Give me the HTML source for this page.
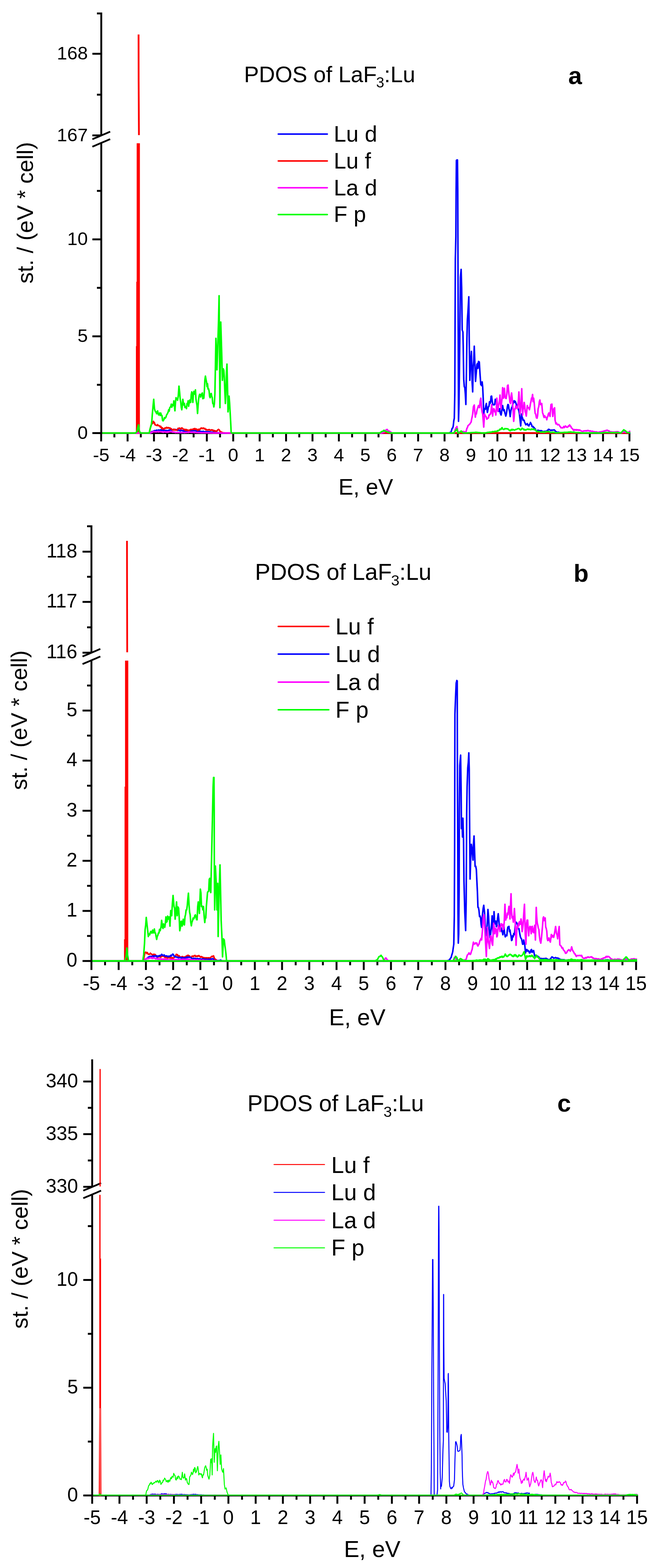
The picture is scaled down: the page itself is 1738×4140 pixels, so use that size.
<!DOCTYPE html><html><head><meta charset="utf-8"><title>PDOS of LaF3:Lu</title><style>html,body{margin:0;padding:0;background:#fff;}svg{display:block;}</style></head><body>
<svg width="1738" height="4140" viewBox="0 0 1738 4140" font-family="'Liberation Sans', Arial, Helvetica, sans-serif">
<rect width="1738" height="4140" fill="#fff"/>
<defs>
<clipPath id="paU"><rect x="270" y="33" width="1397.6" height="323.7"/></clipPath>
<clipPath id="paL"><rect x="270" y="378.3" width="1401.6" height="770.2"/></clipPath>
<clipPath id="pbU"><rect x="244" y="1387" width="1441.1" height="335.3"/></clipPath>
<clipPath id="pbL"><rect x="244" y="1744.3" width="1445.1" height="798"/></clipPath>
<clipPath id="pcU"><rect x="246" y="2797" width="1441.7" height="335.7"/></clipPath>
<clipPath id="pcL"><rect x="246" y="3154.7" width="1445.7" height="798.7"/></clipPath>
</defs>
<g id="pa">
<line x1="267.5" y1="33" x2="267.5" y2="357.7" stroke="#000" stroke-width="5" stroke-linecap="butt"/>
<line x1="267.5" y1="377.3" x2="267.5" y2="1146" stroke="#000" stroke-width="5" stroke-linecap="butt"/>
<line x1="265" y1="1143.5" x2="1665.1" y2="1143.5" stroke="#000" stroke-width="5" stroke-linecap="butt"/>
<line x1="267.2" y1="1143.5" x2="267.2" y2="1165.5" stroke="#000" stroke-width="5" stroke-linecap="butt"/>
<line x1="302.1" y1="1143.5" x2="302.1" y2="1154.8" stroke="#000" stroke-width="5" stroke-linecap="butt"/>
<line x1="337" y1="1143.5" x2="337" y2="1165.5" stroke="#000" stroke-width="5" stroke-linecap="butt"/>
<line x1="371.9" y1="1143.5" x2="371.9" y2="1154.8" stroke="#000" stroke-width="5" stroke-linecap="butt"/>
<line x1="406.7" y1="1143.5" x2="406.7" y2="1165.5" stroke="#000" stroke-width="5" stroke-linecap="butt"/>
<line x1="441.6" y1="1143.5" x2="441.6" y2="1154.8" stroke="#000" stroke-width="5" stroke-linecap="butt"/>
<line x1="476.5" y1="1143.5" x2="476.5" y2="1165.5" stroke="#000" stroke-width="5" stroke-linecap="butt"/>
<line x1="511.4" y1="1143.5" x2="511.4" y2="1154.8" stroke="#000" stroke-width="5" stroke-linecap="butt"/>
<line x1="546.3" y1="1143.5" x2="546.3" y2="1165.5" stroke="#000" stroke-width="5" stroke-linecap="butt"/>
<line x1="581.2" y1="1143.5" x2="581.2" y2="1154.8" stroke="#000" stroke-width="5" stroke-linecap="butt"/>
<line x1="616" y1="1143.5" x2="616" y2="1165.5" stroke="#000" stroke-width="5" stroke-linecap="butt"/>
<line x1="650.9" y1="1143.5" x2="650.9" y2="1154.8" stroke="#000" stroke-width="5" stroke-linecap="butt"/>
<line x1="685.8" y1="1143.5" x2="685.8" y2="1165.5" stroke="#000" stroke-width="5" stroke-linecap="butt"/>
<line x1="720.7" y1="1143.5" x2="720.7" y2="1154.8" stroke="#000" stroke-width="5" stroke-linecap="butt"/>
<line x1="755.6" y1="1143.5" x2="755.6" y2="1165.5" stroke="#000" stroke-width="5" stroke-linecap="butt"/>
<line x1="790.5" y1="1143.5" x2="790.5" y2="1154.8" stroke="#000" stroke-width="5" stroke-linecap="butt"/>
<line x1="825.4" y1="1143.5" x2="825.4" y2="1165.5" stroke="#000" stroke-width="5" stroke-linecap="butt"/>
<line x1="860.2" y1="1143.5" x2="860.2" y2="1154.8" stroke="#000" stroke-width="5" stroke-linecap="butt"/>
<line x1="895.1" y1="1143.5" x2="895.1" y2="1165.5" stroke="#000" stroke-width="5" stroke-linecap="butt"/>
<line x1="930" y1="1143.5" x2="930" y2="1154.8" stroke="#000" stroke-width="5" stroke-linecap="butt"/>
<line x1="964.9" y1="1143.5" x2="964.9" y2="1165.5" stroke="#000" stroke-width="5" stroke-linecap="butt"/>
<line x1="999.8" y1="1143.5" x2="999.8" y2="1154.8" stroke="#000" stroke-width="5" stroke-linecap="butt"/>
<line x1="1034.7" y1="1143.5" x2="1034.7" y2="1165.5" stroke="#000" stroke-width="5" stroke-linecap="butt"/>
<line x1="1069.6" y1="1143.5" x2="1069.6" y2="1154.8" stroke="#000" stroke-width="5" stroke-linecap="butt"/>
<line x1="1104.4" y1="1143.5" x2="1104.4" y2="1165.5" stroke="#000" stroke-width="5" stroke-linecap="butt"/>
<line x1="1139.3" y1="1143.5" x2="1139.3" y2="1154.8" stroke="#000" stroke-width="5" stroke-linecap="butt"/>
<line x1="1174.2" y1="1143.5" x2="1174.2" y2="1165.5" stroke="#000" stroke-width="5" stroke-linecap="butt"/>
<line x1="1209.1" y1="1143.5" x2="1209.1" y2="1154.8" stroke="#000" stroke-width="5" stroke-linecap="butt"/>
<line x1="1244" y1="1143.5" x2="1244" y2="1165.5" stroke="#000" stroke-width="5" stroke-linecap="butt"/>
<line x1="1278.9" y1="1143.5" x2="1278.9" y2="1154.8" stroke="#000" stroke-width="5" stroke-linecap="butt"/>
<line x1="1313.8" y1="1143.5" x2="1313.8" y2="1165.5" stroke="#000" stroke-width="5" stroke-linecap="butt"/>
<line x1="1348.6" y1="1143.5" x2="1348.6" y2="1154.8" stroke="#000" stroke-width="5" stroke-linecap="butt"/>
<line x1="1383.5" y1="1143.5" x2="1383.5" y2="1165.5" stroke="#000" stroke-width="5" stroke-linecap="butt"/>
<line x1="1418.4" y1="1143.5" x2="1418.4" y2="1154.8" stroke="#000" stroke-width="5" stroke-linecap="butt"/>
<line x1="1453.3" y1="1143.5" x2="1453.3" y2="1165.5" stroke="#000" stroke-width="5" stroke-linecap="butt"/>
<line x1="1488.2" y1="1143.5" x2="1488.2" y2="1154.8" stroke="#000" stroke-width="5" stroke-linecap="butt"/>
<line x1="1523.1" y1="1143.5" x2="1523.1" y2="1165.5" stroke="#000" stroke-width="5" stroke-linecap="butt"/>
<line x1="1557.9" y1="1143.5" x2="1557.9" y2="1154.8" stroke="#000" stroke-width="5" stroke-linecap="butt"/>
<line x1="1592.8" y1="1143.5" x2="1592.8" y2="1165.5" stroke="#000" stroke-width="5" stroke-linecap="butt"/>
<line x1="1627.7" y1="1143.5" x2="1627.7" y2="1154.8" stroke="#000" stroke-width="5" stroke-linecap="butt"/>
<line x1="1662.6" y1="1143.5" x2="1662.6" y2="1165.5" stroke="#000" stroke-width="5" stroke-linecap="butt"/>
<line x1="256" y1="35.5" x2="267.5" y2="35.5" stroke="#000" stroke-width="5" stroke-linecap="butt"/>
<line x1="244" y1="142" x2="267.5" y2="142" stroke="#000" stroke-width="5" stroke-linecap="butt"/>
<line x1="256" y1="250" x2="267.5" y2="250" stroke="#000" stroke-width="5" stroke-linecap="butt"/>
<line x1="244" y1="357.5" x2="267.5" y2="357.5" stroke="#000" stroke-width="5" stroke-linecap="butt"/>
<line x1="256" y1="504" x2="267.5" y2="504" stroke="#000" stroke-width="5" stroke-linecap="butt"/>
<line x1="244" y1="632" x2="267.5" y2="632" stroke="#000" stroke-width="5" stroke-linecap="butt"/>
<line x1="256" y1="760" x2="267.5" y2="760" stroke="#000" stroke-width="5" stroke-linecap="butt"/>
<line x1="244" y1="888" x2="267.5" y2="888" stroke="#000" stroke-width="5" stroke-linecap="butt"/>
<line x1="256" y1="1016" x2="267.5" y2="1016" stroke="#000" stroke-width="5" stroke-linecap="butt"/>
<line x1="244" y1="1143.5" x2="267.5" y2="1143.5" stroke="#000" stroke-width="5" stroke-linecap="butt"/>
<line x1="244" y1="367.7" x2="291" y2="347.7" stroke="#000" stroke-width="4.6" stroke-linecap="butt"/>
<line x1="244" y1="387.3" x2="291" y2="367.3" stroke="#000" stroke-width="4.6" stroke-linecap="butt"/>
<path d="M267.2 1143.4 L268.5 1143.4 L269.8 1143.4 L271.1 1143.4 L272.4 1143.4 L273.7 1143.4 L275 1143.4 L276.3 1143.4 L277.6 1143.4 L279 1143.4 L280.3 1143.4 L281.6 1143.4 L282.9 1143.4 L284.2 1143.4 L285.5 1143.4 L286.8 1143.4 L288.1 1143.4 L289.4 1143.4 L290.7 1143.4 L292 1143.4 L293.3 1143.4 L294.6 1143.4 L295.9 1143.4 L297.2 1143.4 L298.5 1143.4 L299.9 1143.4 L301.2 1143.4 L302.5 1143.4 L303.8 1143.4 L305.1 1143.4 L306.4 1143.4 L307.7 1143.4 L309 1143.4 L310.3 1143.4 L311.6 1143.4 L312.9 1143.4 L314.2 1143.4 L315.5 1143.4 L316.8 1143.4 L318.1 1143.4 L319.4 1143.4 L320.8 1143.4 L322.1 1143.4 L323.4 1143.4 L324.7 1143.4 L326 1143.4 L327.3 1143.4 L328.6 1143.4 L329.9 1143.4 L331.2 1143.4 L332.5 1143.4 L333.8 1143.4 L335.1 1143.4 L336.4 1143.4 L337.7 1143.4 L339 1143.4 L340.3 1143.4 L341.6 1143.4 L343 1143.4 L344.3 1143.4 L345.6 1143.4 L346.9 1143.4 L348.2 1143.4 L349.5 1143.4 L350.8 1143.4 L352.1 1143.4 L353.4 1143.4 L354.7 1143.4 L356 1143.4 L357.3 1143.4 L358.6 1143.4 L359.9 1143.4 L361.2 1143.4 L362.5 1143.4 L363.9 1143.4 L365.2 1143.4 L366.5 1143.4 L367.8 1143.4 L369.1 1143.4 L370.4 1143.4 L371.7 1143.4 L373 1143.4 L374.3 1143.4 L375.6 1143.4 L376.9 1143.4 L378.2 1143.4 L379.5 1143.4 L380.8 1143.4 L382.1 1143.4 L383.4 1143.4 L384.7 1143.4 L386.1 1143.4 L387.4 1143.4 L388.7 1143.4 L390 1143.4 L391.3 1143.4 L392.6 1143.4 L393.9 1143.4 L395.4 1143.4 L396.9 1143.4 L398.3 1142.1 L399.7 1140.8 L401.1 1139.4 L402.4 1140.7 L403.8 1139.8 L405.2 1138.3 L406.6 1138 L408 1136.7 L409.4 1137 L410.8 1137.7 L412.2 1136.7 L413.5 1135.6 L414.9 1137.5 L416.3 1136.6 L417.7 1135.6 L419.1 1135.5 L420.5 1135.3 L421.9 1136.4 L423.3 1136.2 L424.6 1134.6 L426 1135.7 L427.4 1136.2 L428.8 1136.1 L430.2 1135.1 L431.6 1136.9 L433 1135.6 L434.4 1137.3 L435.7 1136.8 L437.1 1137.2 L438.5 1136.2 L439.9 1137.9 L441.3 1137 L442.7 1137.1 L444.1 1137.5 L445.5 1135.8 L446.8 1136.6 L448.2 1135.2 L449.6 1134.5 L451 1135.3 L452.4 1135.6 L453.8 1135.6 L455.2 1134.7 L456.6 1135.4 L457.9 1133.8 L459.3 1133.7 L460.7 1135.3 L462.1 1134.6 L463.5 1134 L464.9 1134 L466.3 1135.1 L467.7 1135.3 L469 1136.5 L470.4 1135.6 L471.8 1135.1 L473.2 1136.4 L474.6 1136.4 L476 1137.6 L477.4 1135.8 L478.8 1136.7 L480.1 1136 L481.5 1137.2 L482.9 1137.5 L484.3 1136.6 L485.7 1138.4 L487.1 1136.7 L488.5 1138.6 L489.9 1138 L491.2 1138.8 L492.6 1137.8 L494 1138.1 L495.4 1138.3 L496.8 1137.5 L498.2 1137 L499.6 1136.8 L501 1137.2 L502.3 1137.1 L503.7 1137 L505.1 1138 L506.5 1136.4 L507.9 1136.5 L509.3 1137.5 L510.7 1136.1 L512.1 1136.7 L513.5 1137.1 L514.8 1137.3 L516.2 1136.7 L517.6 1137 L519 1138.9 L520.4 1139.1 L521.8 1137.6 L523.2 1138.9 L524.6 1139.8 L525.9 1138.6 L527.3 1138.8 L528.7 1138.3 L530.1 1139.2 L531.5 1139.3 L532.9 1139.4 L534.3 1139.4 L535.7 1139.6 L537 1138.6 L538.4 1140.4 L539.8 1139.7 L541.2 1140.7 L542.6 1140.2 L544 1139.4 L545.4 1140 L546.8 1139.8 L548.1 1140.8 L549.5 1139.6 L550.9 1139.9 L552.3 1140.1 L553.7 1140.1 L555.1 1140.6 L556.5 1140.8 L557.9 1141.6 L559.2 1141 L560.6 1142.1 L562 1141 L563.4 1140.9 L564.8 1141.9 L566.2 1142 L567.6 1142.2 L569 1142.3 L570.3 1142.3 L571.7 1142.4 L573.1 1142.5 L574.5 1142.6 L575.9 1142.6 L577.3 1142.7 L578.7 1142.8 L580.1 1142.8 L581.4 1142.9 L582.8 1143 L584.2 1143.1 L585.6 1143.2 L587 1143.2 L588.4 1143.3 L589.8 1143.4 L591.2 1143.4 L592.5 1143.4 L593.9 1143.4 L595.3 1143.4 L596.7 1143.4 L598.1 1143.4 L599.5 1143.4 L600.9 1143.4 L602.3 1143.4 L603.6 1143.4 L605 1143.4 L606.4 1143.4 L607.8 1143.4 L609.2 1143.4 L610.6 1143.4 L611.9 1143.4 L613.2 1143.4 L614.5 1143.4 L615.8 1143.4 L617.1 1143.4 L618.4 1143.4 L619.7 1143.4 L621 1143.4 L622.3 1143.4 L623.6 1143.4 L624.9 1143.4 L626.2 1143.4 L627.5 1143.4 L628.8 1143.4 L630.1 1143.4 L631.4 1143.4 L632.7 1143.4 L634 1143.4 L635.3 1143.4 L636.6 1143.4 L637.9 1143.4 L639.2 1143.4 L640.5 1143.4 L641.8 1143.4 L643.1 1143.4 L644.4 1143.4 L645.7 1143.4 L647 1143.4 L648.3 1143.4 L649.6 1143.4 L650.9 1143.4 L652.2 1143.4 L653.5 1143.4 L654.9 1143.4 L656.2 1143.4 L657.5 1143.4 L658.8 1143.4 L660.1 1143.4 L661.4 1143.4 L662.7 1143.4 L664 1143.4 L665.3 1143.4 L666.6 1143.4 L667.9 1143.4 L669.2 1143.4 L670.5 1143.4 L671.8 1143.4 L673.1 1143.4 L674.4 1143.4 L675.7 1143.4 L677 1143.4 L678.3 1143.4 L679.6 1143.4 L680.9 1143.4 L682.2 1143.4 L683.5 1143.4 L684.8 1143.4 L686.1 1143.4 L687.4 1143.4 L688.7 1143.4 L690 1143.4 L691.3 1143.4 L692.6 1143.4 L693.9 1143.4 L695.2 1143.4 L696.5 1143.4 L697.8 1143.4 L699.1 1143.4 L700.4 1143.4 L701.7 1143.4 L703 1143.4 L704.3 1143.4 L705.6 1143.4 L706.9 1143.4 L708.2 1143.4 L709.5 1143.4 L710.8 1143.4 L712.1 1143.4 L713.4 1143.4 L714.7 1143.4 L716 1143.4 L717.3 1143.4 L718.7 1143.4 L720 1143.4 L721.3 1143.4 L722.6 1143.4 L723.9 1143.4 L725.2 1143.4 L726.5 1143.4 L727.8 1143.4 L729.1 1143.4 L730.4 1143.4 L731.7 1143.4 L733 1143.4 L734.3 1143.4 L735.6 1143.4 L736.9 1143.4 L738.2 1143.4 L739.5 1143.4 L740.8 1143.4 L742.1 1143.4 L743.4 1143.4 L744.7 1143.4 L746 1143.4 L747.3 1143.4 L748.6 1143.4 L749.9 1143.4 L751.2 1143.4 L752.5 1143.4 L753.8 1143.4 L755.1 1143.4 L756.4 1143.4 L757.7 1143.4 L759 1143.4 L760.3 1143.4 L761.6 1143.4 L762.9 1143.4 L764.2 1143.4 L765.5 1143.4 L766.8 1143.4 L768.1 1143.4 L769.4 1143.4 L770.7 1143.4 L772 1143.4 L773.3 1143.4 L774.6 1143.4 L775.9 1143.4 L777.2 1143.4 L778.5 1143.4 L779.8 1143.4 L781.1 1143.4 L782.5 1143.4 L783.8 1143.4 L785.1 1143.4 L786.4 1143.4 L787.7 1143.4 L789 1143.4 L790.3 1143.4 L791.6 1143.4 L792.9 1143.4 L794.2 1143.4 L795.5 1143.4 L796.8 1143.4 L798.1 1143.4 L799.4 1143.4 L800.7 1143.4 L802 1143.4 L803.3 1143.4 L804.6 1143.4 L805.9 1143.4 L807.2 1143.4 L808.5 1143.4 L809.8 1143.4 L811.1 1143.4 L812.4 1143.4 L813.7 1143.4 L815 1143.4 L816.3 1143.4 L817.6 1143.4 L818.9 1143.4 L820.2 1143.4 L821.5 1143.4 L822.8 1143.4 L824.1 1143.4 L825.4 1143.4 L826.7 1143.4 L828 1143.4 L829.3 1143.4 L830.6 1143.4 L831.9 1143.4 L833.2 1143.4 L834.5 1143.4 L835.8 1143.4 L837.1 1143.4 L838.4 1143.4 L839.7 1143.4 L841 1143.4 L842.3 1143.4 L843.6 1143.4 L844.9 1143.4 L846.2 1143.4 L847.6 1143.4 L848.9 1143.4 L850.2 1143.4 L851.5 1143.4 L852.8 1143.4 L854.1 1143.4 L855.4 1143.4 L856.7 1143.4 L858 1143.4 L859.3 1143.4 L860.6 1143.4 L861.9 1143.4 L863.2 1143.4 L864.5 1143.4 L865.8 1143.4 L867.1 1143.4 L868.4 1143.4 L869.7 1143.4 L871 1143.4 L872.3 1143.4 L873.6 1143.4 L874.9 1143.4 L876.2 1143.4 L877.5 1143.4 L878.8 1143.4 L880.1 1143.4 L881.4 1143.4 L882.7 1143.4 L884 1143.4 L885.3 1143.4 L886.6 1143.4 L887.9 1143.4 L889.2 1143.4 L890.5 1143.4 L891.8 1143.4 L893.1 1143.4 L894.4 1143.4 L895.7 1143.4 L897 1143.4 L898.3 1143.4 L899.6 1143.4 L900.9 1143.4 L902.2 1143.4 L903.5 1143.4 L904.8 1143.4 L906.1 1143.4 L907.4 1143.4 L908.7 1143.4 L910 1143.4 L911.4 1143.4 L912.7 1143.4 L914 1143.4 L915.3 1143.4 L916.6 1143.4 L917.9 1143.4 L919.2 1143.4 L920.5 1143.4 L921.8 1143.4 L923.1 1143.4 L924.4 1143.4 L925.7 1143.4 L927 1143.4 L928.3 1143.4 L929.6 1143.4 L930.9 1143.4 L932.2 1143.4 L933.5 1143.4 L934.8 1143.4 L936.1 1143.4 L937.4 1143.4 L938.7 1143.4 L940 1143.4 L941.3 1143.4 L942.6 1143.4 L943.9 1143.4 L945.2 1143.4 L946.5 1143.4 L947.8 1143.4 L949.1 1143.4 L950.4 1143.4 L951.7 1143.4 L953 1143.4 L954.3 1143.4 L955.6 1143.4 L956.9 1143.4 L958.2 1143.4 L959.5 1143.4 L960.8 1143.4 L962.1 1143.4 L963.4 1143.4 L964.7 1143.4 L966 1143.4 L967.3 1143.4 L968.6 1143.4 L969.9 1143.4 L971.2 1143.4 L972.5 1143.4 L973.8 1143.4 L975.1 1143.4 L976.5 1143.4 L977.8 1143.4 L979.1 1143.4 L980.4 1143.4 L981.7 1143.4 L983 1143.4 L984.3 1143.4 L985.6 1143.4 L986.9 1143.4 L988.2 1143.4 L989.5 1143.4 L990.8 1143.4 L992.1 1143.4 L993.4 1143.4 L994.7 1143.4 L996 1143.4 L997.3 1143.4 L998.6 1143.4 L999.9 1143.4 L1001.2 1143.4 L1002.5 1143.4 L1003.8 1143.4 L1005.1 1143.4 L1006.4 1143.4 L1007.7 1143.4 L1009 1143.4 L1010.3 1143.4 L1011.6 1143.4 L1012.9 1143.4 L1014.2 1143.4 L1015.5 1143.4 L1016.8 1143.4 L1018.1 1143.4 L1019.4 1143.4 L1020.7 1143.4 L1022 1143.4 L1023.3 1143.4 L1024.6 1143.4 L1025.9 1143.4 L1027.2 1143.4 L1028.5 1143.4 L1029.8 1143.4 L1031.1 1143.4 L1032.4 1143.4 L1033.7 1143.4 L1035 1143.4 L1036.3 1143.4 L1037.6 1143.4 L1038.9 1143.4 L1040.3 1143.4 L1041.6 1143.4 L1042.9 1143.4 L1044.2 1143.4 L1045.5 1143.4 L1046.8 1143.4 L1048.1 1143.4 L1049.4 1143.4 L1050.7 1143.4 L1052 1143.4 L1053.3 1143.4 L1054.6 1143.4 L1055.9 1143.4 L1057.2 1143.4 L1058.5 1143.4 L1059.8 1143.4 L1061.1 1143.4 L1062.4 1143.4 L1063.7 1143.4 L1065 1143.4 L1066.3 1143.4 L1067.6 1143.4 L1068.9 1143.4 L1070.2 1143.4 L1071.5 1143.4 L1072.8 1143.4 L1074.1 1143.4 L1075.4 1143.4 L1076.7 1143.4 L1078 1143.4 L1079.3 1143.4 L1080.6 1143.4 L1081.9 1143.4 L1083.2 1143.4 L1084.5 1143.4 L1085.8 1143.4 L1087.1 1143.4 L1088.4 1143.4 L1089.7 1143.4 L1091 1143.4 L1092.3 1143.4 L1093.6 1143.4 L1094.9 1143.4 L1096.2 1143.4 L1097.5 1143.4 L1098.8 1143.4 L1100.1 1143.4 L1101.4 1143.4 L1102.7 1143.4 L1104.1 1143.4 L1105.4 1143.4 L1106.7 1143.4 L1108 1143.4 L1109.3 1143.4 L1110.6 1143.4 L1111.9 1143.4 L1113.2 1143.4 L1114.5 1143.4 L1115.8 1143.4 L1117.1 1143.4 L1118.4 1143.4 L1119.7 1143.4 L1121 1143.4 L1122.3 1143.4 L1123.6 1143.4 L1124.9 1143.4 L1126.2 1143.4 L1127.5 1143.4 L1128.8 1143.4 L1130.1 1143.4 L1131.4 1143.4 L1132.7 1143.4 L1134 1143.4 L1135.3 1143.4 L1136.6 1143.4 L1137.9 1143.4 L1139.2 1143.4 L1140.5 1143.4 L1141.8 1143.4 L1143.1 1143.4 L1144.4 1143.4 L1145.7 1143.4 L1147 1143.4 L1148.3 1143.4 L1149.6 1143.4 L1150.9 1143.4 L1152.2 1143.4 L1153.5 1143.4 L1154.8 1143.4 L1156.1 1143.4 L1157.4 1143.4 L1158.7 1143.4 L1160 1143.4 L1161.3 1143.4 L1162.6 1143.4 L1163.9 1143.4 L1165.2 1143.4 L1166.5 1143.4 L1167.8 1143.4 L1169.2 1143.4 L1170.5 1143.4 L1171.8 1143.4 L1173.1 1143.4 L1174.4 1143.4 L1175.7 1143.4 L1177 1143.4 L1178.3 1143.4 L1179.6 1143.4 L1180.9 1143.4 L1182.2 1143.4 L1183.5 1143.4 L1184.8 1143.4 L1186.1 1143.4 L1187.5 1142.5 L1188.9 1141.6 L1190.2 1141.6 L1191.6 1140 L1193 1135.3 L1194.4 1130.7 L1195.8 1130.3 L1197.2 1124.6 L1198.6 1111 L1200 1104.1 L1201.3 1037.5 L1201.9 879.3 L1202.7 683.1 L1204.1 624.8 L1204.7 509.7 L1205.5 423.6 L1206.9 422.3 L1208.3 422.3 L1209.1 500 L1209.7 695.6 L1210.5 926.5 L1211.1 1112.5 L1212.4 1065.3 L1214.4 898.8 L1216 732.2 L1218 711.4 L1219.4 760 L1220.8 871 L1222.7 876.6 L1223.5 912.6 L1224.9 1001.4 L1226.3 1020.7 L1227.7 1023.6 L1229.1 1040.7 L1230.5 1068 L1231.9 989.2 L1233.3 893.2 L1234.6 842.8 L1236 823.8 L1238.3 783.6 L1239.4 898.8 L1241 1004.2 L1243 954.3 L1245.2 927.9 L1247.1 1009.8 L1248.5 1034.7 L1249.9 968.1 L1251.3 952.6 L1252.7 914 L1254.1 954.3 L1256 1007 L1258.2 982 L1259.6 962.9 L1261 959.8 L1262.4 972.6 L1263.8 954.3 L1266 955.7 L1267.9 987.6 L1269.9 1015.3 L1272.1 1018.1 L1273.5 1008.2 L1274.9 1020.9 L1276.3 1051.4 L1277.7 1093 L1279 1082.9 L1280.4 1079.1 L1281.8 1080.7 L1283.2 1070.7 L1284.6 1065.3 L1286 1079.3 L1287.4 1088.9 L1288.8 1081.7 L1290.1 1073.6 L1291.5 1073.3 L1292.9 1060.9 L1294.3 1065.3 L1295.7 1062.5 L1297.1 1046.4 L1298.5 1045.8 L1299.9 1058.2 L1301.2 1065.3 L1302.6 1068.9 L1304 1068 L1305.4 1068.9 L1306.8 1067.6 L1308.2 1054.2 L1309.6 1054.5 L1311 1059.7 L1312.3 1062.8 L1313.7 1076.4 L1315.1 1081.7 L1316.5 1086.1 L1318.2 1086 L1319.8 1079.1 L1321.6 1091.4 L1323.5 1095.8 L1324.8 1089.6 L1326.2 1076.2 L1327.6 1070.8 L1329 1079.4 L1330.4 1084.4 L1331.8 1081.9 L1333.2 1088.9 L1334.6 1093.6 L1335.9 1098.6 L1337.3 1093.7 L1338.7 1084.9 L1340.1 1074 L1341.5 1068 L1342.9 1068.9 L1344.3 1079.1 L1345.9 1086.5 L1347.6 1100 L1349.4 1085 L1351.2 1076.4 L1352.6 1075.4 L1354 1068.5 L1355.4 1065.3 L1356.8 1060.4 L1358.1 1058.1 L1359.5 1062.5 L1360.9 1059.6 L1362.3 1063 L1363.7 1068 L1365.1 1077.4 L1366.5 1068.5 L1367.9 1079.1 L1369.2 1080.4 L1370.6 1085.6 L1372 1093 L1373.7 1109.8 L1375.3 1124.6 L1377.6 1093 L1379 1101.5 L1380.3 1103.6 L1381.7 1109.7 L1383.1 1108.9 L1384.5 1110.1 L1385.9 1115.4 L1387.3 1117.6 L1388.7 1121.5 L1390.1 1120.5 L1391.4 1120.5 L1392.8 1118.5 L1394.2 1122.5 L1395.6 1123.6 L1397 1124.6 L1398.4 1120.4 L1399.8 1120 L1401.2 1115.4 L1402.5 1118.7 L1403.9 1120.8 L1405.3 1126.1 L1406.7 1127.1 L1408.1 1126.2 L1409.5 1129 L1410.9 1129.1 L1412.3 1132.4 L1413.6 1132 L1415 1135.5 L1416.4 1138 L1417.8 1138.5 L1419.2 1138.4 L1420.6 1135.8 L1422 1136.7 L1423.4 1136.6 L1424.7 1137 L1426.1 1138.3 L1427.5 1137.2 L1428.9 1137 L1430.3 1137.3 L1431.7 1138.4 L1433.1 1138.9 L1434.5 1139.1 L1435.8 1139.2 L1437.2 1139.3 L1438.6 1139.4 L1440 1138.4 L1441.4 1139.3 L1442.8 1139 L1444.2 1138 L1445.6 1136.5 L1447.1 1137.2 L1448.5 1133.6 L1450 1133.7 L1451.4 1134.2 L1452.7 1135 L1454.1 1136.4 L1455.7 1136.6 L1457.3 1135.3 L1458.9 1135.7 L1460.4 1135.7 L1461.9 1135.4 L1463.4 1134.9 L1464.9 1135.7 L1466.7 1137.9 L1468.5 1140 L1469.9 1140.2 L1471.2 1140.6 L1472.6 1141.6 L1474 1141.7 L1475.4 1140.9 L1476.7 1141.7 L1478.1 1141.9 L1479.4 1142 L1480.8 1142.1 L1482.1 1142.2 L1483.4 1142.3 L1484.8 1142.4 L1486.1 1142.5 L1487.5 1142.7 L1488.8 1142.8 L1490.1 1142.9 L1491.5 1142.9 L1492.8 1142.9 L1494.1 1142.9 L1495.5 1142.9 L1496.8 1143 L1498.1 1143 L1499.5 1143 L1500.8 1143 L1502.2 1143 L1503.5 1143.1 L1504.8 1143.1 L1506.2 1143.1 L1507.5 1143.1 L1508.8 1143.1 L1510.2 1143.2 L1511.5 1143.2 L1512.8 1143.2 L1514.2 1143.2 L1515.5 1143.2 L1516.9 1143.3 L1518.2 1143.3 L1519.5 1143.3 L1520.9 1143.3 L1522.2 1143.3 L1523.5 1143.4 L1524.9 1143.4 L1526.2 1143.4 L1527.5 1143.4 L1528.8 1143.4 L1530.1 1143.4 L1531.4 1143.4 L1532.7 1143.4 L1534 1143.4 L1535.3 1143.4 L1536.6 1143.4 L1537.9 1143.4 L1539.2 1143.4 L1540.5 1143.4 L1541.8 1143.4 L1543.1 1143.4 L1544.4 1143.4 L1545.7 1143.4 L1547 1143.4 L1548.3 1143.4 L1549.6 1143.4 L1550.9 1143.4 L1552.2 1143.4 L1553.5 1143.4 L1554.8 1143.4 L1556.1 1143.4 L1557.4 1143.4 L1558.7 1143.4 L1560 1143.4 L1561.3 1143.4 L1562.6 1143.4 L1563.9 1143.4 L1565.2 1143.4 L1566.5 1143.4 L1567.8 1143.4 L1569.1 1143.4 L1570.4 1143.4 L1571.7 1143.4 L1573 1143.4 L1574.3 1143.4 L1575.6 1143.4 L1577 1143.4 L1578.3 1143.4 L1579.6 1143.4 L1580.9 1143.4 L1582.2 1143.4 L1583.6 1143.4 L1584.9 1143.4 L1586.2 1143.4 L1587.5 1143.4 L1588.8 1143.4 L1590.2 1143.4 L1591.5 1143.4 L1592.8 1143.4 L1594.1 1143.4 L1595.4 1143.4 L1596.8 1143.4 L1598.1 1143.4 L1599.4 1143.4 L1600.7 1143.4 L1602 1143.4 L1603.4 1143.4 L1604.7 1143.4 L1606 1143.4 L1607.3 1143.4 L1608.6 1143.4 L1610 1143.4 L1611.3 1143.4 L1612.6 1143.4 L1613.9 1143.4 L1615.2 1143.4 L1616.6 1143.4 L1617.9 1143.4 L1619.2 1143.4 L1620.5 1143.4 L1621.8 1143.4 L1623.2 1143.4 L1624.5 1143.4 L1625.8 1143.4 L1627.1 1143.4 L1628.5 1143.4 L1629.8 1143.4 L1631.1 1143.4 L1632.4 1143.4 L1633.7 1143.4 L1635.1 1143.4 L1636.4 1143.4 L1637.7 1143.4 L1639 1143.4 L1640.3 1143.4 L1641.7 1143.4 L1643.5 1142.3 L1645.3 1141.2 L1647.7 1139.5 L1650.1 1142.4 L1651.4 1142.5 L1652.7 1142.6 L1654 1142.7 L1655.4 1142.8 L1656.7 1142.9 L1658 1143 L1659.3 1143.1 L1660.7 1143.2 L1662 1143.3 L1663.3 1143.4 L1662.6 1143.4" fill="none" stroke="#0000ff" stroke-width="4.1" stroke-linejoin="round" stroke-linecap="butt" clip-path="url(#paL)"/>
<path d="M267.2 1143.4 L268.5 1143.4 L269.8 1143.4 L271.1 1143.4 L272.4 1143.4 L273.7 1143.4 L275 1143.4 L276.3 1143.4 L277.6 1143.4 L278.9 1143.4 L280.2 1143.4 L281.5 1143.4 L282.9 1143.4 L284.2 1143.4 L285.5 1143.4 L286.8 1143.4 L288.1 1143.4 L289.4 1143.4 L290.7 1143.4 L292 1143.4 L293.3 1143.4 L294.6 1143.4 L295.9 1143.4 L297.2 1143.4 L298.5 1143.4 L299.8 1143.4 L301.1 1143.4 L302.4 1143.4 L303.7 1143.4 L305 1143.4 L306.3 1143.4 L307.6 1143.4 L308.9 1143.4 L310.2 1143.4 L311.5 1143.4 L312.9 1143.4 L314.2 1143.4 L315.5 1143.4 L316.8 1143.4 L318.1 1143.4 L319.4 1143.4 L320.7 1143.4 L322 1143.4 L323.3 1143.4 L324.6 1143.4 L325.9 1143.4 L327.2 1143.4 L328.5 1143.4 L329.8 1143.4 L331.1 1143.4 L332.4 1143.4 L333.7 1143.4 L335 1143.4 L336.3 1143.4 L337.6 1143.4 L338.9 1143.4 L340.2 1143.4 L341.5 1143.4 L342.9 1143.4 L344.2 1143.4 L345.5 1143.4 L346.8 1143.4 L348.1 1143.4 L349.4 1143.4 L350.7 1143.4 L352 1143.4 L353.3 1143.4 L354.6 1143.4 L355.9 1143.4 L357.2 1143.4 L358.5 1143.4 L359.8 1143.4 L361.1 1143.4 L362.4 1143.4 L363.7 1143.4 L365 1143.4 L366.3 1143.4 L367.6 1143.4 L368.9 1143.4 L370.2 1143.4 L371.6 1143.4 L372.9 1143.4 L374.2 1143.4 L375.5 1143.4 L376.8 1143.4 L378.1 1143.4 L379.4 1143.4 L380.7 1143.4 L382 1143.4 L383.3 1143.4 L384.6 1143.4 L385.9 1143.4 L387.2 1143.4 L388.5 1143.4 L389.8 1143.4 L391.1 1143.4 L392.6 1143.4 L394.1 1143.4 L395.5 1137.8 L396.9 1130.7 L398.3 1125.3 L399.7 1121.5 L401.1 1118.5 L402.4 1118.5 L403.8 1117.6 L405.2 1112.5 L406.6 1115.4 L408 1116.1 L409.4 1121.5 L410.8 1121.9 L412.2 1122.8 L413.5 1123 L414.9 1123.6 L416.3 1121.2 L417.7 1123 L419.1 1124.2 L420.5 1124.1 L421.9 1124.6 L423.3 1127.7 L424.6 1125.6 L426 1129.1 L427.4 1131.7 L428.8 1129.4 L430.2 1132.6 L431.6 1132.2 L433 1131.8 L434.4 1132.6 L435.7 1129.9 L437.1 1130.7 L438.5 1129.6 L439.9 1128.3 L441.3 1130.6 L442.7 1129.1 L444.1 1129.8 L445.5 1129 L446.8 1130.7 L448.2 1130.1 L449.6 1130.2 L451 1132.2 L452.4 1132 L453.8 1133.9 L455.2 1134.3 L456.6 1135.3 L457.9 1135.5 L459.3 1133.2 L460.7 1135.1 L462.1 1133.7 L463.5 1135.6 L464.9 1135.2 L466.3 1135.6 L467.7 1135.3 L469 1134.8 L470.4 1130.8 L471.8 1130.7 L473.2 1131 L474.6 1130.2 L476 1132.2 L477.4 1132.8 L478.8 1131.6 L480.1 1129.6 L481.5 1130.7 L482.9 1131.5 L484.3 1133.6 L485.7 1133.7 L487.1 1134.3 L488.5 1133.4 L489.9 1136.1 L491.2 1135.3 L492.6 1134 L494 1136.2 L495.4 1135.3 L496.8 1136.6 L498.2 1136 L499.6 1136.5 L501 1135.3 L502.3 1135 L503.7 1133.7 L505.1 1134 L506.5 1133.7 L507.9 1134.1 L509.3 1133.8 L510.7 1132.2 L512.1 1132.2 L513.5 1134.1 L514.8 1131.4 L516.2 1133.3 L517.6 1133.7 L519 1132.7 L520.4 1134.1 L521.8 1136.3 L523.2 1135.3 L524.6 1133.3 L525.9 1135.2 L527.3 1134.3 L528.7 1132.2 L530.1 1132.5 L531.5 1129.8 L532.9 1131 L534.3 1130.7 L535.7 1131.8 L537 1130 L538.4 1131.1 L539.8 1132.2 L541.2 1131.2 L542.6 1134.1 L544 1134.7 L545.4 1133.7 L546.8 1135.4 L548.1 1135.2 L549.5 1135.1 L550.9 1135.3 L552.3 1134 L553.7 1135.2 L555.1 1136 L556.5 1135.3 L557.9 1136.3 L559.2 1134.7 L560.6 1135 L562 1136.7 L563.4 1136 L564.8 1138.4 L566.2 1136.8 L567.6 1138 L569 1137.8 L570.3 1138 L571.7 1138.9 L573.1 1138 L574.5 1135.7 L575.9 1134.5 L577.3 1133.7 L579.2 1135.3 L581 1138.7 L582.8 1140.8 L584.2 1140.5 L585.6 1141.1 L587 1142 L588.4 1142.4 L589.8 1142.8 L591.2 1142.8 L592.5 1142.9 L593.9 1143 L595.3 1143.1 L596.7 1143.2 L598.1 1143.2 L599.5 1143.3 L600.9 1143.4 L602.3 1143.4 L603.6 1143.4 L605 1143.4 L606.4 1143.4 L607.8 1143.4 L609.2 1143.4 L610.6 1143.4 L612.1 1143.4 L613.6 1143.4 L614.9 1143.4 L616.2 1143.4 L617.5 1143.4 L618.8 1143.4 L620.1 1143.4 L621.4 1143.4 L622.7 1143.4 L624 1143.4 L625.3 1143.4 L626.6 1143.4 L627.9 1143.4 L629.2 1143.4 L630.5 1143.4 L631.8 1143.4 L633.1 1143.4 L634.4 1143.4 L635.7 1143.4 L637 1143.4 L638.3 1143.4 L639.6 1143.4 L640.9 1143.4 L642.2 1143.4 L643.5 1143.4 L644.8 1143.4 L646.1 1143.4 L647.4 1143.4 L648.7 1143.4 L650 1143.4 L651.3 1143.4 L652.6 1143.4 L653.9 1143.4 L655.2 1143.4 L656.5 1143.4 L657.8 1143.4 L659.1 1143.4 L660.4 1143.4 L661.7 1143.4 L663 1143.4 L664.3 1143.4 L665.6 1143.4 L666.9 1143.4 L668.2 1143.4 L669.5 1143.4 L670.8 1143.4 L672.2 1143.4 L673.5 1143.4 L674.8 1143.4 L676.1 1143.4 L677.4 1143.4 L678.7 1143.4 L680 1143.4 L681.3 1143.4 L682.6 1143.4 L683.9 1143.4 L685.2 1143.4 L686.5 1143.4 L687.8 1143.4 L689.1 1143.4 L690.4 1143.4 L691.7 1143.4 L693 1143.4 L694.3 1143.4 L695.6 1143.4 L696.9 1143.4 L698.2 1143.4 L699.5 1143.4 L700.8 1143.4 L702.1 1143.4 L703.4 1143.4 L704.7 1143.4 L706 1143.4 L707.3 1143.4 L708.6 1143.4 L709.9 1143.4 L711.2 1143.4 L712.5 1143.4 L713.8 1143.4 L715.1 1143.4 L716.4 1143.4 L717.7 1143.4 L719 1143.4 L720.3 1143.4 L721.6 1143.4 L722.9 1143.4 L724.2 1143.4 L725.5 1143.4 L726.8 1143.4 L728.1 1143.4 L729.4 1143.4 L730.7 1143.4 L732 1143.4 L733.3 1143.4 L734.6 1143.4 L735.9 1143.4 L737.2 1143.4 L738.5 1143.4 L739.8 1143.4 L741.1 1143.4 L742.4 1143.4 L743.7 1143.4 L745 1143.4 L746.3 1143.4 L747.6 1143.4 L748.9 1143.4 L750.2 1143.4 L751.5 1143.4 L752.8 1143.4 L754.1 1143.4 L755.4 1143.4 L756.7 1143.4 L758.1 1143.4 L759.4 1143.4 L760.7 1143.4 L762 1143.4 L763.3 1143.4 L764.6 1143.4 L765.9 1143.4 L767.2 1143.4 L768.5 1143.4 L769.8 1143.4 L771.1 1143.4 L772.4 1143.4 L773.7 1143.4 L775 1143.4 L776.3 1143.4 L777.6 1143.4 L778.9 1143.4 L780.2 1143.4 L781.5 1143.4 L782.8 1143.4 L784.1 1143.4 L785.4 1143.4 L786.7 1143.4 L788 1143.4 L789.3 1143.4 L790.6 1143.4 L791.9 1143.4 L793.2 1143.4 L794.5 1143.4 L795.8 1143.4 L797.1 1143.4 L798.4 1143.4 L799.7 1143.4 L801 1143.4 L802.3 1143.4 L803.6 1143.4 L804.9 1143.4 L806.2 1143.4 L807.5 1143.4 L808.8 1143.4 L810.1 1143.4 L811.4 1143.4 L812.7 1143.4 L814 1143.4 L815.3 1143.4 L816.6 1143.4 L817.9 1143.4 L819.2 1143.4 L820.5 1143.4 L821.8 1143.4 L823.1 1143.4 L824.4 1143.4 L825.7 1143.4 L827 1143.4 L828.3 1143.4 L829.6 1143.4 L830.9 1143.4 L832.2 1143.4 L833.5 1143.4 L834.8 1143.4 L836.1 1143.4 L837.4 1143.4 L838.7 1143.4 L840 1143.4 L841.3 1143.4 L842.6 1143.4 L844 1143.4 L845.3 1143.4 L846.6 1143.4 L847.9 1143.4 L849.2 1143.4 L850.5 1143.4 L851.8 1143.4 L853.1 1143.4 L854.4 1143.4 L855.7 1143.4 L857 1143.4 L858.3 1143.4 L859.6 1143.4 L860.9 1143.4 L862.2 1143.4 L863.5 1143.4 L864.8 1143.4 L866.1 1143.4 L867.4 1143.4 L868.7 1143.4 L870 1143.4 L871.3 1143.4 L872.6 1143.4 L873.9 1143.4 L875.2 1143.4 L876.5 1143.4 L877.8 1143.4 L879.1 1143.4 L880.4 1143.4 L881.7 1143.4 L883 1143.4 L884.3 1143.4 L885.6 1143.4 L886.9 1143.4 L888.2 1143.4 L889.5 1143.4 L890.8 1143.4 L892.1 1143.4 L893.4 1143.4 L894.7 1143.4 L896 1143.4 L897.3 1143.4 L898.6 1143.4 L899.9 1143.4 L901.2 1143.4 L902.5 1143.4 L903.8 1143.4 L905.1 1143.4 L906.4 1143.4 L907.7 1143.4 L909 1143.4 L910.3 1143.4 L911.6 1143.4 L912.9 1143.4 L914.2 1143.4 L915.5 1143.4 L916.8 1143.4 L918.1 1143.4 L919.4 1143.4 L920.7 1143.4 L922 1143.4 L923.3 1143.4 L924.6 1143.4 L925.9 1143.4 L927.2 1143.4 L928.5 1143.4 L929.8 1143.4 L931.2 1143.4 L932.5 1143.4 L933.8 1143.4 L935.1 1143.4 L936.4 1143.4 L937.7 1143.4 L939 1143.4 L940.3 1143.4 L941.6 1143.4 L942.9 1143.4 L944.2 1143.4 L945.5 1143.4 L946.8 1143.4 L948.1 1143.4 L949.4 1143.4 L950.7 1143.4 L952 1143.4 L953.3 1143.4 L954.6 1143.4 L955.9 1143.4 L957.2 1143.4 L958.5 1143.4 L959.8 1143.4 L961.1 1143.4 L962.4 1143.4 L963.7 1143.4 L965 1143.4 L966.3 1143.4 L967.6 1143.4 L968.9 1143.4 L970.2 1143.4 L971.5 1143.4 L972.8 1143.4 L974.1 1143.4 L975.4 1143.4 L976.7 1143.4 L978 1143.4 L979.3 1143.4 L980.6 1143.4 L981.9 1143.4 L983.2 1143.4 L984.5 1143.4 L985.8 1143.4 L987.1 1143.4 L988.4 1143.4 L989.7 1143.4 L991 1143.4 L992.3 1143.4 L993.6 1143.4 L994.9 1143.4 L996.2 1143.4 L997.5 1143.4 L998.8 1143.4 L1000.1 1143.4 L1001.4 1143.4 L1002.7 1143.4 L1004 1143.4 L1005.3 1143.4 L1006.6 1143.4 L1007.9 1143.4 L1009.2 1143.4 L1010.5 1143.4 L1011.8 1143.4 L1013.1 1143.4 L1014.4 1143.4 L1015.7 1143.4 L1017.1 1143.4 L1018.4 1143.4 L1019.7 1143.4 L1021 1143.4 L1022.3 1143.4 L1023.6 1143.4 L1024.9 1143.4 L1026.2 1143.4 L1027.5 1143.4 L1028.8 1143.4 L1030.1 1143.4 L1031.4 1143.4 L1032.7 1143.4 L1034 1143.4 L1035.3 1143.4 L1036.6 1143.4 L1037.9 1143.4 L1039.2 1143.4 L1040.5 1143.4 L1041.8 1143.4 L1043.1 1143.4 L1044.4 1143.4 L1045.7 1143.4 L1047 1143.4 L1048.3 1143.4 L1049.6 1143.4 L1050.9 1143.4 L1052.2 1143.4 L1053.5 1143.4 L1054.8 1143.4 L1056.1 1143.4 L1057.4 1143.4 L1058.7 1143.4 L1060 1143.4 L1061.3 1143.4 L1062.6 1143.4 L1063.9 1143.4 L1065.2 1143.4 L1066.5 1143.4 L1067.8 1143.4 L1069.1 1143.4 L1070.4 1143.4 L1071.7 1143.4 L1073 1143.4 L1074.3 1143.4 L1075.6 1143.4 L1076.9 1143.4 L1078.2 1143.4 L1079.5 1143.4 L1080.8 1143.4 L1082.1 1143.4 L1083.4 1143.4 L1084.7 1143.4 L1086 1143.4 L1087.3 1143.4 L1088.6 1143.4 L1089.9 1143.4 L1091.2 1143.4 L1092.5 1143.4 L1093.8 1143.4 L1095.1 1143.4 L1096.4 1143.4 L1097.7 1143.4 L1099 1143.4 L1100.3 1143.4 L1101.6 1143.4 L1103 1143.4 L1104.3 1143.4 L1105.6 1143.4 L1106.9 1143.4 L1108.2 1143.4 L1109.5 1143.4 L1110.8 1143.4 L1112.1 1143.4 L1113.4 1143.4 L1114.7 1143.4 L1116 1143.4 L1117.3 1143.4 L1118.6 1143.4 L1119.9 1143.4 L1121.2 1143.4 L1122.5 1143.4 L1123.8 1143.4 L1125.1 1143.4 L1126.4 1143.4 L1127.7 1143.4 L1129 1143.4 L1130.3 1143.4 L1131.6 1143.4 L1132.9 1143.4 L1134.2 1143.4 L1135.5 1143.4 L1136.8 1143.4 L1138.1 1143.4 L1139.4 1143.4 L1140.7 1143.4 L1142 1143.4 L1143.3 1143.4 L1144.6 1143.4 L1145.9 1143.4 L1147.2 1143.4 L1148.5 1143.4 L1149.8 1143.4 L1151.1 1143.4 L1152.4 1143.4 L1153.7 1143.4 L1155 1143.4 L1156.3 1143.4 L1157.6 1143.4 L1158.9 1143.4 L1160.2 1143.4 L1161.5 1143.4 L1162.8 1143.4 L1164.1 1143.4 L1165.4 1143.4 L1166.7 1143.4 L1168 1143.4 L1169.3 1143.4 L1170.6 1143.4 L1171.9 1143.4 L1173.2 1143.4 L1174.5 1143.4 L1175.8 1143.4 L1177.1 1143.4 L1178.4 1143.4 L1179.7 1143.4 L1181 1143.4 L1182.3 1143.4 L1183.6 1143.4 L1184.9 1143.4 L1186.2 1143.4 L1187.5 1143.4 L1188.9 1143.4 L1190.2 1143.4 L1191.5 1143.4 L1192.8 1143.4 L1194.1 1143.4 L1195.4 1143.4 L1196.7 1143.4 L1198 1143.4 L1199.3 1143.4 L1200.6 1143.4 L1201.9 1143.4 L1203.2 1143.4 L1204.5 1143.4 L1205.8 1143.4 L1207.1 1143.4 L1208.4 1143.4 L1209.7 1143.4 L1211 1143.4 L1212.3 1143.4 L1213.6 1143.4 L1214.9 1143.4 L1216.2 1143.4 L1217.5 1143.4 L1218.8 1143.4 L1220.1 1143.4 L1221.4 1143.4 L1222.7 1143.4 L1224 1143.4 L1225.3 1143.4 L1226.6 1143.4 L1227.9 1143.4 L1229.2 1143.4 L1230.5 1143.4 L1231.8 1143.4 L1233.1 1143.4 L1234.4 1143.4 L1235.7 1143.4 L1237 1143.4 L1238.3 1143.4 L1239.6 1143.4 L1240.9 1143.4 L1242.2 1143.4 L1243.5 1143.4 L1244.8 1143.4 L1246.1 1143.4 L1247.4 1143.4 L1248.7 1143.4 L1250 1143.4 L1251.3 1143.4 L1252.6 1143.4 L1253.9 1143.4 L1255.2 1143.4 L1256.5 1143.4 L1257.8 1143.4 L1259.1 1143.4 L1260.4 1143.4 L1261.7 1143.4 L1263 1143.4 L1264.3 1143.4 L1265.6 1143.4 L1266.9 1143.4 L1268.2 1143.4 L1269.5 1143.4 L1270.8 1143.4 L1272.1 1143.4 L1273.4 1143.4 L1274.7 1143.4 L1276.1 1143.4 L1277.4 1143.4 L1278.7 1143.4 L1280 1143.4 L1281.3 1143.4 L1282.6 1143.4 L1283.9 1143.4 L1285.2 1143.4 L1286.5 1143.4 L1287.8 1143.4 L1289.1 1143.4 L1290.4 1143.4 L1291.7 1143.4 L1293 1143.4 L1294.3 1143.4 L1295.6 1143.4 L1296.9 1143.4 L1298.2 1143.4 L1299.5 1143.4 L1300.8 1143.4 L1302.1 1143.4 L1303.4 1143.4 L1304.7 1143.4 L1306 1143.4 L1307.3 1143.4 L1308.6 1143.4 L1309.9 1143.4 L1311.2 1143.4 L1312.5 1143.4 L1313.8 1143.4 L1315.1 1143.4 L1316.4 1143.4 L1317.7 1143.4 L1319 1143.4 L1320.3 1143.4 L1321.6 1143.4 L1322.9 1143.4 L1324.2 1143.4 L1325.5 1143.4 L1326.8 1143.4 L1328.1 1143.4 L1329.4 1143.4 L1330.7 1143.4 L1332 1143.4 L1333.3 1143.4 L1334.6 1143.4 L1335.9 1143.4 L1337.2 1143.4 L1338.5 1143.4 L1339.8 1143.4 L1341.1 1143.4 L1342.4 1143.4 L1343.7 1143.4 L1345 1143.4 L1346.3 1143.4 L1347.6 1143.4 L1348.9 1143.4 L1350.2 1143.4 L1351.5 1143.4 L1352.8 1143.4 L1354.1 1143.4 L1355.4 1143.4 L1356.7 1143.4 L1358 1143.4 L1359.3 1143.4 L1360.6 1143.4 L1362 1143.4 L1363.3 1143.4 L1364.6 1143.4 L1365.9 1143.4 L1367.2 1143.4 L1368.5 1143.4 L1369.8 1143.4 L1371.1 1143.4 L1372.4 1143.4 L1373.7 1143.4 L1375 1143.4 L1376.3 1143.4 L1377.6 1143.4 L1378.9 1143.4 L1380.2 1143.4 L1381.5 1143.4 L1382.8 1143.4 L1384.1 1143.4 L1385.4 1143.4 L1386.7 1143.4 L1388 1143.4 L1389.3 1143.4 L1390.6 1143.4 L1391.9 1143.4 L1393.2 1143.4 L1394.5 1143.4 L1395.8 1143.4 L1397.1 1143.4 L1398.4 1143.4 L1399.7 1143.4 L1401 1143.4 L1402.3 1143.4 L1403.6 1143.4 L1404.9 1143.4 L1406.2 1143.4 L1407.5 1143.4 L1408.8 1143.4 L1410.1 1143.4 L1411.4 1143.4 L1412.7 1143.4 L1414 1143.4 L1415.3 1143.4 L1416.6 1143.4 L1417.9 1143.4 L1419.2 1143.4 L1420.5 1143.4 L1421.8 1143.4 L1423.1 1143.4 L1424.4 1143.4 L1425.7 1143.4 L1427 1143.4 L1428.3 1143.4 L1429.6 1143.4 L1430.9 1143.4 L1432.2 1143.4 L1433.5 1143.4 L1434.8 1143.4 L1436.1 1143.4 L1437.4 1143.4 L1438.7 1143.4 L1440 1143.4 L1441.3 1143.4 L1442.6 1143.4 L1443.9 1143.4 L1445.2 1143.4 L1446.5 1143.4 L1447.9 1143.4 L1449.2 1143.4 L1450.5 1143.4 L1451.8 1143.4 L1453.1 1143.4 L1454.4 1143.4 L1455.7 1143.4 L1457 1143.4 L1458.3 1143.4 L1459.6 1143.4 L1460.9 1143.4 L1462.2 1143.4 L1463.5 1143.4 L1464.8 1143.4 L1466.1 1143.4 L1467.4 1143.4 L1468.7 1143.4 L1470 1143.4 L1471.3 1143.4 L1472.6 1143.4 L1473.9 1143.4 L1475.2 1143.4 L1476.5 1143.4 L1477.8 1143.4 L1479.1 1143.4 L1480.4 1143.4 L1481.7 1143.4 L1483 1143.4 L1484.3 1143.4 L1485.6 1143.4 L1486.9 1143.4 L1488.2 1143.4 L1489.5 1143.4 L1490.8 1143.4 L1492.1 1143.4 L1493.4 1143.4 L1494.7 1143.4 L1496 1143.4 L1497.3 1143.4 L1498.6 1143.4 L1499.9 1143.4 L1501.2 1143.4 L1502.5 1143.4 L1503.8 1143.4 L1505.1 1143.4 L1506.4 1143.4 L1507.7 1143.4 L1509 1143.4 L1510.3 1143.4 L1511.6 1143.4 L1512.9 1143.4 L1514.2 1143.4 L1515.5 1143.4 L1516.8 1143.4 L1518.1 1143.4 L1519.4 1143.4 L1520.7 1143.4 L1522 1143.4 L1523.3 1143.4 L1524.6 1143.4 L1525.9 1143.4 L1527.2 1143.4 L1528.5 1143.4 L1529.8 1143.4 L1531.1 1143.4 L1532.4 1143.4 L1533.8 1143.4 L1535.1 1143.4 L1536.4 1143.4 L1537.7 1143.4 L1539 1143.4 L1540.3 1143.4 L1541.6 1143.4 L1542.9 1143.4 L1544.2 1143.4 L1545.5 1143.4 L1546.8 1143.4 L1548.1 1143.4 L1549.4 1143.4 L1550.7 1143.4 L1552 1143.4 L1553.3 1143.4 L1554.6 1143.4 L1555.9 1143.4 L1557.2 1143.4 L1558.5 1143.4 L1559.8 1143.4 L1561.1 1143.4 L1562.4 1143.4 L1563.7 1143.4 L1565 1143.4 L1566.3 1143.4 L1567.6 1143.4 L1568.9 1143.4 L1570.2 1143.4 L1571.5 1143.4 L1572.8 1143.4 L1574.1 1143.4 L1575.4 1143.4 L1576.7 1143.4 L1578 1143.4 L1579.3 1143.4 L1580.6 1143.4 L1581.9 1143.4 L1583.2 1143.4 L1584.5 1143.4 L1585.8 1143.4 L1587.1 1143.4 L1588.4 1143.4 L1589.7 1143.4 L1591 1143.4 L1592.3 1143.4 L1593.6 1143.4 L1594.9 1143.4 L1596.2 1143.4 L1597.5 1143.4 L1598.8 1143.4 L1600.1 1143.4 L1601.4 1143.4 L1602.7 1143.4 L1604 1143.4 L1605.3 1143.4 L1606.6 1143.4 L1607.9 1143.4 L1609.2 1143.4 L1610.5 1143.4 L1611.8 1143.4 L1613.1 1143.4 L1614.4 1143.4 L1615.7 1143.4 L1617 1143.4 L1618.3 1143.4 L1619.7 1143.4 L1621 1143.4 L1622.3 1143.4 L1623.6 1143.4 L1624.9 1143.4 L1626.2 1143.4 L1627.5 1143.4 L1628.8 1143.4 L1630.1 1143.4 L1631.4 1143.4 L1632.7 1143.4 L1634 1143.4 L1635.3 1143.4 L1636.6 1143.4 L1637.9 1143.4 L1639.2 1143.4 L1640.5 1143.4 L1641.8 1143.4 L1643.1 1143.4 L1644.4 1143.4 L1645.7 1143.4 L1647 1143.4 L1648.3 1143.4 L1649.6 1143.4 L1650.9 1143.4 L1652.2 1143.4 L1653.5 1143.4 L1654.8 1143.4 L1656.1 1143.4 L1657.4 1143.4 L1658.7 1143.4 L1660 1143.4 L1661.3 1143.4 L1662.6 1143.4" fill="none" stroke="#ff0000" stroke-width="4.1" stroke-linejoin="round" stroke-linecap="butt" clip-path="url(#paL)"/>
<polygon points="359,1146 359,914 360,914 360,744 361,744 361,370 369.5,370 369.5,1146" fill="#ff0000" clip-path="url(#paL)"/>
<path d="M366 91 L366.2 215 L367 357.7" fill="none" stroke="#ff0000" stroke-width="4.7" stroke-linejoin="miter" stroke-linecap="butt" clip-path="url(#paU)"/>
<path d="M267.2 1143.4 L268.5 1143.4 L269.8 1143.4 L271.1 1143.4 L272.4 1143.4 L273.7 1143.4 L275 1143.4 L276.3 1143.4 L277.6 1143.4 L279 1143.4 L280.3 1143.4 L281.6 1143.4 L282.9 1143.4 L284.2 1143.4 L285.5 1143.4 L286.8 1143.4 L288.1 1143.4 L289.4 1143.4 L290.7 1143.4 L292 1143.4 L293.3 1143.4 L294.6 1143.4 L295.9 1143.4 L297.2 1143.4 L298.5 1143.4 L299.9 1143.4 L301.2 1143.4 L302.5 1143.4 L303.8 1143.4 L305.1 1143.4 L306.4 1143.4 L307.7 1143.4 L309 1143.4 L310.3 1143.4 L311.6 1143.4 L312.9 1143.4 L314.2 1143.4 L315.5 1143.4 L316.8 1143.4 L318.1 1143.4 L319.4 1143.4 L320.8 1143.4 L322.1 1143.4 L323.4 1143.4 L324.7 1143.4 L326 1143.4 L327.3 1143.4 L328.6 1143.4 L329.9 1143.4 L331.2 1143.4 L332.5 1143.4 L333.8 1143.4 L335.1 1143.4 L336.4 1143.4 L337.7 1143.4 L339 1143.4 L340.3 1143.4 L341.6 1143.4 L343 1143.4 L344.3 1143.4 L345.6 1143.4 L346.9 1143.4 L348.2 1143.4 L349.5 1143.4 L350.8 1143.4 L352.1 1143.4 L353.4 1143.4 L354.7 1143.4 L356 1143.4 L357.3 1143.4 L358.6 1143.4 L359.9 1143.4 L361.2 1143.4 L362.5 1143.4 L363.9 1143.4 L365.2 1143.4 L366.5 1143.4 L367.8 1143.4 L369.1 1143.4 L370.4 1143.4 L371.7 1143.4 L373 1143.4 L374.3 1143.4 L375.6 1143.4 L376.9 1143.4 L378.2 1143.4 L379.5 1143.4 L380.8 1143.4 L382.1 1143.4 L383.4 1143.4 L384.7 1143.4 L386.1 1143.4 L387.4 1143.4 L388.7 1143.4 L390 1143.4 L391.3 1143.4 L392.6 1143.4 L393.9 1143.4 L395.4 1143.4 L396.9 1143.4 L398.3 1142.5 L399.7 1142.4 L401.1 1140.8 L402.4 1141.2 L403.8 1140.4 L405.2 1139.7 L406.6 1139.4 L408 1140.2 L409.4 1139.4 L410.8 1140.3 L412.2 1140 L413.5 1140.2 L414.9 1140.3 L416.3 1138.8 L417.7 1139.7 L419.1 1140.7 L420.5 1139.6 L421.9 1139.2 L423.3 1140 L424.6 1139.5 L426 1140.2 L427.4 1140.1 L428.8 1140.8 L430.2 1140.6 L431.6 1141.3 L433 1139.9 L434.4 1140.1 L435.7 1140.7 L437.1 1140.8 L438.5 1140.1 L439.9 1141 L441.3 1141.2 L442.7 1139.8 L444.1 1141.2 L445.5 1139.7 L446.8 1140 L448.2 1140.2 L449.6 1139.5 L451 1140 L452.4 1139.7 L453.8 1139.7 L455.2 1141.1 L456.6 1139.9 L457.9 1141 L459.3 1141.3 L460.7 1140.8 L462.1 1141.3 L463.5 1142.2 L464.9 1141.6 L466.3 1141.6 L467.7 1142 L469 1142.1 L470.4 1141.6 L471.8 1141.9 L473.2 1142 L474.6 1142 L476 1142.1 L477.4 1142.1 L478.8 1142.2 L480.1 1142.1 L481.5 1142.1 L482.9 1142 L484.3 1142 L485.7 1141.9 L487.1 1142.6 L488.5 1141.7 L489.9 1142.1 L491.2 1142.3 L492.6 1141.6 L494 1141.7 L495.4 1141.7 L496.8 1141.2 L498.2 1142 L499.6 1140.7 L501 1141 L502.3 1141.3 L503.7 1140.9 L505.1 1141.6 L506.5 1140.8 L507.9 1141.6 L509.3 1140.9 L510.7 1141.1 L512.1 1141.7 L513.5 1142.3 L514.8 1141.6 L516.2 1141.6 L517.6 1141.9 L519 1142.1 L520.4 1142.2 L521.8 1142.3 L523.2 1142.3 L524.6 1142.4 L525.9 1142.4 L527.3 1142.5 L528.7 1142.5 L530.1 1142.6 L531.5 1142.6 L532.9 1142.7 L534.3 1142.8 L535.7 1142.8 L537 1142.8 L538.4 1142.8 L539.8 1142.8 L541.2 1142.8 L542.6 1142.8 L544 1142.8 L545.4 1142.8 L546.8 1142.8 L548.1 1142.8 L549.5 1142.8 L550.9 1142.9 L552.3 1143 L553.7 1143 L555.1 1143.1 L556.5 1143.1 L557.9 1143.2 L559.2 1143.3 L560.6 1143.3 L562 1143.4 L563.4 1143.4 L564.8 1143.4 L566.2 1143.4 L567.6 1143.4 L569 1143.4 L570.3 1143.4 L571.7 1143.4 L573.1 1143.4 L574.5 1143.4 L575.9 1143.4 L577.3 1143.4 L578.7 1143.4 L580.1 1143.4 L581.4 1143.4 L582.8 1143.4 L584.2 1143.4 L585.6 1143.4 L587 1143.4 L588.4 1143.4 L589.8 1143.4 L591.1 1143.4 L592.4 1143.4 L593.7 1143.4 L595 1143.4 L596.3 1143.4 L597.6 1143.4 L598.9 1143.4 L600.2 1143.4 L601.5 1143.4 L602.8 1143.4 L604.1 1143.4 L605.4 1143.4 L606.7 1143.4 L608 1143.4 L609.3 1143.4 L610.6 1143.4 L611.9 1143.4 L613.2 1143.4 L614.5 1143.4 L615.8 1143.4 L617.1 1143.4 L618.4 1143.4 L619.7 1143.4 L621 1143.4 L622.3 1143.4 L623.6 1143.4 L624.9 1143.4 L626.2 1143.4 L627.5 1143.4 L628.8 1143.4 L630.1 1143.4 L631.4 1143.4 L632.7 1143.4 L634 1143.4 L635.3 1143.4 L636.6 1143.4 L637.9 1143.4 L639.2 1143.4 L640.5 1143.4 L641.9 1143.4 L643.2 1143.4 L644.5 1143.4 L645.8 1143.4 L647.1 1143.4 L648.4 1143.4 L649.7 1143.4 L651 1143.4 L652.3 1143.4 L653.6 1143.4 L654.9 1143.4 L656.2 1143.4 L657.5 1143.4 L658.8 1143.4 L660.1 1143.4 L661.4 1143.4 L662.7 1143.4 L664 1143.4 L665.3 1143.4 L666.6 1143.4 L667.9 1143.4 L669.2 1143.4 L670.5 1143.4 L671.8 1143.4 L673.1 1143.4 L674.4 1143.4 L675.7 1143.4 L677 1143.4 L678.3 1143.4 L679.6 1143.4 L680.9 1143.4 L682.2 1143.4 L683.5 1143.4 L684.8 1143.4 L686.1 1143.4 L687.5 1143.4 L688.8 1143.4 L690.1 1143.4 L691.4 1143.4 L692.7 1143.4 L694 1143.4 L695.3 1143.4 L696.6 1143.4 L697.9 1143.4 L699.2 1143.4 L700.5 1143.4 L701.8 1143.4 L703.1 1143.4 L704.4 1143.4 L705.7 1143.4 L707 1143.4 L708.3 1143.4 L709.6 1143.4 L710.9 1143.4 L712.2 1143.4 L713.5 1143.4 L714.8 1143.4 L716.1 1143.4 L717.4 1143.4 L718.7 1143.4 L720 1143.4 L721.3 1143.4 L722.6 1143.4 L723.9 1143.4 L725.2 1143.4 L726.5 1143.4 L727.8 1143.4 L729.1 1143.4 L730.4 1143.4 L731.7 1143.4 L733.1 1143.4 L734.4 1143.4 L735.7 1143.4 L737 1143.4 L738.3 1143.4 L739.6 1143.4 L740.9 1143.4 L742.2 1143.4 L743.5 1143.4 L744.8 1143.4 L746.1 1143.4 L747.4 1143.4 L748.7 1143.4 L750 1143.4 L751.3 1143.4 L752.6 1143.4 L753.9 1143.4 L755.2 1143.4 L756.5 1143.4 L757.8 1143.4 L759.1 1143.4 L760.4 1143.4 L761.7 1143.4 L763 1143.4 L764.3 1143.4 L765.6 1143.4 L766.9 1143.4 L768.2 1143.4 L769.5 1143.4 L770.8 1143.4 L772.1 1143.4 L773.4 1143.4 L774.7 1143.4 L776 1143.4 L777.3 1143.4 L778.7 1143.4 L780 1143.4 L781.3 1143.4 L782.6 1143.4 L783.9 1143.4 L785.2 1143.4 L786.5 1143.4 L787.8 1143.4 L789.1 1143.4 L790.4 1143.4 L791.7 1143.4 L793 1143.4 L794.3 1143.4 L795.6 1143.4 L796.9 1143.4 L798.2 1143.4 L799.5 1143.4 L800.8 1143.4 L802.1 1143.4 L803.4 1143.4 L804.7 1143.4 L806 1143.4 L807.3 1143.4 L808.6 1143.4 L809.9 1143.4 L811.2 1143.4 L812.5 1143.4 L813.8 1143.4 L815.1 1143.4 L816.4 1143.4 L817.7 1143.4 L819 1143.4 L820.3 1143.4 L821.6 1143.4 L822.9 1143.4 L824.3 1143.4 L825.6 1143.4 L826.9 1143.4 L828.2 1143.4 L829.5 1143.4 L830.8 1143.4 L832.1 1143.4 L833.4 1143.4 L834.7 1143.4 L836 1143.4 L837.3 1143.4 L838.6 1143.4 L839.9 1143.4 L841.2 1143.4 L842.5 1143.4 L843.8 1143.4 L845.1 1143.4 L846.4 1143.4 L847.7 1143.4 L849 1143.4 L850.3 1143.4 L851.6 1143.4 L852.9 1143.4 L854.2 1143.4 L855.5 1143.4 L856.8 1143.4 L858.1 1143.4 L859.4 1143.4 L860.7 1143.4 L862 1143.4 L863.3 1143.4 L864.6 1143.4 L865.9 1143.4 L867.2 1143.4 L868.5 1143.4 L869.9 1143.4 L871.2 1143.4 L872.5 1143.4 L873.8 1143.4 L875.1 1143.4 L876.4 1143.4 L877.7 1143.4 L879 1143.4 L880.3 1143.4 L881.6 1143.4 L882.9 1143.4 L884.2 1143.4 L885.5 1143.4 L886.8 1143.4 L888.1 1143.4 L889.4 1143.4 L890.7 1143.4 L892 1143.4 L893.3 1143.4 L894.6 1143.4 L895.9 1143.4 L897.2 1143.4 L898.5 1143.4 L899.8 1143.4 L901.1 1143.4 L902.4 1143.4 L903.7 1143.4 L905 1143.4 L906.3 1143.4 L907.6 1143.4 L908.9 1143.4 L910.2 1143.4 L911.5 1143.4 L912.8 1143.4 L914.1 1143.4 L915.5 1143.4 L916.8 1143.4 L918.1 1143.4 L919.4 1143.4 L920.7 1143.4 L922 1143.4 L923.3 1143.4 L924.6 1143.4 L925.9 1143.4 L927.2 1143.4 L928.5 1143.4 L929.8 1143.4 L931.1 1143.4 L932.4 1143.4 L933.7 1143.4 L935 1143.4 L936.3 1143.4 L937.6 1143.4 L938.9 1143.4 L940.2 1143.4 L941.5 1143.4 L942.8 1143.4 L944.1 1143.4 L945.4 1143.4 L946.7 1143.4 L948 1143.4 L949.3 1143.4 L950.6 1143.4 L951.9 1143.4 L953.2 1143.4 L954.5 1143.4 L955.8 1143.4 L957.1 1143.4 L958.4 1143.4 L959.7 1143.4 L961.1 1143.4 L962.4 1143.4 L963.7 1143.4 L965 1143.4 L966.3 1143.4 L967.6 1143.4 L968.9 1143.4 L970.2 1143.4 L971.5 1143.4 L972.8 1143.4 L974.1 1143.4 L975.4 1143.4 L976.7 1143.4 L978 1143.4 L979.3 1143.4 L980.6 1143.4 L981.9 1143.4 L983.2 1143.4 L984.5 1143.4 L985.8 1143.4 L987.1 1143.4 L988.4 1143.4 L989.7 1143.4 L991 1143.4 L992.3 1143.4 L993.6 1143.4 L994.9 1143.4 L996.2 1143.4 L997.5 1143.4 L998.8 1143.4 L1000.1 1143.4 L1001.4 1143.4 L1002.7 1143.4 L1004 1143.4 L1005.3 1143.4 L1006.7 1143.4 L1008 1143.4 L1009.3 1142.8 L1010.7 1142.2 L1012.1 1141.8 L1013.5 1141.1 L1014.9 1140.8 L1016.3 1139.7 L1017.7 1138.8 L1019.1 1136.1 L1020.4 1134.7 L1021.8 1134 L1023.2 1134 L1024.6 1137.1 L1026 1138.5 L1027.4 1138.6 L1028.8 1138.6 L1030.2 1139.4 L1031.5 1141.5 L1032.9 1141.4 L1034.3 1142.6 L1035.7 1143.4 L1037 1143.4 L1038.3 1143.4 L1039.6 1143.4 L1040.9 1143.4 L1042.2 1143.4 L1043.5 1143.4 L1044.8 1143.4 L1046.1 1143.4 L1047.4 1143.4 L1048.7 1143.4 L1050 1143.4 L1051.4 1143.4 L1052.7 1143.4 L1054 1143.4 L1055.3 1143.4 L1056.6 1143.4 L1057.9 1143.4 L1059.2 1143.4 L1060.5 1143.4 L1061.8 1143.4 L1063.1 1143.4 L1064.4 1143.4 L1065.7 1143.4 L1067 1143.4 L1068.3 1143.4 L1069.6 1143.4 L1070.9 1143.4 L1072.2 1143.4 L1073.5 1143.4 L1074.8 1143.4 L1076.1 1143.4 L1077.4 1143.4 L1078.7 1143.4 L1080 1143.4 L1081.3 1143.4 L1082.6 1143.4 L1083.9 1143.4 L1085.2 1143.4 L1086.5 1143.4 L1087.8 1143.4 L1089.2 1143.4 L1090.5 1143.4 L1091.8 1143.4 L1093.1 1143.4 L1094.4 1143.4 L1095.7 1143.4 L1097 1143.4 L1098.3 1143.4 L1099.6 1143.4 L1100.9 1143.4 L1102.2 1143.4 L1103.5 1143.4 L1104.8 1143.4 L1106.1 1143.4 L1107.4 1143.4 L1108.7 1143.4 L1110 1143.4 L1111.3 1143.4 L1112.6 1143.4 L1113.9 1143.4 L1115.2 1143.4 L1116.5 1143.4 L1117.8 1143.4 L1119.1 1143.4 L1120.4 1143.4 L1121.7 1143.4 L1123 1143.4 L1124.3 1143.4 L1125.7 1143.4 L1127 1143.4 L1128.3 1143.4 L1129.6 1143.4 L1130.9 1143.4 L1132.2 1143.4 L1133.5 1143.4 L1134.8 1143.4 L1136.1 1143.4 L1137.4 1143.4 L1138.7 1143.4 L1140 1143.4 L1141.3 1143.4 L1142.6 1143.4 L1143.9 1143.4 L1145.2 1143.4 L1146.5 1143.4 L1147.8 1143.4 L1149.1 1143.4 L1150.4 1143.4 L1151.7 1143.4 L1153 1143.4 L1154.3 1143.4 L1155.6 1143.4 L1156.9 1143.4 L1158.2 1143.4 L1159.5 1143.4 L1160.8 1143.4 L1162.2 1143.4 L1163.5 1143.4 L1164.8 1143.4 L1166.1 1143.4 L1167.4 1143.4 L1168.7 1143.4 L1170 1143.4 L1171.3 1143.4 L1172.6 1143.4 L1173.9 1143.4 L1175.2 1143.4 L1176.5 1143.4 L1177.8 1143.4 L1179.1 1143.4 L1180.4 1143.4 L1181.7 1143.4 L1183 1143.4 L1184.3 1143.4 L1185.6 1143.4 L1186.9 1143.4 L1188.2 1143.4 L1189.5 1143.4 L1190.8 1143.4 L1192.1 1143.4 L1193.4 1143.4 L1194.7 1143.4 L1196 1143.4 L1197.3 1143.4 L1198.7 1143.4 L1200 1143.4 L1201.3 1137.6 L1202.7 1133.7 L1204.1 1129.5 L1205.5 1128.7 L1206.9 1126.1 L1208.8 1136.7 L1211.1 1142.2 L1212.4 1141.2 L1213.8 1140.7 L1215.2 1140.4 L1216.6 1139.4 L1218 1139.5 L1219.4 1139.6 L1220.8 1139.5 L1222.2 1139.9 L1223.5 1139.2 L1224.9 1139.4 L1226.3 1140 L1227.7 1140.8 L1229.1 1141.1 L1230.5 1140.8 L1231.9 1136.2 L1233.3 1130.7 L1234.6 1129 L1236 1124.1 L1237.4 1123 L1238.8 1121.4 L1240.2 1120.7 L1241.6 1118.5 L1243 1116.4 L1244.4 1114.3 L1245.7 1106.9 L1247.1 1100.8 L1248.5 1093 L1250.5 1073.6 L1252.7 1069.4 L1254.1 1086.9 L1255.5 1101.4 L1256.8 1093.2 L1258.2 1093 L1259.6 1084.4 L1261 1079.1 L1262.4 1075.3 L1263.8 1070.8 L1265.2 1074.3 L1266.6 1076.4 L1268.2 1059 L1269.9 1051.4 L1272.1 1079.1 L1273.5 1088.4 L1274.9 1093 L1276.3 1109.8 L1277.7 1127.6 L1279.9 1093 L1281.3 1097.7 L1282.7 1098.6 L1284.3 1100.8 L1286 1106.9 L1287.4 1104.6 L1288.8 1104.1 L1290.1 1103.6 L1291.5 1095.8 L1292.9 1096.6 L1294.3 1093.5 L1295.7 1093 L1297.1 1085.7 L1298.5 1068 L1299.9 1081.9 L1301.2 1098.6 L1302.6 1083.1 L1304 1079.1 L1305.4 1080.1 L1306.8 1087.5 L1308.2 1087.1 L1309.6 1095.8 L1311 1079.1 L1312.3 1051.4 L1313.7 1069.8 L1315.1 1086.1 L1316.5 1072.2 L1317.9 1065.3 L1319.3 1057.4 L1320.7 1043.1 L1322.1 1067.2 L1323.5 1079.1 L1324.8 1063.1 L1326.2 1051.5 L1327.6 1023.6 L1329.8 1051.4 L1332.3 1025 L1333.9 1047.9 L1335.4 1051.4 L1337 1052.1 L1338.7 1040.3 L1340.4 1018.2 L1342 1016.7 L1343.8 1037.1 L1345.7 1051.4 L1347 1062 L1348.4 1065.3 L1349.8 1047.8 L1351.2 1037.5 L1352.6 1049 L1354 1065.3 L1355.4 1085.5 L1356.8 1112.5 L1358.1 1100.5 L1359.5 1079.1 L1360.9 1079.8 L1362.3 1071.4 L1363.7 1073.6 L1365.1 1076.5 L1366.5 1079.1 L1367.9 1071.8 L1369.2 1057.7 L1370.6 1034.7 L1372 1057 L1373.4 1093 L1374.8 1082.9 L1376.2 1068 L1378.1 1026.4 L1380.3 1095.8 L1381.7 1081.1 L1383.1 1076.9 L1384.5 1062.5 L1385.9 1069.8 L1387.3 1087.5 L1388.7 1091.5 L1390.1 1098.6 L1391.4 1084.9 L1392.8 1070.8 L1394.2 1076.9 L1395.6 1076.4 L1397 1077.5 L1398.4 1081.9 L1399.8 1073.9 L1401.2 1065.3 L1402.5 1060.3 L1403.9 1051.1 L1405.3 1051.4 L1406.7 1041.6 L1408.1 1060.5 L1409.5 1051.4 L1410.9 1061.6 L1412.3 1079.1 L1413.6 1091.9 L1415 1093 L1416.8 1103.2 L1418.6 1104.1 L1420 1097.2 L1421.4 1079.1 L1423.1 1073.5 L1424.7 1059.7 L1426.1 1056.2 L1427.5 1068 L1429.2 1068.5 L1430.9 1065.3 L1433.1 1090.2 L1434.5 1093.2 L1435.8 1098.6 L1437.2 1102.4 L1438.6 1097.5 L1440 1101.4 L1441.4 1101.8 L1442.8 1102.2 L1444.2 1108.3 L1445.6 1101.1 L1446.9 1100.2 L1448.3 1093 L1450 1090.2 L1450.4 1091.1 L1452.8 1099.5 L1455.3 1068.2 L1457.7 1067 L1460.1 1099.5 L1462.5 1080.3 L1464.9 1076.7 L1466.1 1109.1 L1468.5 1119.3 L1469.9 1117 L1471.4 1120 L1472.8 1121.7 L1474.3 1121.1 L1475.7 1120.6 L1477.3 1122.8 L1478.9 1125.5 L1480.5 1127.2 L1482 1129.8 L1483.5 1129.4 L1485 1129 L1486.5 1129.9 L1488 1128.4 L1489.4 1125.8 L1490.9 1129 L1492.3 1126.5 L1493.7 1124.6 L1495.2 1126.1 L1496.7 1127.9 L1498.2 1128.1 L1499.8 1127.2 L1501.4 1124.4 L1503 1125.4 L1504.6 1121.9 L1506.2 1124.5 L1507.8 1125.8 L1509.4 1129.9 L1511 1131 L1512.6 1132.5 L1514.2 1135.2 L1515.8 1136.3 L1517.4 1134.1 L1519 1135.2 L1520.4 1135.5 L1521.9 1134.2 L1523.3 1135.9 L1524.8 1135.3 L1526.2 1134.6 L1527.7 1135.5 L1529.1 1136.3 L1530.5 1135 L1532 1136 L1533.4 1136.4 L1535 1138.1 L1536.6 1138.5 L1538.2 1138.8 L1539.7 1138.7 L1541.1 1138.3 L1542.6 1137.4 L1544 1137.7 L1545.4 1137.6 L1546.9 1137.2 L1548.3 1138 L1549.8 1137.1 L1551.2 1137.6 L1552.7 1136.4 L1554 1137.1 L1555.4 1137.2 L1556.8 1138 L1558.2 1138.6 L1559.5 1137.4 L1560.9 1138.4 L1562.3 1138.8 L1563.7 1139.3 L1565 1138.4 L1566.4 1139.2 L1567.8 1140.2 L1569.2 1139.9 L1570.5 1139.9 L1571.9 1140.5 L1573.3 1140.6 L1574.7 1140.1 L1576 1140.2 L1577.4 1141.1 L1578.8 1141.6 L1580.2 1141.6 L1581.5 1141.2 L1582.9 1141.3 L1584.3 1140.2 L1585.6 1140.4 L1587 1140.6 L1588.4 1140.5 L1589.8 1139.4 L1591.1 1139.5 L1592.6 1140 L1594 1138.4 L1595.5 1139.2 L1596.9 1137.7 L1598.4 1137.1 L1599.8 1136.9 L1601.2 1137.3 L1602.7 1135.8 L1604.1 1135.9 L1605.6 1136.9 L1607 1137.6 L1608.5 1137.6 L1609.9 1139.1 L1611.4 1139.6 L1612.8 1140 L1614.2 1141 L1615.5 1140.2 L1616.9 1140.5 L1618.3 1140.7 L1619.7 1140.9 L1621 1140.6 L1622.4 1141.2 L1623.8 1140.5 L1625.2 1140.3 L1626.5 1141.2 L1627.9 1140 L1629.3 1140 L1630.7 1139.9 L1632 1140.5 L1633.5 1140.3 L1634.9 1141.7 L1636.4 1141.9 L1637.8 1142.4 L1639.3 1142.9 L1640.7 1142.4 L1642.1 1141.9 L1643.5 1141.2 L1644.9 1141.3 L1646.3 1141.1 L1647.7 1140 L1649.2 1140.6 L1650.7 1140.2 L1652.2 1141.2 L1653.7 1141.2 L1655.1 1141.3 L1656.6 1140.7 L1658 1141.2 L1659.5 1141.6 L1660.9 1141.2 L1663.3 1138.8 L1662.6 1143.4" fill="none" stroke="#ff00ff" stroke-width="4.1" stroke-linejoin="round" stroke-linecap="butt" clip-path="url(#paL)"/>
<path d="M267.2 1143.4 L268.5 1143.4 L269.8 1143.4 L271.1 1143.4 L272.4 1143.4 L273.8 1143.4 L275.1 1143.4 L276.4 1143.4 L277.7 1143.4 L279 1143.4 L280.3 1143.4 L281.6 1143.4 L282.9 1143.4 L284.2 1143.4 L285.5 1143.4 L286.9 1143.4 L288.2 1143.4 L289.5 1143.4 L290.8 1143.4 L292.1 1143.4 L293.4 1143.4 L294.7 1143.4 L296 1143.4 L297.3 1143.4 L298.7 1143.4 L300 1143.4 L301.3 1143.4 L302.6 1143.4 L303.9 1143.4 L305.2 1143.4 L306.5 1143.4 L307.8 1143.4 L309.1 1143.4 L310.4 1143.4 L311.8 1143.4 L313.1 1143.4 L314.4 1143.4 L315.7 1143.4 L317 1143.4 L318.3 1143.4 L319.6 1143.4 L320.9 1143.4 L322.2 1143.4 L323.5 1143.4 L324.9 1143.4 L326.2 1143.4 L327.5 1143.4 L328.8 1143.4 L330.1 1143.4 L331.4 1143.4 L332.7 1143.4 L334 1143.4 L335.3 1143.4 L336.7 1143.4 L338 1143.4 L339.3 1143.4 L340.6 1143.4 L341.9 1143.4 L343.2 1143.4 L344.5 1143.4 L345.8 1143.4 L347.1 1143.4 L348.4 1143.4 L349.8 1143.4 L351.1 1143.4 L352.4 1143.4 L353.7 1143.4 L355 1143.4 L356.5 1143.4 L358 1143.4 L359.3 1141.9 L360.7 1141.1 L362 1139 L363.9 1128.8 L365.8 1121.8 L368 1137 L369.5 1140.6 L371 1143.4 L372.4 1143.4 L373.7 1143.4 L375.1 1143.4 L376.4 1143.4 L377.8 1143.4 L379.2 1143.4 L380.5 1143.4 L381.9 1143.4 L383.2 1143.4 L384.6 1143.4 L386 1143.4 L387.3 1143.4 L388.7 1143.4 L390 1143.4 L391.4 1143.4 L392.8 1143.4 L394.1 1143.4 L395.5 1136.1 L396.9 1130.7 L398.3 1126.7 L399.7 1121.5 L401.1 1110.9 L402.4 1093 L404.4 1070.8 L406 1054.2 L408 1079.1 L409.4 1084.3 L410.8 1087.5 L412.2 1087.2 L413.5 1092.3 L414.9 1090.2 L416.3 1084.9 L417.7 1093.2 L419.1 1095.6 L420.5 1091.6 L421.9 1090.4 L423.3 1097.2 L424.6 1090.5 L426 1095.8 L427.7 1097.2 L429.4 1110.3 L431 1111.1 L432.7 1108.3 L434.4 1102.7 L435.7 1104.5 L437.1 1103.3 L438.5 1100.7 L439.9 1095.8 L441.3 1093.7 L442.7 1091.2 L444.1 1087.8 L445.5 1081.9 L446.8 1085.7 L448.2 1077.2 L449.6 1074.9 L451 1073.6 L452.4 1067.1 L453.8 1075.3 L455.2 1068 L456.6 1071.1 L457.9 1068.5 L459.3 1058.3 L460.7 1074 L462.1 1084.7 L463.5 1062.7 L464.9 1050 L466.3 1053.7 L467.7 1052.7 L469 1056.9 L470.9 1044.9 L472.7 1019.5 L474.3 1034 L476 1054.2 L477.4 1061.5 L478.8 1075.7 L480.1 1081.9 L481.5 1072.7 L482.9 1054.2 L484.3 1063.4 L485.7 1069.5 L487.1 1065.3 L488.5 1075.9 L489.9 1075.3 L491.2 1073.6 L492.6 1078.9 L494 1065.4 L495.4 1068 L496.8 1058.4 L498.2 1072.6 L499.6 1063.9 L501 1056.3 L502.3 1062.8 L503.7 1062.5 L505.1 1041.9 L506.5 1034.7 L507.9 1039.1 L509.3 1062.5 L510.7 1043.3 L512.1 1033.4 L513.5 1039.1 L514.8 1040.8 L516.2 1029.2 L517.6 1053.6 L519 1062.5 L520.4 1071 L521.8 1091.6 L523.2 1071.8 L524.6 1054.2 L525.9 1045.7 L527.3 1041.2 L528.7 1043.1 L530.1 1048.3 L531.5 1040.7 L532.9 1043.9 L534.3 1037.5 L535.7 1052.6 L537 1051.7 L538.4 1051.4 L539.8 1032.6 L541.2 1002.4 L542.6 993.1 L544 1001.4 L545.4 1008.2 L546.8 1020.9 L548.1 1013 L549.5 1027.2 L550.9 1026.4 L552.3 1032.4 L553.7 1046.7 L555.1 1050 L556.5 1040.2 L557.9 1038.9 L559.2 1045.8 L560.6 1050.2 L562 1065.3 L563.4 1066.5 L564.8 1074.5 L566.2 1066.7 L567.6 1040.3 L569 966.4 L570.3 893.2 L571.7 930.6 L573.1 976.5 L574.5 935 L575.9 890.4 L577.3 844.8 L578.7 780.8 L580.9 1076.4 L583.1 850.2 L585.6 932.1 L587.5 1004.2 L589.8 973.7 L591.2 977.8 L592.5 995.9 L593.9 1034.3 L595.3 1065.3 L596.7 1042 L598.1 983.2 L599.5 961.2 L600.9 1018.2 L602.3 1087.5 L603.6 1072.6 L605 1045.8 L606.4 1062.8 L607.8 1087.5 L609.2 1112.7 L610.6 1142.2 L612 1142.8 L613.4 1143.4 L614.7 1143.4 L616 1143.4 L617.3 1143.4 L618.6 1143.4 L619.9 1143.4 L621.2 1143.4 L622.5 1143.4 L623.8 1143.4 L625.1 1143.4 L626.4 1143.4 L627.7 1143.4 L629 1143.4 L630.3 1143.4 L631.6 1143.4 L632.9 1143.4 L634.2 1143.4 L635.5 1143.4 L636.8 1143.4 L638.1 1143.4 L639.4 1143.4 L640.7 1143.4 L642 1143.4 L643.3 1143.4 L644.6 1143.4 L645.9 1143.4 L647.2 1143.4 L648.5 1143.4 L649.8 1143.4 L651.1 1143.4 L652.4 1143.4 L653.7 1143.4 L655 1143.4 L656.3 1143.4 L657.6 1143.4 L658.9 1143.4 L660.2 1143.4 L661.5 1143.4 L662.8 1143.4 L664.1 1143.4 L665.4 1143.4 L666.7 1143.4 L668 1143.4 L669.3 1143.4 L670.6 1143.4 L671.9 1143.4 L673.2 1143.4 L674.5 1143.4 L675.8 1143.4 L677.1 1143.4 L678.4 1143.4 L679.7 1143.4 L681 1143.4 L682.3 1143.4 L683.6 1143.4 L684.9 1143.4 L686.2 1143.4 L687.5 1143.4 L688.8 1143.4 L690.1 1143.4 L691.4 1143.4 L692.7 1143.4 L694 1143.4 L695.3 1143.4 L696.6 1143.4 L697.9 1143.4 L699.2 1143.4 L700.5 1143.4 L701.8 1143.4 L703.1 1143.4 L704.4 1143.4 L705.7 1143.4 L707 1143.4 L708.3 1143.4 L709.6 1143.4 L710.9 1143.4 L712.2 1143.4 L713.5 1143.4 L714.8 1143.4 L716.1 1143.4 L717.5 1143.4 L718.8 1143.4 L720.1 1143.4 L721.4 1143.4 L722.7 1143.4 L724 1143.4 L725.3 1143.4 L726.6 1143.4 L727.9 1143.4 L729.2 1143.4 L730.5 1143.4 L731.8 1143.4 L733.1 1143.4 L734.4 1143.4 L735.7 1143.4 L737 1143.4 L738.3 1143.4 L739.6 1143.4 L740.9 1143.4 L742.2 1143.4 L743.5 1143.4 L744.8 1143.4 L746.1 1143.4 L747.4 1143.4 L748.7 1143.4 L750 1143.4 L751.3 1143.4 L752.6 1143.4 L753.9 1143.4 L755.2 1143.4 L756.5 1143.4 L757.8 1143.4 L759.1 1143.4 L760.4 1143.4 L761.7 1143.4 L763 1143.4 L764.3 1143.4 L765.6 1143.4 L766.9 1143.4 L768.2 1143.4 L769.5 1143.4 L770.8 1143.4 L772.1 1143.4 L773.4 1143.4 L774.7 1143.4 L776 1143.4 L777.3 1143.4 L778.6 1143.4 L779.9 1143.4 L781.2 1143.4 L782.5 1143.4 L783.8 1143.4 L785.1 1143.4 L786.4 1143.4 L787.7 1143.4 L789 1143.4 L790.3 1143.4 L791.6 1143.4 L792.9 1143.4 L794.2 1143.4 L795.5 1143.4 L796.8 1143.4 L798.1 1143.4 L799.4 1143.4 L800.7 1143.4 L802 1143.4 L803.3 1143.4 L804.6 1143.4 L805.9 1143.4 L807.2 1143.4 L808.5 1143.4 L809.8 1143.4 L811.1 1143.4 L812.4 1143.4 L813.7 1143.4 L815 1143.4 L816.3 1143.4 L817.6 1143.4 L818.9 1143.4 L820.2 1143.4 L821.5 1143.4 L822.8 1143.4 L824.1 1143.4 L825.4 1143.4 L826.7 1143.4 L828 1143.4 L829.4 1143.4 L830.7 1143.4 L832 1143.4 L833.3 1143.4 L834.6 1143.4 L835.9 1143.4 L837.2 1143.4 L838.5 1143.4 L839.8 1143.4 L841.1 1143.4 L842.4 1143.4 L843.7 1143.4 L845 1143.4 L846.3 1143.4 L847.6 1143.4 L848.9 1143.4 L850.2 1143.4 L851.5 1143.4 L852.8 1143.4 L854.1 1143.4 L855.4 1143.4 L856.7 1143.4 L858 1143.4 L859.3 1143.4 L860.6 1143.4 L861.9 1143.4 L863.2 1143.4 L864.5 1143.4 L865.8 1143.4 L867.1 1143.4 L868.4 1143.4 L869.7 1143.4 L871 1143.4 L872.3 1143.4 L873.6 1143.4 L874.9 1143.4 L876.2 1143.4 L877.5 1143.4 L878.8 1143.4 L880.1 1143.4 L881.4 1143.4 L882.7 1143.4 L884 1143.4 L885.3 1143.4 L886.6 1143.4 L887.9 1143.4 L889.2 1143.4 L890.5 1143.4 L891.8 1143.4 L893.1 1143.4 L894.4 1143.4 L895.7 1143.4 L897 1143.4 L898.3 1143.4 L899.6 1143.4 L900.9 1143.4 L902.2 1143.4 L903.5 1143.4 L904.8 1143.4 L906.1 1143.4 L907.4 1143.4 L908.7 1143.4 L910 1143.4 L911.3 1143.4 L912.6 1143.4 L913.9 1143.4 L915.2 1143.4 L916.5 1143.4 L917.8 1143.4 L919.1 1143.4 L920.4 1143.4 L921.7 1143.4 L923 1143.4 L924.3 1143.4 L925.6 1143.4 L926.9 1143.4 L928.2 1143.4 L929.5 1143.4 L930.8 1143.4 L932.1 1143.4 L933.4 1143.4 L934.7 1143.4 L936 1143.4 L937.3 1143.4 L938.6 1143.4 L939.9 1143.4 L941.3 1143.4 L942.6 1143.4 L943.9 1143.4 L945.2 1143.4 L946.5 1143.4 L947.8 1143.4 L949.1 1143.4 L950.4 1143.4 L951.7 1143.4 L953 1143.4 L954.3 1143.4 L955.6 1143.4 L956.9 1143.4 L958.2 1143.4 L959.5 1143.4 L960.8 1143.4 L962.1 1143.4 L963.4 1143.4 L964.7 1143.4 L966 1143.4 L967.3 1143.4 L968.6 1143.4 L969.9 1143.4 L971.2 1143.4 L972.5 1143.4 L973.8 1143.4 L975.1 1143.4 L976.4 1143.4 L977.7 1143.4 L979 1143.4 L980.3 1143.4 L981.6 1143.4 L982.9 1143.4 L984.2 1143.4 L985.5 1143.4 L986.8 1143.4 L988.1 1143.4 L989.4 1143.4 L990.7 1143.4 L992 1143.4 L993.3 1143.4 L994.6 1143.4 L995.9 1143.4 L997.2 1143.4 L998.5 1143.4 L999.8 1143.4 L1001.1 1143.4 L1002.4 1143.4 L1003.8 1142.5 L1005.2 1141.2 L1006.6 1141 L1008 1139.7 L1009.3 1138.9 L1010.7 1139 L1012.1 1138.2 L1013.5 1136.4 L1014.9 1136.2 L1016.3 1138.2 L1017.7 1138.7 L1019.1 1138.6 L1020.4 1139.1 L1021.8 1140 L1023.2 1140.3 L1024.6 1141.4 L1026 1141.1 L1027.4 1141.9 L1028.8 1142.2 L1030.2 1142.5 L1031.5 1142.8 L1032.9 1143 L1034.3 1143.1 L1035.7 1143.2 L1037.1 1143.3 L1038.5 1143.4 L1039.8 1143.4 L1041.1 1143.4 L1042.4 1143.4 L1043.7 1143.4 L1045 1143.4 L1046.3 1143.4 L1047.6 1143.4 L1048.9 1143.4 L1050.2 1143.4 L1051.5 1143.4 L1052.8 1143.4 L1054.1 1143.4 L1055.4 1143.4 L1056.7 1143.4 L1058 1143.4 L1059.3 1143.4 L1060.6 1143.4 L1061.9 1143.4 L1063.2 1143.4 L1064.5 1143.4 L1065.8 1143.4 L1067.1 1143.4 L1068.4 1143.4 L1069.7 1143.4 L1071 1143.4 L1072.3 1143.4 L1073.6 1143.4 L1074.9 1143.4 L1076.2 1143.4 L1077.5 1143.4 L1078.8 1143.4 L1080.1 1143.4 L1081.4 1143.4 L1082.7 1143.4 L1084 1143.4 L1085.3 1143.4 L1086.6 1143.4 L1087.9 1143.4 L1089.2 1143.4 L1090.5 1143.4 L1091.8 1143.4 L1093.1 1143.4 L1094.4 1143.4 L1095.7 1143.4 L1097 1143.4 L1098.4 1143.4 L1099.7 1143.4 L1101 1143.4 L1102.3 1143.4 L1103.6 1143.4 L1104.9 1143.4 L1106.2 1143.4 L1107.5 1143.4 L1108.8 1143.4 L1110.1 1143.4 L1111.4 1143.4 L1112.7 1143.4 L1114 1143.4 L1115.3 1143.4 L1116.6 1143.4 L1117.9 1143.4 L1119.2 1143.4 L1120.5 1143.4 L1121.8 1143.4 L1123.1 1143.4 L1124.4 1143.4 L1125.7 1143.4 L1127 1143.4 L1128.3 1143.4 L1129.6 1143.4 L1130.9 1143.4 L1132.2 1143.4 L1133.5 1143.4 L1134.8 1143.4 L1136.1 1143.4 L1137.4 1143.4 L1138.7 1143.4 L1140 1143.4 L1141.3 1143.4 L1142.6 1143.4 L1143.9 1143.4 L1145.2 1143.4 L1146.5 1143.4 L1147.8 1143.4 L1149.1 1143.4 L1150.4 1143.4 L1151.7 1143.4 L1153 1143.4 L1154.3 1143.4 L1155.6 1143.4 L1156.9 1143.4 L1158.2 1143.4 L1159.5 1143.4 L1160.8 1143.4 L1162.1 1143.4 L1163.4 1143.4 L1164.7 1143.4 L1166 1143.4 L1167.3 1143.4 L1168.6 1143.4 L1169.9 1143.4 L1171.2 1143.4 L1172.5 1143.4 L1173.8 1143.4 L1175.1 1143.4 L1176.4 1143.4 L1177.7 1143.4 L1179 1143.4 L1180.3 1143.4 L1181.6 1143.4 L1182.9 1143.4 L1184.2 1143.4 L1185.6 1143.4 L1186.9 1143.4 L1188.2 1143.4 L1189.5 1143.4 L1190.8 1143.4 L1192.1 1143.4 L1193.4 1143.4 L1194.7 1143.4 L1196 1143.4 L1197.3 1143.4 L1198.6 1143.4 L1200 1141.3 L1201.3 1139.2 L1202.7 1137.9 L1204.1 1136.7 L1205.5 1134.6 L1206.9 1132.2 L1208.3 1137.5 L1209.7 1143.4 L1211.1 1143 L1212.4 1142.6 L1213.8 1142.2 L1215.2 1140.8 L1216.6 1140 L1218 1138 L1219.4 1139 L1220.8 1141.1 L1222.2 1142.8 L1223.5 1142.9 L1224.9 1143 L1226.3 1143.1 L1227.7 1143.2 L1229.1 1143.3 L1230.5 1143.4 L1231.9 1143.3 L1233.3 1143.2 L1234.6 1143.1 L1236 1143 L1237.4 1142.9 L1238.8 1142.8 L1240.2 1142.7 L1241.6 1142.6 L1243 1142.5 L1244.4 1142.4 L1245.7 1142.3 L1247.1 1142.2 L1248.5 1142.1 L1249.9 1142.1 L1251.3 1142 L1252.7 1142 L1254.1 1141.9 L1255.5 1141.6 L1256.8 1141.5 L1258.2 1141.4 L1259.6 1142.3 L1261 1141.6 L1262.4 1142.3 L1263.8 1142 L1265.2 1142.2 L1266.6 1142.3 L1267.9 1142.5 L1269.3 1142.7 L1270.7 1142.9 L1272.1 1143 L1273.5 1143.2 L1274.9 1143.4 L1276.3 1143.4 L1277.7 1143.4 L1279 1143.4 L1280.4 1143.4 L1281.8 1143.1 L1283.2 1142.9 L1284.6 1142.6 L1286 1142.4 L1287.4 1142.1 L1288.8 1141.4 L1290.1 1141.9 L1291.5 1141.3 L1292.9 1141.7 L1294.3 1140.8 L1295.7 1141.3 L1297.1 1141.4 L1298.5 1140.4 L1299.9 1140.8 L1301.2 1139.6 L1302.6 1139.6 L1304 1140.3 L1305.4 1140.3 L1306.8 1138.9 L1308.2 1138.7 L1309.6 1139.4 L1311 1139.5 L1312.3 1139.1 L1313.7 1137 L1315.1 1138.4 L1316.5 1136.7 L1317.9 1135.8 L1319.3 1135.8 L1320.7 1133 L1322.1 1133.7 L1323.5 1133.6 L1324.8 1130.4 L1326.2 1129.1 L1327.6 1132.5 L1329 1133.4 L1330.4 1133.7 L1331.8 1133.6 L1333.2 1131.6 L1334.6 1131.8 L1335.9 1132.2 L1337.3 1131.7 L1338.7 1132.1 L1340.1 1132.4 L1341.5 1132.2 L1342.9 1134.2 L1344.3 1134.5 L1345.7 1136.7 L1347 1136.7 L1348.4 1137.2 L1349.8 1134.4 L1351.2 1135.5 L1352.6 1133.7 L1354 1135.4 L1355.4 1134 L1356.8 1134.8 L1358.1 1135.3 L1359.5 1135.7 L1360.9 1134.6 L1362.3 1133.7 L1363.7 1133.7 L1365.1 1133.4 L1366.5 1132.4 L1367.9 1131.9 L1369.2 1131.3 L1370.6 1131.8 L1372 1132.4 L1373.4 1134.1 L1374.8 1135.3 L1376.2 1133.5 L1377.6 1133.8 L1379 1130.7 L1380.3 1131.5 L1381.7 1132.2 L1383.1 1133.7 L1384.5 1135.3 L1385.9 1133.7 L1387.3 1135.3 L1388.7 1135.5 L1390.1 1134.6 L1391.4 1133.7 L1392.8 1133.2 L1394.2 1132.9 L1395.6 1134 L1397 1133.3 L1398.4 1133.8 L1399.8 1133.7 L1401.2 1134.7 L1402.5 1134.2 L1403.9 1132.6 L1405.3 1134 L1406.7 1133 L1408.1 1133.7 L1409.5 1132.6 L1410.9 1134.6 L1412.3 1133.4 L1413.6 1135.3 L1415 1135.6 L1416.4 1137.4 L1417.8 1139.4 L1419.2 1140.2 L1420.6 1139.2 L1422 1139 L1423.4 1139.5 L1424.7 1140 L1426.1 1140.7 L1427.5 1140.9 L1428.9 1141.2 L1430.3 1140.8 L1431.7 1140.4 L1433.1 1141.2 L1434.5 1140 L1435.8 1140.5 L1437.2 1141.6 L1438.6 1140.8 L1440 1141 L1441.4 1139.7 L1442.8 1140.3 L1444.2 1140 L1445.6 1139.3 L1447.1 1140.2 L1448.5 1139.5 L1450 1139.4 L1451.4 1140.3 L1452.7 1141.4 L1454.1 1141.9 L1455.5 1142 L1456.9 1141.9 L1458.4 1140.9 L1459.8 1141.4 L1461.3 1141.2 L1462.7 1141.7 L1464.2 1141.2 L1465.6 1142.2 L1467 1142.5 L1468.5 1142.9 L1469.8 1142.8 L1471.2 1142.7 L1472.5 1142.7 L1473.9 1142.6 L1475.2 1142.5 L1476.6 1142.5 L1477.9 1142.4 L1479.3 1142.3 L1480.6 1142.3 L1482 1142.2 L1483.3 1142.1 L1484.6 1142.1 L1486 1142 L1487.3 1141.9 L1488.7 1141.8 L1490 1142.2 L1491.4 1141.2 L1492.7 1141.7 L1494.1 1142.1 L1495.4 1141.2 L1496.8 1142.2 L1498.1 1141.7 L1499.5 1141.3 L1500.8 1140.9 L1502.2 1141.2 L1503.6 1140.7 L1505 1140.9 L1506.5 1140.9 L1507.9 1140.4 L1509.4 1141.2 L1510.8 1141.4 L1512.2 1141.1 L1513.6 1141.6 L1515 1140.9 L1516.4 1140.7 L1517.8 1142.1 L1519.2 1141.7 L1520.6 1141.9 L1522 1142.1 L1523.4 1142.2 L1524.8 1142.3 L1526.2 1141.9 L1527.5 1142.1 L1528.9 1142.2 L1530.2 1142.4 L1531.6 1142.6 L1532.9 1142.7 L1534.2 1142.9 L1535.6 1143.1 L1536.9 1143.2 L1538.2 1143.4 L1539.6 1143.4 L1540.9 1143.4 L1542.2 1143.3 L1543.6 1143.3 L1544.9 1143.3 L1546.3 1143.3 L1547.6 1143.3 L1548.9 1143.2 L1550.3 1143.2 L1551.6 1143.2 L1552.9 1143.2 L1554.3 1143.2 L1555.6 1143.1 L1556.9 1143.1 L1558.3 1143.1 L1559.6 1143.1 L1560.9 1143.1 L1562.3 1143 L1563.6 1143 L1565 1143 L1566.3 1143 L1567.6 1143 L1569 1142.9 L1570.3 1142.9 L1571.6 1142.9 L1573 1142.9 L1574.3 1142.9 L1575.7 1142.9 L1577.1 1143 L1578.4 1143.1 L1579.8 1143.2 L1581.2 1143.2 L1582.6 1143.3 L1583.9 1143.4 L1585.2 1143.3 L1586.6 1143.1 L1587.9 1143 L1589.2 1142.9 L1590.5 1142.7 L1591.8 1142.6 L1593.1 1142.5 L1594.4 1142.3 L1595.7 1142.2 L1597.1 1142 L1598.4 1141.9 L1599.7 1141.9 L1601 1142 L1602.4 1142 L1603.7 1142 L1605 1142 L1606.4 1142.1 L1607.7 1142.1 L1609.1 1142.1 L1610.4 1142.1 L1611.7 1142.2 L1613.1 1142.2 L1614.4 1142.2 L1615.7 1142.3 L1617.1 1142.3 L1618.4 1142.3 L1619.7 1142.3 L1621.1 1142.4 L1622.4 1142.4 L1623.8 1142.3 L1625.2 1142.3 L1626.5 1142.2 L1627.9 1142.1 L1629.3 1142 L1630.7 1142 L1632 1141.9 L1633.5 1142.2 L1634.9 1142.5 L1636.4 1142.8 L1637.8 1143.1 L1639.3 1143.4 L1640.9 1141.7 L1642.5 1140.8 L1644.1 1138.8 L1645.9 1136.6 L1647.7 1134.6 L1649.5 1136.6 L1651.3 1137.1 L1652.9 1138 L1654.5 1140.5 L1656.1 1141.9 L1657.5 1142 L1659 1142.1 L1660.4 1142.2 L1661.9 1142.3 L1663.3 1142.4 L1662.6 1143.4" fill="none" stroke="#00ff00" stroke-width="4.1" stroke-linejoin="round" stroke-linecap="butt" clip-path="url(#paL)"/>
<text x="267.2" y="1217.7" font-size="49" text-anchor="middle" font-weight="normal">-5</text>
<text x="337" y="1217.7" font-size="49" text-anchor="middle" font-weight="normal">-4</text>
<text x="406.7" y="1217.7" font-size="49" text-anchor="middle" font-weight="normal">-3</text>
<text x="476.5" y="1217.7" font-size="49" text-anchor="middle" font-weight="normal">-2</text>
<text x="546.3" y="1217.7" font-size="49" text-anchor="middle" font-weight="normal">-1</text>
<text x="616" y="1217.7" font-size="49" text-anchor="middle" font-weight="normal">0</text>
<text x="685.8" y="1217.7" font-size="49" text-anchor="middle" font-weight="normal">1</text>
<text x="755.6" y="1217.7" font-size="49" text-anchor="middle" font-weight="normal">2</text>
<text x="825.4" y="1217.7" font-size="49" text-anchor="middle" font-weight="normal">3</text>
<text x="895.1" y="1217.7" font-size="49" text-anchor="middle" font-weight="normal">4</text>
<text x="964.9" y="1217.7" font-size="49" text-anchor="middle" font-weight="normal">5</text>
<text x="1034.7" y="1217.7" font-size="49" text-anchor="middle" font-weight="normal">6</text>
<text x="1104.4" y="1217.7" font-size="49" text-anchor="middle" font-weight="normal">7</text>
<text x="1174.2" y="1217.7" font-size="49" text-anchor="middle" font-weight="normal">8</text>
<text x="1244" y="1217.7" font-size="49" text-anchor="middle" font-weight="normal">9</text>
<text x="1313.8" y="1217.7" font-size="49" text-anchor="middle" font-weight="normal">10</text>
<text x="1383.5" y="1217.7" font-size="49" text-anchor="middle" font-weight="normal">11</text>
<text x="1453.3" y="1217.7" font-size="49" text-anchor="middle" font-weight="normal">12</text>
<text x="1523.1" y="1217.7" font-size="49" text-anchor="middle" font-weight="normal">13</text>
<text x="1592.8" y="1217.7" font-size="49" text-anchor="middle" font-weight="normal">14</text>
<text x="1662.6" y="1217.7" font-size="49" text-anchor="middle" font-weight="normal">15</text>
<text x="232" y="157" font-size="49" text-anchor="end" font-weight="normal">168</text>
<text x="232" y="372.5" font-size="49" text-anchor="end" font-weight="normal">167</text>
<text x="232" y="647" font-size="49" text-anchor="end" font-weight="normal">10</text>
<text x="232" y="903" font-size="49" text-anchor="end" font-weight="normal">5</text>
<text x="232" y="1158.5" font-size="49" text-anchor="end" font-weight="normal">0</text>
</g>
<g id="pb">
<line x1="241.5" y1="1387" x2="241.5" y2="1723.3" stroke="#000" stroke-width="5" stroke-linecap="butt"/>
<line x1="241.5" y1="1743.3" x2="241.5" y2="2539.8" stroke="#000" stroke-width="5" stroke-linecap="butt"/>
<line x1="239" y1="2537.3" x2="1682.6" y2="2537.3" stroke="#000" stroke-width="5" stroke-linecap="butt"/>
<line x1="241.5" y1="2537.3" x2="241.5" y2="2561.1" stroke="#000" stroke-width="5" stroke-linecap="butt"/>
<line x1="277.5" y1="2537.3" x2="277.5" y2="2548.6" stroke="#000" stroke-width="5" stroke-linecap="butt"/>
<line x1="313.4" y1="2537.3" x2="313.4" y2="2561.1" stroke="#000" stroke-width="5" stroke-linecap="butt"/>
<line x1="349.4" y1="2537.3" x2="349.4" y2="2548.6" stroke="#000" stroke-width="5" stroke-linecap="butt"/>
<line x1="385.4" y1="2537.3" x2="385.4" y2="2561.1" stroke="#000" stroke-width="5" stroke-linecap="butt"/>
<line x1="421.3" y1="2537.3" x2="421.3" y2="2548.6" stroke="#000" stroke-width="5" stroke-linecap="butt"/>
<line x1="457.3" y1="2537.3" x2="457.3" y2="2561.1" stroke="#000" stroke-width="5" stroke-linecap="butt"/>
<line x1="493.3" y1="2537.3" x2="493.3" y2="2548.6" stroke="#000" stroke-width="5" stroke-linecap="butt"/>
<line x1="529.2" y1="2537.3" x2="529.2" y2="2561.1" stroke="#000" stroke-width="5" stroke-linecap="butt"/>
<line x1="565.2" y1="2537.3" x2="565.2" y2="2548.6" stroke="#000" stroke-width="5" stroke-linecap="butt"/>
<line x1="601.2" y1="2537.3" x2="601.2" y2="2561.1" stroke="#000" stroke-width="5" stroke-linecap="butt"/>
<line x1="637.1" y1="2537.3" x2="637.1" y2="2548.6" stroke="#000" stroke-width="5" stroke-linecap="butt"/>
<line x1="673.1" y1="2537.3" x2="673.1" y2="2561.1" stroke="#000" stroke-width="5" stroke-linecap="butt"/>
<line x1="709" y1="2537.3" x2="709" y2="2548.6" stroke="#000" stroke-width="5" stroke-linecap="butt"/>
<line x1="745" y1="2537.3" x2="745" y2="2561.1" stroke="#000" stroke-width="5" stroke-linecap="butt"/>
<line x1="781" y1="2537.3" x2="781" y2="2548.6" stroke="#000" stroke-width="5" stroke-linecap="butt"/>
<line x1="816.9" y1="2537.3" x2="816.9" y2="2561.1" stroke="#000" stroke-width="5" stroke-linecap="butt"/>
<line x1="852.9" y1="2537.3" x2="852.9" y2="2548.6" stroke="#000" stroke-width="5" stroke-linecap="butt"/>
<line x1="888.9" y1="2537.3" x2="888.9" y2="2561.1" stroke="#000" stroke-width="5" stroke-linecap="butt"/>
<line x1="924.8" y1="2537.3" x2="924.8" y2="2548.6" stroke="#000" stroke-width="5" stroke-linecap="butt"/>
<line x1="960.8" y1="2537.3" x2="960.8" y2="2561.1" stroke="#000" stroke-width="5" stroke-linecap="butt"/>
<line x1="996.8" y1="2537.3" x2="996.8" y2="2548.6" stroke="#000" stroke-width="5" stroke-linecap="butt"/>
<line x1="1032.7" y1="2537.3" x2="1032.7" y2="2561.1" stroke="#000" stroke-width="5" stroke-linecap="butt"/>
<line x1="1068.7" y1="2537.3" x2="1068.7" y2="2548.6" stroke="#000" stroke-width="5" stroke-linecap="butt"/>
<line x1="1104.7" y1="2537.3" x2="1104.7" y2="2561.1" stroke="#000" stroke-width="5" stroke-linecap="butt"/>
<line x1="1140.6" y1="2537.3" x2="1140.6" y2="2548.6" stroke="#000" stroke-width="5" stroke-linecap="butt"/>
<line x1="1176.6" y1="2537.3" x2="1176.6" y2="2561.1" stroke="#000" stroke-width="5" stroke-linecap="butt"/>
<line x1="1212.6" y1="2537.3" x2="1212.6" y2="2548.6" stroke="#000" stroke-width="5" stroke-linecap="butt"/>
<line x1="1248.5" y1="2537.3" x2="1248.5" y2="2561.1" stroke="#000" stroke-width="5" stroke-linecap="butt"/>
<line x1="1284.5" y1="2537.3" x2="1284.5" y2="2548.6" stroke="#000" stroke-width="5" stroke-linecap="butt"/>
<line x1="1320.5" y1="2537.3" x2="1320.5" y2="2561.1" stroke="#000" stroke-width="5" stroke-linecap="butt"/>
<line x1="1356.4" y1="2537.3" x2="1356.4" y2="2548.6" stroke="#000" stroke-width="5" stroke-linecap="butt"/>
<line x1="1392.4" y1="2537.3" x2="1392.4" y2="2561.1" stroke="#000" stroke-width="5" stroke-linecap="butt"/>
<line x1="1428.3" y1="2537.3" x2="1428.3" y2="2548.6" stroke="#000" stroke-width="5" stroke-linecap="butt"/>
<line x1="1464.3" y1="2537.3" x2="1464.3" y2="2561.1" stroke="#000" stroke-width="5" stroke-linecap="butt"/>
<line x1="1500.3" y1="2537.3" x2="1500.3" y2="2548.6" stroke="#000" stroke-width="5" stroke-linecap="butt"/>
<line x1="1536.2" y1="2537.3" x2="1536.2" y2="2561.1" stroke="#000" stroke-width="5" stroke-linecap="butt"/>
<line x1="1572.2" y1="2537.3" x2="1572.2" y2="2548.6" stroke="#000" stroke-width="5" stroke-linecap="butt"/>
<line x1="1608.2" y1="2537.3" x2="1608.2" y2="2561.1" stroke="#000" stroke-width="5" stroke-linecap="butt"/>
<line x1="1644.1" y1="2537.3" x2="1644.1" y2="2548.6" stroke="#000" stroke-width="5" stroke-linecap="butt"/>
<line x1="1680.1" y1="2537.3" x2="1680.1" y2="2561.1" stroke="#000" stroke-width="5" stroke-linecap="butt"/>
<line x1="230" y1="1389.5" x2="241.5" y2="1389.5" stroke="#000" stroke-width="5" stroke-linecap="butt"/>
<line x1="218" y1="1456.6" x2="241.5" y2="1456.6" stroke="#000" stroke-width="5" stroke-linecap="butt"/>
<line x1="230" y1="1522.9" x2="241.5" y2="1522.9" stroke="#000" stroke-width="5" stroke-linecap="butt"/>
<line x1="218" y1="1589.2" x2="241.5" y2="1589.2" stroke="#000" stroke-width="5" stroke-linecap="butt"/>
<line x1="230" y1="1656.3" x2="241.5" y2="1656.3" stroke="#000" stroke-width="5" stroke-linecap="butt"/>
<line x1="218" y1="1723.3" x2="241.5" y2="1723.3" stroke="#000" stroke-width="5" stroke-linecap="butt"/>
<line x1="218" y1="2537.3" x2="241.5" y2="2537.3" stroke="#000" stroke-width="5" stroke-linecap="butt"/>
<line x1="230" y1="2471.2" x2="241.5" y2="2471.2" stroke="#000" stroke-width="5" stroke-linecap="butt"/>
<line x1="218" y1="2405.1" x2="241.5" y2="2405.1" stroke="#000" stroke-width="5" stroke-linecap="butt"/>
<line x1="230" y1="2338.9" x2="241.5" y2="2338.9" stroke="#000" stroke-width="5" stroke-linecap="butt"/>
<line x1="218" y1="2272.8" x2="241.5" y2="2272.8" stroke="#000" stroke-width="5" stroke-linecap="butt"/>
<line x1="230" y1="2206.7" x2="241.5" y2="2206.7" stroke="#000" stroke-width="5" stroke-linecap="butt"/>
<line x1="218" y1="2140.6" x2="241.5" y2="2140.6" stroke="#000" stroke-width="5" stroke-linecap="butt"/>
<line x1="230" y1="2074.5" x2="241.5" y2="2074.5" stroke="#000" stroke-width="5" stroke-linecap="butt"/>
<line x1="218" y1="2008.3" x2="241.5" y2="2008.3" stroke="#000" stroke-width="5" stroke-linecap="butt"/>
<line x1="230" y1="1942.2" x2="241.5" y2="1942.2" stroke="#000" stroke-width="5" stroke-linecap="butt"/>
<line x1="218" y1="1876.1" x2="241.5" y2="1876.1" stroke="#000" stroke-width="5" stroke-linecap="butt"/>
<line x1="230" y1="1810" x2="241.5" y2="1810" stroke="#000" stroke-width="5" stroke-linecap="butt"/>
<line x1="218" y1="1733.3" x2="265" y2="1713.3" stroke="#000" stroke-width="4.6" stroke-linecap="butt"/>
<line x1="218" y1="1753.3" x2="265" y2="1733.3" stroke="#000" stroke-width="4.6" stroke-linecap="butt"/>
<path d="M241.5 2537.3 L242.8 2537.3 L244.1 2537.3 L245.4 2537.3 L246.7 2537.3 L248 2537.3 L249.3 2537.3 L250.6 2537.3 L251.9 2537.3 L253.2 2537.3 L254.5 2537.3 L255.8 2537.3 L257.1 2537.3 L258.4 2537.3 L259.7 2537.3 L261 2537.3 L262.3 2537.3 L263.6 2537.3 L265 2537.3 L266.3 2537.3 L267.6 2537.3 L268.9 2537.3 L270.2 2537.3 L271.5 2537.3 L272.8 2537.3 L274.1 2537.3 L275.4 2537.3 L276.7 2537.3 L278 2537.3 L279.3 2537.3 L280.6 2537.3 L281.9 2537.3 L283.2 2537.3 L284.5 2537.3 L285.8 2537.3 L287.1 2537.3 L288.4 2537.3 L289.7 2537.3 L291 2537.3 L292.3 2537.3 L293.6 2537.3 L294.9 2537.3 L296.2 2537.3 L297.5 2537.3 L298.8 2537.3 L300.1 2537.3 L301.4 2537.3 L302.7 2537.3 L304 2537.3 L305.3 2537.3 L306.6 2537.3 L307.9 2537.3 L309.2 2537.3 L310.5 2537.3 L311.9 2537.3 L313.2 2537.3 L314.5 2537.3 L315.8 2537.3 L317.1 2537.3 L318.4 2537.3 L319.7 2537.3 L321 2537.3 L322.3 2537.3 L323.6 2537.3 L324.9 2537.3 L326.2 2537.3 L327.5 2537.3 L328.8 2537.3 L330.1 2537.3 L331.4 2537.3 L332.7 2537.3 L334 2537.3 L335.3 2537.3 L336.6 2537.3 L337.9 2537.3 L339.2 2537.3 L340.5 2537.3 L341.8 2537.3 L343.1 2537.3 L344.4 2537.3 L345.7 2537.3 L347 2537.3 L348.3 2537.3 L349.6 2537.3 L350.9 2537.3 L352.2 2537.3 L353.5 2537.3 L354.8 2537.3 L356.1 2537.3 L357.4 2537.3 L358.8 2537.3 L360.1 2537.3 L361.4 2537.3 L362.7 2537.3 L364 2537.3 L365.3 2537.3 L366.6 2537.3 L367.9 2537.3 L369.2 2537.3 L370.5 2537.3 L371.8 2537.3 L373.1 2537.3 L374.4 2537.3 L375.7 2537.3 L377.2 2537.3 L378.7 2537.3 L380 2531.1 L381.3 2522.6 L382.7 2516.3 L384.5 2514 L386.3 2514.6 L387.8 2517.7 L389.4 2515.1 L390.9 2518.3 L392.4 2519.7 L394 2519.5 L395.5 2519.4 L397 2516.6 L398.5 2518 L400.1 2519.5 L401.6 2519.7 L403.1 2522.1 L404.6 2521.3 L406.2 2519.3 L407.7 2523.3 L409.2 2519.9 L410.7 2521.3 L412.3 2524.3 L413.8 2524.7 L415.3 2526.4 L416.8 2527.6 L418.4 2525.6 L419.9 2526.2 L421.4 2525.6 L423 2527 L424.5 2527.4 L426 2526 L427.5 2524.2 L429.1 2524.7 L430.6 2524.3 L432.1 2524.6 L433.6 2525.7 L435.2 2527.6 L436.7 2528.1 L438 2527.9 L439.4 2528.7 L440.7 2526.8 L442 2529.1 L443.4 2529.5 L444.7 2528.8 L446 2528.8 L447.4 2528.1 L448.9 2529.5 L450.4 2527.7 L452 2529.2 L453.5 2529.7 L455 2528.4 L456.5 2530.2 L458.1 2529.3 L459.6 2529.1 L461.1 2525.4 L462.6 2524.2 L464.2 2523.2 L465.7 2519.7 L467.2 2521.2 L468.7 2520.6 L470.3 2525.2 L471.8 2524.7 L473.1 2523.3 L474.4 2526.4 L475.7 2527.1 L477 2526.5 L478.3 2527.5 L479.6 2526.2 L481 2526.4 L482.3 2525.5 L483.6 2526.5 L484.9 2527.5 L486.2 2527.7 L487.5 2526.5 L488.8 2528.4 L490.1 2527 L491.6 2524.5 L493.2 2525.2 L494.7 2522.5 L496.2 2522.7 L497.7 2522.3 L499.3 2525.8 L500.8 2524.1 L502.3 2527 L503.6 2528.3 L504.9 2527.7 L506.2 2526.7 L507.6 2524.1 L508.9 2525.3 L510.2 2525.7 L511.5 2524.7 L512.8 2523 L514.1 2523.6 L515.4 2522.7 L516.7 2525.4 L518 2525.6 L519.3 2525.5 L520.6 2523.7 L522.2 2524.9 L523.7 2524.5 L525.2 2522.8 L526.7 2524.7 L528.1 2525.3 L529.4 2526.9 L530.7 2527.4 L532 2525.7 L533.3 2526.3 L534.6 2527.2 L535.9 2529.1 L537.2 2530.4 L538.5 2528.2 L539.8 2529 L541.1 2529.4 L542.4 2530.6 L543.8 2528.6 L545.1 2529.7 L546.4 2529.1 L547.7 2530.6 L549 2528.9 L550.3 2529.2 L551.6 2528.9 L552.9 2531.4 L554.2 2530.3 L555.7 2528.1 L557.3 2527.5 L558.8 2525.7 L560.3 2524.7 L562.2 2526 L564 2523.7 L565.5 2528.1 L567 2531.2 L568.4 2532.6 L569.8 2533.5 L571.2 2534.3 L572.5 2535.8 L574.1 2536.2 L575.6 2536.6 L577.1 2536.9 L578.6 2537.3 L579.9 2537.3 L581.3 2537.3 L582.6 2537.3 L583.9 2537.3 L585.2 2537.3 L586.5 2537.3 L587.8 2537.3 L589.1 2537.3 L590.4 2537.3 L591.7 2537.3 L593 2537.3 L594.3 2537.3 L595.6 2537.3 L597 2537.3 L598.5 2537.3 L600 2537.3 L601.3 2537.3 L602.6 2537.3 L603.9 2537.3 L605.2 2537.3 L606.5 2537.3 L607.8 2537.3 L609.1 2537.3 L610.4 2537.3 L611.7 2537.3 L613 2537.3 L614.3 2537.3 L615.6 2537.3 L616.9 2537.3 L618.2 2537.3 L619.5 2537.3 L620.8 2537.3 L622.1 2537.3 L623.4 2537.3 L624.7 2537.3 L626 2537.3 L627.3 2537.3 L628.6 2537.3 L629.9 2537.3 L631.2 2537.3 L632.5 2537.3 L633.8 2537.3 L635.1 2537.3 L636.4 2537.3 L637.7 2537.3 L639 2537.3 L640.3 2537.3 L641.6 2537.3 L642.9 2537.3 L644.2 2537.3 L645.5 2537.3 L646.8 2537.3 L648.1 2537.3 L649.4 2537.3 L650.7 2537.3 L652 2537.3 L653.3 2537.3 L654.6 2537.3 L655.9 2537.3 L657.2 2537.3 L658.5 2537.3 L659.8 2537.3 L661.1 2537.3 L662.4 2537.3 L663.7 2537.3 L665 2537.3 L666.3 2537.3 L667.6 2537.3 L668.9 2537.3 L670.2 2537.3 L671.5 2537.3 L672.8 2537.3 L674.1 2537.3 L675.4 2537.3 L676.7 2537.3 L678 2537.3 L679.3 2537.3 L680.6 2537.3 L681.9 2537.3 L683.2 2537.3 L684.5 2537.3 L685.8 2537.3 L687.1 2537.3 L688.5 2537.3 L689.8 2537.3 L691.1 2537.3 L692.4 2537.3 L693.7 2537.3 L695 2537.3 L696.3 2537.3 L697.6 2537.3 L698.9 2537.3 L700.2 2537.3 L701.5 2537.3 L702.8 2537.3 L704.1 2537.3 L705.4 2537.3 L706.7 2537.3 L708 2537.3 L709.3 2537.3 L710.6 2537.3 L711.9 2537.3 L713.2 2537.3 L714.5 2537.3 L715.8 2537.3 L717.1 2537.3 L718.4 2537.3 L719.7 2537.3 L721 2537.3 L722.3 2537.3 L723.6 2537.3 L724.9 2537.3 L726.2 2537.3 L727.5 2537.3 L728.8 2537.3 L730.1 2537.3 L731.4 2537.3 L732.7 2537.3 L734 2537.3 L735.3 2537.3 L736.6 2537.3 L737.9 2537.3 L739.2 2537.3 L740.5 2537.3 L741.8 2537.3 L743.1 2537.3 L744.4 2537.3 L745.7 2537.3 L747 2537.3 L748.3 2537.3 L749.6 2537.3 L750.9 2537.3 L752.2 2537.3 L753.5 2537.3 L754.8 2537.3 L756.1 2537.3 L757.4 2537.3 L758.7 2537.3 L760 2537.3 L761.3 2537.3 L762.6 2537.3 L763.9 2537.3 L765.2 2537.3 L766.5 2537.3 L767.8 2537.3 L769.1 2537.3 L770.4 2537.3 L771.7 2537.3 L773 2537.3 L774.3 2537.3 L775.6 2537.3 L776.9 2537.3 L778.2 2537.3 L779.5 2537.3 L780.8 2537.3 L782.1 2537.3 L783.5 2537.3 L784.8 2537.3 L786.1 2537.3 L787.4 2537.3 L788.7 2537.3 L790 2537.3 L791.3 2537.3 L792.6 2537.3 L793.9 2537.3 L795.2 2537.3 L796.5 2537.3 L797.8 2537.3 L799.1 2537.3 L800.4 2537.3 L801.7 2537.3 L803 2537.3 L804.3 2537.3 L805.6 2537.3 L806.9 2537.3 L808.2 2537.3 L809.5 2537.3 L810.8 2537.3 L812.1 2537.3 L813.4 2537.3 L814.7 2537.3 L816 2537.3 L817.3 2537.3 L818.6 2537.3 L819.9 2537.3 L821.2 2537.3 L822.5 2537.3 L823.8 2537.3 L825.1 2537.3 L826.4 2537.3 L827.7 2537.3 L829 2537.3 L830.3 2537.3 L831.6 2537.3 L832.9 2537.3 L834.2 2537.3 L835.5 2537.3 L836.8 2537.3 L838.1 2537.3 L839.4 2537.3 L840.7 2537.3 L842 2537.3 L843.3 2537.3 L844.6 2537.3 L845.9 2537.3 L847.2 2537.3 L848.5 2537.3 L849.8 2537.3 L851.1 2537.3 L852.4 2537.3 L853.7 2537.3 L855 2537.3 L856.3 2537.3 L857.6 2537.3 L858.9 2537.3 L860.2 2537.3 L861.5 2537.3 L862.8 2537.3 L864.1 2537.3 L865.4 2537.3 L866.7 2537.3 L868 2537.3 L869.3 2537.3 L870.6 2537.3 L871.9 2537.3 L873.2 2537.3 L874.5 2537.3 L875.8 2537.3 L877.1 2537.3 L878.5 2537.3 L879.8 2537.3 L881.1 2537.3 L882.4 2537.3 L883.7 2537.3 L885 2537.3 L886.3 2537.3 L887.6 2537.3 L888.9 2537.3 L890.2 2537.3 L891.5 2537.3 L892.8 2537.3 L894.1 2537.3 L895.4 2537.3 L896.7 2537.3 L898 2537.3 L899.3 2537.3 L900.6 2537.3 L901.9 2537.3 L903.2 2537.3 L904.5 2537.3 L905.8 2537.3 L907.1 2537.3 L908.4 2537.3 L909.7 2537.3 L911 2537.3 L912.3 2537.3 L913.6 2537.3 L914.9 2537.3 L916.2 2537.3 L917.5 2537.3 L918.8 2537.3 L920.1 2537.3 L921.4 2537.3 L922.7 2537.3 L924 2537.3 L925.3 2537.3 L926.6 2537.3 L927.9 2537.3 L929.2 2537.3 L930.5 2537.3 L931.8 2537.3 L933.1 2537.3 L934.4 2537.3 L935.7 2537.3 L937 2537.3 L938.3 2537.3 L939.6 2537.3 L940.9 2537.3 L942.2 2537.3 L943.5 2537.3 L944.8 2537.3 L946.1 2537.3 L947.4 2537.3 L948.7 2537.3 L950 2537.3 L951.3 2537.3 L952.6 2537.3 L953.9 2537.3 L955.2 2537.3 L956.5 2537.3 L957.8 2537.3 L959.1 2537.3 L960.4 2537.3 L961.7 2537.3 L963 2537.3 L964.3 2537.3 L965.6 2537.3 L966.9 2537.3 L968.2 2537.3 L969.5 2537.3 L970.8 2537.3 L972.2 2537.3 L973.5 2537.3 L974.8 2537.3 L976.1 2537.3 L977.4 2537.3 L978.7 2537.3 L980 2537.3 L981.3 2537.3 L982.6 2537.3 L983.9 2537.3 L985.2 2537.3 L986.5 2537.3 L987.8 2537.3 L989.1 2537.3 L990.4 2537.3 L991.7 2537.3 L993 2537.3 L994.3 2537.3 L995.6 2537.3 L996.9 2537.3 L998.2 2537.3 L999.5 2537.3 L1000.8 2537.3 L1002.1 2537.3 L1003.4 2537.3 L1004.7 2537.3 L1006 2537.3 L1007.3 2537.3 L1008.6 2537.3 L1009.9 2537.3 L1011.2 2537.3 L1012.5 2537.3 L1013.8 2537.3 L1015.1 2537.3 L1016.4 2537.3 L1017.7 2537.3 L1019 2537.3 L1020.3 2537.3 L1021.6 2537.3 L1022.9 2537.3 L1024.2 2537.3 L1025.5 2537.3 L1026.8 2537.3 L1028.1 2537.3 L1029.4 2537.3 L1030.7 2537.3 L1032 2537.3 L1033.3 2537.3 L1034.6 2537.3 L1035.9 2537.3 L1037.2 2537.3 L1038.5 2537.3 L1039.8 2537.3 L1041.1 2537.3 L1042.4 2537.3 L1043.7 2537.3 L1045 2537.3 L1046.3 2537.3 L1047.6 2537.3 L1048.9 2537.3 L1050.2 2537.3 L1051.5 2537.3 L1052.8 2537.3 L1054.1 2537.3 L1055.4 2537.3 L1056.7 2537.3 L1058 2537.3 L1059.3 2537.3 L1060.6 2537.3 L1061.9 2537.3 L1063.2 2537.3 L1064.5 2537.3 L1065.8 2537.3 L1067.2 2537.3 L1068.5 2537.3 L1069.8 2537.3 L1071.1 2537.3 L1072.4 2537.3 L1073.7 2537.3 L1075 2537.3 L1076.3 2537.3 L1077.6 2537.3 L1078.9 2537.3 L1080.2 2537.3 L1081.5 2537.3 L1082.8 2537.3 L1084.1 2537.3 L1085.4 2537.3 L1086.7 2537.3 L1088 2537.3 L1089.3 2537.3 L1090.6 2537.3 L1091.9 2537.3 L1093.2 2537.3 L1094.5 2537.3 L1095.8 2537.3 L1097.1 2537.3 L1098.4 2537.3 L1099.7 2537.3 L1101 2537.3 L1102.3 2537.3 L1103.6 2537.3 L1104.9 2537.3 L1106.2 2537.3 L1107.5 2537.3 L1108.8 2537.3 L1110.1 2537.3 L1111.4 2537.3 L1112.7 2537.3 L1114 2537.3 L1115.3 2537.3 L1116.6 2537.3 L1117.9 2537.3 L1119.2 2537.3 L1120.5 2537.3 L1121.8 2537.3 L1123.1 2537.3 L1124.4 2537.3 L1125.7 2537.3 L1127 2537.3 L1128.3 2537.3 L1129.6 2537.3 L1130.9 2537.3 L1132.2 2537.3 L1133.5 2537.3 L1134.8 2537.3 L1136.1 2537.3 L1137.4 2537.3 L1138.7 2537.3 L1140 2537.3 L1141.3 2537.3 L1142.6 2537.3 L1143.9 2537.3 L1145.2 2537.3 L1146.5 2537.3 L1147.8 2537.3 L1149.1 2537.3 L1150.4 2537.3 L1151.7 2537.3 L1153 2537.3 L1154.3 2537.3 L1155.6 2537.3 L1156.9 2537.3 L1158.2 2537.3 L1159.5 2537.3 L1160.9 2537.3 L1162.2 2537.3 L1163.5 2537.3 L1164.8 2537.3 L1166.1 2537.3 L1167.4 2537.3 L1168.7 2537.3 L1170 2537.3 L1171.3 2537.3 L1172.6 2537.3 L1173.9 2537.3 L1175.2 2537.3 L1176.5 2537.3 L1177.8 2537.3 L1179.1 2537.3 L1180.4 2537.3 L1181.7 2537.3 L1183 2537.3 L1184.3 2537.3 L1185.6 2537.3 L1186.9 2537.3 L1188.2 2537.3 L1189.5 2537.3 L1190.8 2537.3 L1192.1 2537.3 L1193.4 2537.3 L1194.7 2537.3 L1196 2537.3 L1197.3 2537.3 L1198.6 2537.3 L1199.9 2537.3 L1201.2 2537.3 L1202.5 2537.3 L1203.8 2537.3 L1205.1 2537.3 L1206.4 2537.3 L1207.7 2537.3 L1209 2537.3 L1210.3 2537.3 L1211.6 2537.3 L1212.9 2537.3 L1214.2 2537.3 L1215.5 2537.3 L1216.8 2537.3 L1218.1 2537.3 L1219.4 2537.3 L1220.7 2537.3 L1222 2537.3 L1223.3 2537.3 L1224.6 2537.3 L1225.9 2537.3 L1227.2 2537.3 L1228.5 2537.3 L1229.8 2537.3 L1231.1 2537.3 L1232.4 2537.3 L1233.7 2537.3 L1235 2537.3 L1236.3 2537.3 L1237.6 2537.3 L1238.9 2537.3 L1240.2 2537.3 L1241.5 2537.3 L1242.8 2537.3 L1244.1 2537.3 L1245.4 2537.3 L1246.7 2537.3 L1248 2537.3 L1249.3 2537.3 L1250.6 2537.3 L1251.9 2537.3 L1253.2 2537.3 L1254.5 2537.3 L1255.9 2537.3 L1257.2 2537.3 L1258.5 2537.3 L1259.8 2537.3 L1261.1 2537.3 L1262.4 2537.3 L1263.7 2537.3 L1265 2537.3 L1266.3 2537.3 L1267.6 2537.3 L1268.9 2537.3 L1270.2 2537.3 L1271.5 2537.3 L1272.8 2537.3 L1274.1 2537.3 L1275.4 2537.3 L1276.7 2537.3 L1278 2537.3 L1279.3 2537.3 L1280.6 2537.3 L1281.9 2537.3 L1283.2 2537.3 L1284.5 2537.3 L1285.8 2537.3 L1287.1 2537.3 L1288.4 2537.3 L1289.7 2537.3 L1291 2537.3 L1292.3 2537.3 L1293.6 2537.3 L1294.9 2537.3 L1296.2 2537.3 L1297.5 2537.3 L1298.8 2537.3 L1300.1 2537.3 L1301.4 2537.3 L1302.7 2537.3 L1304 2537.3 L1305.3 2537.3 L1306.6 2537.3 L1307.9 2537.3 L1309.2 2537.3 L1310.5 2537.3 L1311.8 2537.3 L1313.1 2537.3 L1314.4 2537.3 L1315.7 2537.3 L1317 2537.3 L1318.3 2537.3 L1319.6 2537.3 L1320.9 2537.3 L1322.2 2537.3 L1323.5 2537.3 L1324.8 2537.3 L1326.1 2537.3 L1327.4 2537.3 L1328.7 2537.3 L1330 2537.3 L1331.3 2537.3 L1332.6 2537.3 L1333.9 2537.3 L1335.2 2537.3 L1336.5 2537.3 L1337.8 2537.3 L1339.1 2537.3 L1340.4 2537.3 L1341.7 2537.3 L1343 2537.3 L1344.3 2537.3 L1345.6 2537.3 L1346.9 2537.3 L1348.2 2537.3 L1349.6 2537.3 L1350.9 2537.3 L1352.2 2537.3 L1353.5 2537.3 L1354.8 2537.3 L1356.1 2537.3 L1357.4 2537.3 L1358.7 2537.3 L1360 2537.3 L1361.3 2537.3 L1362.6 2537.3 L1363.9 2537.3 L1365.2 2537.3 L1366.5 2537.3 L1367.8 2537.3 L1369.1 2537.3 L1370.4 2537.3 L1371.7 2537.3 L1373 2537.3 L1374.3 2537.3 L1375.6 2537.3 L1376.9 2537.3 L1378.2 2537.3 L1379.5 2537.3 L1380.8 2537.3 L1382.1 2537.3 L1383.4 2537.3 L1384.7 2537.3 L1386 2537.3 L1387.3 2537.3 L1388.6 2537.3 L1389.9 2537.3 L1391.2 2537.3 L1392.5 2537.3 L1393.8 2537.3 L1395.1 2537.3 L1396.4 2537.3 L1397.7 2537.3 L1399 2537.3 L1400.3 2537.3 L1401.6 2537.3 L1402.9 2537.3 L1404.2 2537.3 L1405.5 2537.3 L1406.8 2537.3 L1408.1 2537.3 L1409.4 2537.3 L1410.7 2537.3 L1412 2537.3 L1413.3 2537.3 L1414.6 2537.3 L1415.9 2537.3 L1417.2 2537.3 L1418.5 2537.3 L1419.8 2537.3 L1421.1 2537.3 L1422.4 2537.3 L1423.7 2537.3 L1425 2537.3 L1426.3 2537.3 L1427.6 2537.3 L1428.9 2537.3 L1430.2 2537.3 L1431.5 2537.3 L1432.8 2537.3 L1434.1 2537.3 L1435.4 2537.3 L1436.7 2537.3 L1438 2537.3 L1439.3 2537.3 L1440.6 2537.3 L1441.9 2537.3 L1443.2 2537.3 L1444.6 2537.3 L1445.9 2537.3 L1447.2 2537.3 L1448.5 2537.3 L1449.8 2537.3 L1451.1 2537.3 L1452.4 2537.3 L1453.7 2537.3 L1455 2537.3 L1456.3 2537.3 L1457.6 2537.3 L1458.9 2537.3 L1460.2 2537.3 L1461.5 2537.3 L1462.8 2537.3 L1464.1 2537.3 L1465.4 2537.3 L1466.7 2537.3 L1468 2537.3 L1469.3 2537.3 L1470.6 2537.3 L1471.9 2537.3 L1473.2 2537.3 L1474.5 2537.3 L1475.8 2537.3 L1477.1 2537.3 L1478.4 2537.3 L1479.7 2537.3 L1481 2537.3 L1482.3 2537.3 L1483.6 2537.3 L1484.9 2537.3 L1486.2 2537.3 L1487.5 2537.3 L1488.8 2537.3 L1490.1 2537.3 L1491.4 2537.3 L1492.7 2537.3 L1494 2537.3 L1495.3 2537.3 L1496.6 2537.3 L1497.9 2537.3 L1499.2 2537.3 L1500.5 2537.3 L1501.8 2537.3 L1503.1 2537.3 L1504.4 2537.3 L1505.7 2537.3 L1507 2537.3 L1508.3 2537.3 L1509.6 2537.3 L1510.9 2537.3 L1512.2 2537.3 L1513.5 2537.3 L1514.8 2537.3 L1516.1 2537.3 L1517.4 2537.3 L1518.7 2537.3 L1520 2537.3 L1521.3 2537.3 L1522.6 2537.3 L1523.9 2537.3 L1525.2 2537.3 L1526.5 2537.3 L1527.8 2537.3 L1529.1 2537.3 L1530.4 2537.3 L1531.7 2537.3 L1533 2537.3 L1534.3 2537.3 L1535.6 2537.3 L1536.9 2537.3 L1538.2 2537.3 L1539.6 2537.3 L1540.9 2537.3 L1542.2 2537.3 L1543.5 2537.3 L1544.8 2537.3 L1546.1 2537.3 L1547.4 2537.3 L1548.7 2537.3 L1550 2537.3 L1551.3 2537.3 L1552.6 2537.3 L1553.9 2537.3 L1555.2 2537.3 L1556.5 2537.3 L1557.8 2537.3 L1559.1 2537.3 L1560.4 2537.3 L1561.7 2537.3 L1563 2537.3 L1564.3 2537.3 L1565.6 2537.3 L1566.9 2537.3 L1568.2 2537.3 L1569.5 2537.3 L1570.8 2537.3 L1572.1 2537.3 L1573.4 2537.3 L1574.7 2537.3 L1576 2537.3 L1577.3 2537.3 L1578.6 2537.3 L1579.9 2537.3 L1581.2 2537.3 L1582.5 2537.3 L1583.8 2537.3 L1585.1 2537.3 L1586.4 2537.3 L1587.7 2537.3 L1589 2537.3 L1590.3 2537.3 L1591.6 2537.3 L1592.9 2537.3 L1594.2 2537.3 L1595.5 2537.3 L1596.8 2537.3 L1598.1 2537.3 L1599.4 2537.3 L1600.7 2537.3 L1602 2537.3 L1603.3 2537.3 L1604.6 2537.3 L1605.9 2537.3 L1607.2 2537.3 L1608.5 2537.3 L1609.8 2537.3 L1611.1 2537.3 L1612.4 2537.3 L1613.7 2537.3 L1615 2537.3 L1616.3 2537.3 L1617.6 2537.3 L1618.9 2537.3 L1620.2 2537.3 L1621.5 2537.3 L1622.8 2537.3 L1624.1 2537.3 L1625.4 2537.3 L1626.7 2537.3 L1628 2537.3 L1629.3 2537.3 L1630.6 2537.3 L1631.9 2537.3 L1633.3 2537.3 L1634.6 2537.3 L1635.9 2537.3 L1637.2 2537.3 L1638.5 2537.3 L1639.8 2537.3 L1641.1 2537.3 L1642.4 2537.3 L1643.7 2537.3 L1645 2537.3 L1646.3 2537.3 L1647.6 2537.3 L1648.9 2537.3 L1650.2 2537.3 L1651.5 2537.3 L1652.8 2537.3 L1654.1 2537.3 L1655.4 2537.3 L1656.7 2537.3 L1658 2537.3 L1659.3 2537.3 L1660.6 2537.3 L1661.9 2537.3 L1663.2 2537.3 L1664.5 2537.3 L1665.8 2537.3 L1667.1 2537.3 L1668.4 2537.3 L1669.7 2537.3 L1671 2537.3 L1672.3 2537.3 L1673.6 2537.3 L1674.9 2537.3 L1676.2 2537.3 L1677.5 2537.3 L1678.8 2537.3 L1680.1 2537.3" fill="none" stroke="#ff0000" stroke-width="4.1" stroke-linejoin="round" stroke-linecap="butt" clip-path="url(#pbL)"/>
<polygon points="327.6,2539 327.6,2480 329,2480 329,2077 330.3,2077 330.3,1735 338.8,1735 338.8,2539" fill="#ff0000" clip-path="url(#pbL)"/>
<path d="M335.4 1428 L335.6 1545 L336 1723.3" fill="none" stroke="#ff0000" stroke-width="4.6" stroke-linejoin="miter" stroke-linecap="butt" clip-path="url(#pbU)"/>
<path d="M241.5 2537.3 L242.8 2537.3 L244.1 2537.3 L245.4 2537.3 L246.7 2537.3 L248 2537.3 L249.3 2537.3 L250.6 2537.3 L251.9 2537.3 L253.2 2537.3 L254.5 2537.3 L255.8 2537.3 L257.1 2537.3 L258.4 2537.3 L259.7 2537.3 L261 2537.3 L262.3 2537.3 L263.6 2537.3 L265 2537.3 L266.3 2537.3 L267.6 2537.3 L268.9 2537.3 L270.2 2537.3 L271.5 2537.3 L272.8 2537.3 L274.1 2537.3 L275.4 2537.3 L276.7 2537.3 L278 2537.3 L279.3 2537.3 L280.6 2537.3 L281.9 2537.3 L283.2 2537.3 L284.5 2537.3 L285.8 2537.3 L287.1 2537.3 L288.4 2537.3 L289.7 2537.3 L291 2537.3 L292.3 2537.3 L293.6 2537.3 L294.9 2537.3 L296.2 2537.3 L297.5 2537.3 L298.8 2537.3 L300.1 2537.3 L301.4 2537.3 L302.7 2537.3 L304 2537.3 L305.3 2537.3 L306.6 2537.3 L307.9 2537.3 L309.2 2537.3 L310.5 2537.3 L311.9 2537.3 L313.2 2537.3 L314.5 2537.3 L315.8 2537.3 L317.1 2537.3 L318.4 2537.3 L319.7 2537.3 L321 2537.3 L322.3 2537.3 L323.6 2537.3 L324.9 2537.3 L326.2 2537.3 L327.5 2537.3 L328.8 2537.3 L330.1 2537.3 L331.4 2537.3 L332.7 2537.3 L334 2537.3 L335.3 2537.3 L336.6 2537.3 L337.9 2537.3 L339.2 2537.3 L340.5 2537.3 L341.8 2537.3 L343.1 2537.3 L344.4 2537.3 L345.7 2537.3 L347 2537.3 L348.3 2537.3 L349.6 2537.3 L350.9 2537.3 L352.2 2537.3 L353.5 2537.3 L354.8 2537.3 L356.1 2537.3 L357.4 2537.3 L358.8 2537.3 L360.1 2537.3 L361.4 2537.3 L362.7 2537.3 L364 2537.3 L365.3 2537.3 L366.6 2537.3 L367.9 2537.3 L369.2 2537.3 L370.5 2537.3 L371.8 2537.3 L373.1 2537.3 L374.4 2537.3 L375.7 2537.3 L377.2 2537.3 L378.7 2537.3 L380.2 2536.3 L381.7 2534.7 L383.3 2534.3 L384.8 2533.3 L386.3 2530.7 L387.8 2530.4 L389.4 2529.4 L390.9 2528.1 L392.4 2526.7 L394 2528 L395.5 2525.4 L397 2525 L398.5 2525.7 L399.8 2525 L401.1 2525.6 L402.5 2524.9 L403.8 2526.3 L405.1 2523.5 L406.4 2526.4 L407.7 2524.7 L409 2524.1 L410.3 2523.3 L411.6 2524.6 L412.9 2525.9 L414.2 2523.6 L415.5 2526.3 L416.8 2524.7 L418.2 2524 L419.5 2525.2 L420.8 2522.9 L422.1 2523.8 L423.4 2524.2 L424.7 2521.9 L426 2521.3 L427.3 2519.7 L428.6 2521.9 L429.9 2522.5 L431.2 2522.1 L432.5 2522.6 L433.9 2521.4 L435.2 2523.7 L436.5 2525 L437.8 2524.4 L439.1 2523.6 L440.4 2524.4 L441.7 2524.4 L443 2526.4 L444.3 2525.7 L445.6 2524.4 L446.9 2526 L448.2 2524.6 L449.6 2524.7 L450.9 2522.4 L452.2 2524.4 L453.5 2523 L455 2520.1 L456.5 2519 L458.1 2520.3 L459.6 2524.7 L460.9 2525.3 L462.2 2524.9 L463.5 2526.8 L464.8 2525.9 L466.1 2526.8 L467.4 2527.4 L468.7 2528.1 L470.1 2527.3 L471.4 2529.2 L472.7 2527.9 L474 2528 L475.3 2528.8 L476.6 2527.7 L477.9 2529.1 L479.2 2529.9 L480.5 2528.1 L481.8 2528.7 L483.1 2530.3 L484.4 2528.9 L485.7 2530.1 L487.1 2529.1 L488.4 2528.5 L489.7 2528.6 L491 2529.5 L492.3 2528.4 L493.6 2526.7 L494.9 2528.5 L496.2 2527 L497.5 2527.2 L498.8 2527.8 L500.1 2526.9 L501.4 2527.8 L502.8 2527.8 L504.1 2528.1 L505.4 2529.7 L506.7 2530.4 L508.1 2530.7 L509.4 2531.1 L510.8 2531.6 L512.2 2529.9 L513.5 2530.2 L514.9 2531.7 L516.2 2530.5 L517.6 2531.2 L518.9 2532 L520.3 2531.3 L521.7 2530.5 L523 2532.3 L524.4 2532.6 L525.7 2531.4 L527.1 2531.2 L528.4 2531.6 L529.8 2532.1 L531.2 2533.3 L532.5 2532.2 L533.9 2532.1 L535.2 2531.8 L536.6 2532 L537.9 2531.9 L539.3 2533.4 L540.7 2532.8 L542 2532.7 L543.4 2533.3 L544.7 2532.2 L546.1 2533.5 L547.4 2533.5 L548.8 2533.3 L550.1 2533.1 L551.5 2532.4 L552.9 2533.2 L554.2 2533.4 L555.7 2533.6 L557.3 2531.7 L558.8 2532.2 L560.3 2531.8 L561.9 2531.2 L563.4 2531.9 L564.9 2534.8 L566.4 2535.8 L567.8 2535.9 L569.1 2535.9 L570.5 2536 L571.9 2536.1 L573.2 2536.1 L574.6 2536.2 L575.9 2536.3 L577.3 2536.3 L578.6 2536.4 L580.2 2535.8 L581.7 2535.2 L583.2 2535 L584.7 2536.2 L586.3 2536.8 L587.8 2537.3 L589.1 2537.3 L590.4 2537.3 L591.7 2537.3 L593 2537.3 L594.3 2537.3 L595.6 2537.3 L597 2537.3 L598.3 2537.3 L599.6 2537.3 L600.9 2537.3 L602.2 2537.3 L603.5 2537.3 L604.8 2537.3 L606.1 2537.3 L607.4 2537.3 L608.7 2537.3 L610 2537.3 L611.3 2537.3 L612.6 2537.3 L613.9 2537.3 L615.2 2537.3 L616.5 2537.3 L617.8 2537.3 L619.1 2537.3 L620.4 2537.3 L621.7 2537.3 L623 2537.3 L624.3 2537.3 L625.6 2537.3 L626.9 2537.3 L628.2 2537.3 L629.5 2537.3 L630.8 2537.3 L632.1 2537.3 L633.4 2537.3 L634.7 2537.3 L636 2537.3 L637.3 2537.3 L638.6 2537.3 L639.9 2537.3 L641.2 2537.3 L642.5 2537.3 L643.9 2537.3 L645.2 2537.3 L646.5 2537.3 L647.8 2537.3 L649.1 2537.3 L650.4 2537.3 L651.7 2537.3 L653 2537.3 L654.3 2537.3 L655.6 2537.3 L656.9 2537.3 L658.2 2537.3 L659.5 2537.3 L660.8 2537.3 L662.1 2537.3 L663.4 2537.3 L664.7 2537.3 L666 2537.3 L667.3 2537.3 L668.6 2537.3 L669.9 2537.3 L671.2 2537.3 L672.5 2537.3 L673.8 2537.3 L675.1 2537.3 L676.4 2537.3 L677.7 2537.3 L679 2537.3 L680.3 2537.3 L681.6 2537.3 L682.9 2537.3 L684.2 2537.3 L685.5 2537.3 L686.8 2537.3 L688.1 2537.3 L689.4 2537.3 L690.7 2537.3 L692 2537.3 L693.3 2537.3 L694.7 2537.3 L696 2537.3 L697.3 2537.3 L698.6 2537.3 L699.9 2537.3 L701.2 2537.3 L702.5 2537.3 L703.8 2537.3 L705.1 2537.3 L706.4 2537.3 L707.7 2537.3 L709 2537.3 L710.3 2537.3 L711.6 2537.3 L712.9 2537.3 L714.2 2537.3 L715.5 2537.3 L716.8 2537.3 L718.1 2537.3 L719.4 2537.3 L720.7 2537.3 L722 2537.3 L723.3 2537.3 L724.6 2537.3 L725.9 2537.3 L727.2 2537.3 L728.5 2537.3 L729.8 2537.3 L731.1 2537.3 L732.4 2537.3 L733.7 2537.3 L735 2537.3 L736.3 2537.3 L737.6 2537.3 L738.9 2537.3 L740.2 2537.3 L741.5 2537.3 L742.8 2537.3 L744.2 2537.3 L745.5 2537.3 L746.8 2537.3 L748.1 2537.3 L749.4 2537.3 L750.7 2537.3 L752 2537.3 L753.3 2537.3 L754.6 2537.3 L755.9 2537.3 L757.2 2537.3 L758.5 2537.3 L759.8 2537.3 L761.1 2537.3 L762.4 2537.3 L763.7 2537.3 L765 2537.3 L766.3 2537.3 L767.6 2537.3 L768.9 2537.3 L770.2 2537.3 L771.5 2537.3 L772.8 2537.3 L774.1 2537.3 L775.4 2537.3 L776.7 2537.3 L778 2537.3 L779.3 2537.3 L780.6 2537.3 L781.9 2537.3 L783.2 2537.3 L784.5 2537.3 L785.8 2537.3 L787.1 2537.3 L788.4 2537.3 L789.7 2537.3 L791 2537.3 L792.3 2537.3 L793.7 2537.3 L795 2537.3 L796.3 2537.3 L797.6 2537.3 L798.9 2537.3 L800.2 2537.3 L801.5 2537.3 L802.8 2537.3 L804.1 2537.3 L805.4 2537.3 L806.7 2537.3 L808 2537.3 L809.3 2537.3 L810.6 2537.3 L811.9 2537.3 L813.2 2537.3 L814.5 2537.3 L815.8 2537.3 L817.1 2537.3 L818.4 2537.3 L819.7 2537.3 L821 2537.3 L822.3 2537.3 L823.6 2537.3 L824.9 2537.3 L826.2 2537.3 L827.5 2537.3 L828.8 2537.3 L830.1 2537.3 L831.4 2537.3 L832.7 2537.3 L834 2537.3 L835.3 2537.3 L836.6 2537.3 L837.9 2537.3 L839.2 2537.3 L840.5 2537.3 L841.8 2537.3 L843.2 2537.3 L844.5 2537.3 L845.8 2537.3 L847.1 2537.3 L848.4 2537.3 L849.7 2537.3 L851 2537.3 L852.3 2537.3 L853.6 2537.3 L854.9 2537.3 L856.2 2537.3 L857.5 2537.3 L858.8 2537.3 L860.1 2537.3 L861.4 2537.3 L862.7 2537.3 L864 2537.3 L865.3 2537.3 L866.6 2537.3 L867.9 2537.3 L869.2 2537.3 L870.5 2537.3 L871.8 2537.3 L873.1 2537.3 L874.4 2537.3 L875.7 2537.3 L877 2537.3 L878.3 2537.3 L879.6 2537.3 L880.9 2537.3 L882.2 2537.3 L883.5 2537.3 L884.8 2537.3 L886.1 2537.3 L887.4 2537.3 L888.7 2537.3 L890 2537.3 L891.3 2537.3 L892.6 2537.3 L894 2537.3 L895.3 2537.3 L896.6 2537.3 L897.9 2537.3 L899.2 2537.3 L900.5 2537.3 L901.8 2537.3 L903.1 2537.3 L904.4 2537.3 L905.7 2537.3 L907 2537.3 L908.3 2537.3 L909.6 2537.3 L910.9 2537.3 L912.2 2537.3 L913.5 2537.3 L914.8 2537.3 L916.1 2537.3 L917.4 2537.3 L918.7 2537.3 L920 2537.3 L921.3 2537.3 L922.6 2537.3 L923.9 2537.3 L925.2 2537.3 L926.5 2537.3 L927.8 2537.3 L929.1 2537.3 L930.4 2537.3 L931.7 2537.3 L933 2537.3 L934.3 2537.3 L935.6 2537.3 L936.9 2537.3 L938.2 2537.3 L939.5 2537.3 L940.8 2537.3 L942.1 2537.3 L943.5 2537.3 L944.8 2537.3 L946.1 2537.3 L947.4 2537.3 L948.7 2537.3 L950 2537.3 L951.3 2537.3 L952.6 2537.3 L953.9 2537.3 L955.2 2537.3 L956.5 2537.3 L957.8 2537.3 L959.1 2537.3 L960.4 2537.3 L961.7 2537.3 L963 2537.3 L964.3 2537.3 L965.6 2537.3 L966.9 2537.3 L968.2 2537.3 L969.5 2537.3 L970.8 2537.3 L972.1 2537.3 L973.4 2537.3 L974.7 2537.3 L976 2537.3 L977.3 2537.3 L978.6 2537.3 L979.9 2537.3 L981.2 2537.3 L982.5 2537.3 L983.8 2537.3 L985.1 2537.3 L986.4 2537.3 L987.7 2537.3 L989 2537.3 L990.3 2537.3 L991.6 2537.3 L993 2537.3 L994.3 2537.3 L995.6 2537.3 L996.9 2537.3 L998.2 2537.3 L999.5 2537.3 L1000.8 2537.3 L1002.1 2537.3 L1003.4 2537.3 L1004.7 2537.3 L1006 2537.3 L1007.3 2537.3 L1008.6 2537.3 L1009.9 2537.3 L1011.2 2537.3 L1012.5 2537.3 L1013.8 2537.3 L1015.1 2537.3 L1016.4 2537.3 L1017.7 2537.3 L1019 2537.3 L1020.3 2537.3 L1021.6 2537.3 L1022.9 2537.3 L1024.2 2537.3 L1025.5 2537.3 L1026.8 2537.3 L1028.1 2537.3 L1029.4 2537.3 L1030.7 2537.3 L1032 2537.3 L1033.3 2537.3 L1034.6 2537.3 L1035.9 2537.3 L1037.2 2537.3 L1038.5 2537.3 L1039.8 2537.3 L1041.1 2537.3 L1042.5 2537.3 L1043.8 2537.3 L1045.1 2537.3 L1046.4 2537.3 L1047.7 2537.3 L1049 2537.3 L1050.3 2537.3 L1051.6 2537.3 L1052.9 2537.3 L1054.2 2537.3 L1055.5 2537.3 L1056.8 2537.3 L1058.1 2537.3 L1059.4 2537.3 L1060.7 2537.3 L1062 2537.3 L1063.3 2537.3 L1064.6 2537.3 L1065.9 2537.3 L1067.2 2537.3 L1068.5 2537.3 L1069.8 2537.3 L1071.1 2537.3 L1072.4 2537.3 L1073.7 2537.3 L1075 2537.3 L1076.3 2537.3 L1077.6 2537.3 L1078.9 2537.3 L1080.2 2537.3 L1081.5 2537.3 L1082.8 2537.3 L1084.1 2537.3 L1085.4 2537.3 L1086.7 2537.3 L1088 2537.3 L1089.3 2537.3 L1090.6 2537.3 L1091.9 2537.3 L1093.3 2537.3 L1094.6 2537.3 L1095.9 2537.3 L1097.2 2537.3 L1098.5 2537.3 L1099.8 2537.3 L1101.1 2537.3 L1102.4 2537.3 L1103.7 2537.3 L1105 2537.3 L1106.3 2537.3 L1107.6 2537.3 L1108.9 2537.3 L1110.2 2537.3 L1111.5 2537.3 L1112.8 2537.3 L1114.1 2537.3 L1115.4 2537.3 L1116.7 2537.3 L1118 2537.3 L1119.3 2537.3 L1120.6 2537.3 L1121.9 2537.3 L1123.2 2537.3 L1124.5 2537.3 L1125.8 2537.3 L1127.1 2537.3 L1128.4 2537.3 L1129.7 2537.3 L1131 2537.3 L1132.3 2537.3 L1133.6 2537.3 L1134.9 2537.3 L1136.2 2537.3 L1137.5 2537.3 L1138.8 2537.3 L1140.1 2537.3 L1141.4 2537.3 L1142.8 2537.3 L1144.1 2537.3 L1145.4 2537.3 L1146.7 2537.3 L1148 2537.3 L1149.3 2537.3 L1150.6 2537.3 L1151.9 2537.3 L1153.2 2537.3 L1154.5 2537.3 L1155.8 2537.3 L1157.1 2537.3 L1158.4 2537.3 L1159.7 2537.3 L1161 2537.3 L1162.3 2537.3 L1163.6 2537.3 L1164.9 2537.3 L1166.2 2537.3 L1167.5 2537.3 L1168.8 2537.3 L1170.1 2537.3 L1171.4 2537.3 L1172.7 2537.3 L1174 2537.3 L1175.3 2537.3 L1176.6 2537.3 L1177.9 2537.3 L1179.2 2537.3 L1180.5 2537.3 L1181.9 2536.8 L1183.3 2536.3 L1184.7 2536.4 L1186.1 2535.3 L1187.5 2532.7 L1188.9 2532.5 L1190.2 2529.4 L1191.6 2528.2 L1193 2522.5 L1194.4 2518.2 L1195.8 2513 L1197.2 2502.4 L1198.6 2493 L1200 2418.1 L1200.8 2243.3 L1201.6 1885.5 L1203.3 1840.9 L1204.9 1803.7 L1206.6 1796.7 L1207.7 1798.1 L1208.3 2068.7 L1208.8 2160 L1209.7 2409.8 L1210.5 2490.2 L1211.6 2465.3 L1212.7 2354.3 L1213.3 2138.1 L1214.4 2021.5 L1216.6 1993.8 L1218 2085.3 L1218.8 2187.8 L1219.9 2160 L1221.6 2210 L1222.7 2160.3 L1224.4 2215.5 L1225.5 2326.5 L1227.7 2409.8 L1229.9 2456.9 L1231.3 2382 L1232.7 2146.4 L1233.8 2077 L1235.5 2027.1 L1236.9 2013.3 L1238.3 1987.7 L1239.4 2031.2 L1240.5 2187.8 L1241.6 2321 L1243.2 2271 L1244.9 2229.4 L1247.1 2243.3 L1249.4 2271 L1250.5 2229.4 L1252.1 2207.2 L1253.2 2237.7 L1254.9 2287.7 L1256.6 2287 L1258.2 2296 L1259.6 2326.5 L1261 2354.3 L1262.4 2395.9 L1263.8 2396.1 L1265.2 2404.2 L1266.6 2419.9 L1267.9 2418.1 L1269.3 2423.1 L1270.7 2439.8 L1272.1 2448.6 L1273.5 2424.1 L1274.9 2409.8 L1276.3 2397.8 L1277.7 2390.3 L1279.9 2409.8 L1281.3 2439.8 L1282.7 2459.7 L1284 2461.8 L1285.4 2470.8 L1287.1 2434.3 L1288.8 2401.4 L1290.4 2419.2 L1292.1 2451.4 L1294.3 2476.4 L1295.7 2468.9 L1297.1 2451.4 L1298.5 2439.3 L1299.9 2418.1 L1301.2 2449.3 L1302.6 2465.3 L1304.9 2407 L1306.8 2437.5 L1308.2 2439.4 L1309.6 2432 L1311 2446.8 L1312.3 2443.1 L1314.2 2425.1 L1316 2412.5 L1317.3 2425.2 L1318.7 2443.1 L1320.4 2446.7 L1322.1 2454.2 L1323.7 2449.7 L1325.4 2459.7 L1326.8 2460.6 L1328.2 2468 L1329.6 2452.2 L1330.9 2443.1 L1332.7 2464.1 L1334.6 2473.6 L1335.9 2469.7 L1337.3 2468.7 L1338.7 2470.8 L1340.1 2455.2 L1341.5 2447.7 L1342.9 2447.2 L1344.3 2445.9 L1345.7 2459.7 L1347 2455.4 L1348.4 2465.3 L1349.8 2470.6 L1351.2 2483.3 L1352.6 2481.9 L1354 2470.9 L1355.4 2473.6 L1356.8 2465 L1358.1 2468 L1359.5 2460.1 L1360.9 2443.1 L1362.3 2437.7 L1363.7 2435.1 L1365.1 2437.5 L1366.5 2439.1 L1367.9 2452 L1369.2 2451.4 L1370.6 2451.5 L1372 2460.1 L1373.4 2468 L1374.8 2474.2 L1376.2 2477.5 L1377.6 2479.1 L1379 2485.8 L1380.3 2493 L1381.7 2493.1 L1383.1 2481.9 L1384.5 2487.9 L1385.9 2493 L1388.1 2516 L1389.8 2508.3 L1391.4 2506.9 L1392.8 2511.3 L1394.2 2509 L1395.6 2511.4 L1397 2511.4 L1398.4 2516.2 L1399.8 2516 L1401.2 2512.4 L1402.5 2508.4 L1403.9 2506.8 L1405.3 2514.5 L1406.7 2513 L1408.1 2510.4 L1409.5 2509.9 L1411.3 2520 L1413.1 2525.2 L1414.8 2522.3 L1416.4 2522.1 L1417.8 2523 L1419.2 2526 L1420.6 2524.9 L1422 2526.7 L1423.4 2526.9 L1424.7 2529.9 L1426.1 2530.9 L1427.5 2531.1 L1428.9 2530.2 L1430.3 2532.1 L1431.7 2532.2 L1433.1 2531.1 L1434.5 2530.9 L1435.8 2531.2 L1437.2 2531.2 L1438.6 2531 L1440 2530.5 L1441.4 2530.9 L1442.9 2530.4 L1444.3 2531.6 L1445.7 2532 L1447.1 2533.2 L1448.6 2534.1 L1450 2533.9 L1452.5 2533.1 L1454.1 2531.5 L1455.8 2529.3 L1457.5 2526.6 L1459.1 2526.7 L1460.8 2528.4 L1462.5 2529.8 L1464.1 2529.6 L1465.8 2529 L1467.5 2528 L1469.1 2529.5 L1470.8 2529.5 L1472.5 2529.3 L1474 2530.8 L1475.6 2530.2 L1477.1 2531.9 L1478.7 2533.1 L1480.2 2532.9 L1481.6 2533.7 L1483.1 2534.7 L1484.5 2533.5 L1486 2534.5 L1487.4 2534.3 L1488.8 2534 L1490.1 2533.9 L1491.5 2535.3 L1492.8 2535.5 L1494.2 2535.3 L1495.5 2535.5 L1496.9 2535.3 L1498.2 2535.3 L1499.6 2534.6 L1500.9 2535.6 L1502.2 2534.6 L1503.6 2535 L1504.9 2535.6 L1506.2 2534.9 L1507.6 2536.4 L1508.9 2535.6 L1510.2 2535.1 L1511.5 2535.7 L1512.8 2535.5 L1514.1 2535.8 L1515.4 2535.9 L1516.8 2535.9 L1518.1 2535.9 L1519.4 2536 L1520.7 2536 L1522 2536 L1523.3 2536 L1524.6 2536.1 L1526 2536.1 L1527.3 2536.1 L1528.6 2536.2 L1529.9 2536.2 L1531.2 2536.2 L1532.5 2536.3 L1533.9 2536.3 L1535.2 2536.3 L1536.5 2536.4 L1537.8 2536.4 L1539.1 2536.4 L1540.4 2536.5 L1541.7 2536.5 L1543.1 2536.5 L1544.4 2536.6 L1545.7 2536.6 L1547 2536.6 L1548.3 2536.7 L1549.6 2536.7 L1550.9 2536.7 L1552.3 2536.8 L1553.6 2536.8 L1554.9 2536.8 L1556.2 2536.8 L1557.5 2536.7 L1558.8 2536.7 L1560.1 2536.6 L1561.5 2536.6 L1562.8 2536.5 L1564.1 2536.5 L1565.4 2536.4 L1566.7 2536.4 L1568 2536.3 L1569.3 2536.3 L1570.7 2536.2 L1572 2536.2 L1573.3 2536.1 L1574.6 2536 L1575.9 2536 L1577.2 2535.9 L1578.5 2535.9 L1579.9 2535.8 L1581.2 2535.7 L1582.5 2536.3 L1583.8 2536.1 L1585.1 2536.3 L1586.4 2536.1 L1587.7 2535.3 L1589.1 2535.5 L1590.4 2534.8 L1591.7 2535.9 L1593 2534.8 L1594.3 2535.7 L1595.6 2535.8 L1597 2535 L1598.3 2534.9 L1599.6 2534.3 L1600.9 2534.8 L1602.2 2534.4 L1603.5 2534.4 L1604.8 2534.8 L1606.2 2534.2 L1607.5 2535.2 L1608.8 2535.5 L1610.1 2534.9 L1611.4 2535 L1612.8 2535.2 L1614.1 2535.1 L1615.4 2534.6 L1616.7 2535.1 L1618.1 2534.7 L1619.4 2535.6 L1620.7 2535 L1622 2535.5 L1623.4 2534.7 L1624.7 2536 L1626 2535.5 L1627.3 2535.3 L1628.6 2535.1 L1630 2534.9 L1631.3 2535.7 L1632.6 2535.7 L1633.9 2536.3 L1635.3 2535.5 L1636.6 2536.4 L1637.9 2535.7 L1639.2 2536.4 L1640.5 2535.8 L1641.9 2535.9 L1643.2 2535.9 L1644.5 2535.9 L1645.8 2536 L1647.2 2536 L1648.5 2536.1 L1649.8 2536.1 L1651.7 2534.3 L1653.5 2532.3 L1655.2 2533.1 L1656.9 2535.4 L1658.5 2536.8 L1659.9 2536.9 L1661.2 2536.9 L1662.5 2536.9 L1663.8 2536.9 L1665.1 2537 L1666.5 2537 L1667.8 2537 L1669.1 2537.1 L1670.4 2537.1 L1671.8 2537.1 L1673.1 2537.1 L1674.4 2537.2 L1675.7 2537.2 L1677.1 2537.2 L1678.4 2537.2 L1679.7 2537.3 L1681 2537.3 L1680.1 2537.3" fill="none" stroke="#0000ff" stroke-width="4.1" stroke-linejoin="round" stroke-linecap="butt" clip-path="url(#pbL)"/>
<path d="M241.5 2537.3 L242.8 2537.3 L244.1 2537.3 L245.4 2537.3 L246.7 2537.3 L248 2537.3 L249.3 2537.3 L250.6 2537.3 L251.9 2537.3 L253.2 2537.3 L254.5 2537.3 L255.8 2537.3 L257.1 2537.3 L258.4 2537.3 L259.7 2537.3 L261 2537.3 L262.3 2537.3 L263.6 2537.3 L265 2537.3 L266.3 2537.3 L267.6 2537.3 L268.9 2537.3 L270.2 2537.3 L271.5 2537.3 L272.8 2537.3 L274.1 2537.3 L275.4 2537.3 L276.7 2537.3 L278 2537.3 L279.3 2537.3 L280.6 2537.3 L281.9 2537.3 L283.2 2537.3 L284.5 2537.3 L285.8 2537.3 L287.1 2537.3 L288.4 2537.3 L289.7 2537.3 L291 2537.3 L292.3 2537.3 L293.6 2537.3 L294.9 2537.3 L296.2 2537.3 L297.5 2537.3 L298.8 2537.3 L300.1 2537.3 L301.4 2537.3 L302.7 2537.3 L304 2537.3 L305.3 2537.3 L306.6 2537.3 L307.9 2537.3 L309.2 2537.3 L310.5 2537.3 L311.9 2537.3 L313.2 2537.3 L314.5 2537.3 L315.8 2537.3 L317.1 2537.3 L318.4 2537.3 L319.7 2537.3 L321 2537.3 L322.3 2537.3 L323.6 2537.3 L324.9 2537.3 L326.2 2537.3 L327.5 2537.3 L328.8 2537.3 L330.1 2537.3 L331.4 2537.3 L332.7 2537.3 L334 2537.3 L335.3 2537.3 L336.6 2537.3 L337.9 2537.3 L339.2 2537.3 L340.5 2537.3 L341.8 2537.3 L343.1 2537.3 L344.4 2537.3 L345.7 2537.3 L347 2537.3 L348.3 2537.3 L349.6 2537.3 L350.9 2537.3 L352.2 2537.3 L353.5 2537.3 L354.8 2537.3 L356.1 2537.3 L357.4 2537.3 L358.8 2537.3 L360.1 2537.3 L361.4 2537.3 L362.7 2537.3 L364 2537.3 L365.3 2537.3 L366.6 2537.3 L367.9 2537.3 L369.2 2537.3 L370.5 2537.3 L371.8 2537.3 L373.1 2537.3 L374.4 2537.3 L375.7 2537.3 L377.2 2537.3 L378.7 2537.3 L380.2 2536.3 L381.7 2535.4 L383.3 2534.3 L384.8 2532.3 L386.3 2531.9 L387.8 2530.4 L389.4 2530.3 L390.7 2531.4 L392 2530.1 L393.3 2530.1 L394.6 2529.9 L395.9 2529.8 L397.2 2528.2 L398.5 2529.1 L399.8 2529.8 L401.1 2530.2 L402.5 2528 L403.8 2530.5 L405.1 2529.3 L406.4 2529.1 L407.7 2529.7 L409 2530.2 L410.3 2530.9 L411.6 2531.8 L412.9 2530.1 L414.2 2531.2 L415.5 2531.4 L416.8 2532.1 L418.2 2531.7 L419.6 2532 L421 2531.9 L422.4 2531.6 L423.8 2532 L425.2 2532.6 L426.6 2532.3 L427.9 2532.1 L429.3 2533.4 L430.7 2532.2 L432.1 2532.7 L433.5 2532.1 L434.8 2532.3 L436.2 2533.6 L437.5 2532.5 L438.9 2533.6 L440.2 2533.1 L441.6 2533.9 L443 2533.5 L444.3 2534.3 L445.7 2535 L447 2534.4 L448.4 2534.1 L449.7 2534.1 L451.1 2534.1 L452.5 2532.9 L453.8 2534.1 L455.2 2533.5 L456.5 2533.4 L457.9 2534.1 L459.2 2533.7 L460.6 2534 L462 2534.3 L463.3 2533.5 L464.7 2533.6 L466 2533.4 L467.4 2534.6 L468.7 2534.3 L470.1 2533.6 L471.5 2533.6 L472.8 2533.7 L474.2 2534.3 L475.5 2533.6 L476.9 2534.6 L478.2 2533.7 L479.6 2533.1 L481 2533.4 L482.3 2532.6 L483.7 2532.2 L485 2532.6 L486.4 2533.3 L487.7 2532.8 L489.1 2532.8 L490.5 2533 L491.8 2532.6 L493.2 2532.7 L494.5 2532.2 L495.9 2532.1 L497.2 2532.9 L498.6 2532.9 L499.9 2534 L501.3 2533.2 L502.7 2534.3 L504 2534.1 L505.4 2534.3 L506.7 2534.8 L508 2534.2 L509.3 2534.5 L510.6 2534.9 L511.9 2534.5 L513.2 2533.9 L514.5 2534.6 L515.8 2534.9 L517.1 2534.6 L518.5 2534.9 L519.8 2535.8 L521.1 2534.3 L522.4 2534.6 L523.7 2535.2 L525 2535 L526.3 2535.7 L527.6 2534.7 L528.9 2535 L530.2 2535.8 L531.5 2535.5 L532.8 2536.1 L534.2 2535.2 L535.5 2535 L536.8 2534.9 L538.1 2535.4 L539.4 2535.4 L540.7 2536.4 L542 2535.8 L543.3 2535.8 L544.6 2535.9 L545.9 2535.9 L547.2 2536 L548.5 2536 L549.9 2536.1 L551.2 2536.1 L552.5 2536.2 L553.8 2536.2 L555.1 2536.2 L556.4 2536.3 L557.7 2536.3 L559 2536.4 L560.3 2536.4 L561.7 2536.5 L563 2536.5 L564.4 2536.6 L565.8 2536.6 L567.1 2536.7 L568.5 2536.7 L569.8 2536.8 L571.2 2536.8 L572.5 2536.9 L573.9 2536.9 L575.2 2537 L576.6 2537 L578 2537.1 L579.3 2537.1 L580.7 2537.2 L582 2537.2 L583.4 2537.3 L584.7 2537.3 L586.1 2537.3 L587.5 2537.3 L588.8 2537.3 L590.2 2537.3 L591.5 2537.3 L592.9 2537.3 L594.2 2537.3 L595.6 2537.3 L597 2537.3 L598.3 2537.3 L599.6 2537.3 L600.9 2537.3 L602.2 2537.3 L603.5 2537.3 L604.8 2537.3 L606.1 2537.3 L607.4 2537.3 L608.7 2537.3 L610 2537.3 L611.3 2537.3 L612.6 2537.3 L613.9 2537.3 L615.2 2537.3 L616.5 2537.3 L617.8 2537.3 L619.1 2537.3 L620.4 2537.3 L621.7 2537.3 L623 2537.3 L624.3 2537.3 L625.6 2537.3 L626.9 2537.3 L628.2 2537.3 L629.5 2537.3 L630.8 2537.3 L632.1 2537.3 L633.4 2537.3 L634.7 2537.3 L636 2537.3 L637.3 2537.3 L638.6 2537.3 L639.9 2537.3 L641.2 2537.3 L642.5 2537.3 L643.8 2537.3 L645.1 2537.3 L646.4 2537.3 L647.7 2537.3 L649 2537.3 L650.3 2537.3 L651.6 2537.3 L652.9 2537.3 L654.2 2537.3 L655.5 2537.3 L656.8 2537.3 L658.1 2537.3 L659.4 2537.3 L660.7 2537.3 L662 2537.3 L663.3 2537.3 L664.6 2537.3 L665.9 2537.3 L667.2 2537.3 L668.5 2537.3 L669.8 2537.3 L671.1 2537.3 L672.4 2537.3 L673.7 2537.3 L675 2537.3 L676.3 2537.3 L677.6 2537.3 L678.9 2537.3 L680.2 2537.3 L681.5 2537.3 L682.8 2537.3 L684.1 2537.3 L685.4 2537.3 L686.7 2537.3 L688 2537.3 L689.3 2537.3 L690.6 2537.3 L691.9 2537.3 L693.2 2537.3 L694.5 2537.3 L695.8 2537.3 L697.1 2537.3 L698.4 2537.3 L699.7 2537.3 L701.1 2537.3 L702.4 2537.3 L703.7 2537.3 L705 2537.3 L706.3 2537.3 L707.6 2537.3 L708.9 2537.3 L710.2 2537.3 L711.5 2537.3 L712.8 2537.3 L714.1 2537.3 L715.4 2537.3 L716.7 2537.3 L718 2537.3 L719.3 2537.3 L720.6 2537.3 L721.9 2537.3 L723.2 2537.3 L724.5 2537.3 L725.8 2537.3 L727.1 2537.3 L728.4 2537.3 L729.7 2537.3 L731 2537.3 L732.3 2537.3 L733.6 2537.3 L734.9 2537.3 L736.2 2537.3 L737.5 2537.3 L738.8 2537.3 L740.1 2537.3 L741.4 2537.3 L742.7 2537.3 L744 2537.3 L745.3 2537.3 L746.6 2537.3 L747.9 2537.3 L749.2 2537.3 L750.5 2537.3 L751.8 2537.3 L753.1 2537.3 L754.4 2537.3 L755.7 2537.3 L757 2537.3 L758.3 2537.3 L759.6 2537.3 L760.9 2537.3 L762.2 2537.3 L763.5 2537.3 L764.8 2537.3 L766.1 2537.3 L767.4 2537.3 L768.7 2537.3 L770 2537.3 L771.3 2537.3 L772.6 2537.3 L773.9 2537.3 L775.2 2537.3 L776.5 2537.3 L777.8 2537.3 L779.1 2537.3 L780.4 2537.3 L781.7 2537.3 L783 2537.3 L784.3 2537.3 L785.6 2537.3 L786.9 2537.3 L788.2 2537.3 L789.5 2537.3 L790.8 2537.3 L792.1 2537.3 L793.4 2537.3 L794.7 2537.3 L796 2537.3 L797.3 2537.3 L798.6 2537.3 L799.9 2537.3 L801.2 2537.3 L802.5 2537.3 L803.8 2537.3 L805.1 2537.3 L806.4 2537.3 L807.7 2537.3 L809 2537.3 L810.3 2537.3 L811.7 2537.3 L813 2537.3 L814.3 2537.3 L815.6 2537.3 L816.9 2537.3 L818.2 2537.3 L819.5 2537.3 L820.8 2537.3 L822.1 2537.3 L823.4 2537.3 L824.7 2537.3 L826 2537.3 L827.3 2537.3 L828.6 2537.3 L829.9 2537.3 L831.2 2537.3 L832.5 2537.3 L833.8 2537.3 L835.1 2537.3 L836.4 2537.3 L837.7 2537.3 L839 2537.3 L840.3 2537.3 L841.6 2537.3 L842.9 2537.3 L844.2 2537.3 L845.5 2537.3 L846.8 2537.3 L848.1 2537.3 L849.4 2537.3 L850.7 2537.3 L852 2537.3 L853.3 2537.3 L854.6 2537.3 L855.9 2537.3 L857.2 2537.3 L858.5 2537.3 L859.8 2537.3 L861.1 2537.3 L862.4 2537.3 L863.7 2537.3 L865 2537.3 L866.3 2537.3 L867.6 2537.3 L868.9 2537.3 L870.2 2537.3 L871.5 2537.3 L872.8 2537.3 L874.1 2537.3 L875.4 2537.3 L876.7 2537.3 L878 2537.3 L879.3 2537.3 L880.6 2537.3 L881.9 2537.3 L883.2 2537.3 L884.5 2537.3 L885.8 2537.3 L887.1 2537.3 L888.4 2537.3 L889.7 2537.3 L891 2537.3 L892.3 2537.3 L893.6 2537.3 L894.9 2537.3 L896.2 2537.3 L897.5 2537.3 L898.8 2537.3 L900.1 2537.3 L901.4 2537.3 L902.7 2537.3 L904 2537.3 L905.3 2537.3 L906.6 2537.3 L907.9 2537.3 L909.2 2537.3 L910.5 2537.3 L911.8 2537.3 L913.1 2537.3 L914.4 2537.3 L915.7 2537.3 L917 2537.3 L918.3 2537.3 L919.6 2537.3 L920.9 2537.3 L922.3 2537.3 L923.6 2537.3 L924.9 2537.3 L926.2 2537.3 L927.5 2537.3 L928.8 2537.3 L930.1 2537.3 L931.4 2537.3 L932.7 2537.3 L934 2537.3 L935.3 2537.3 L936.6 2537.3 L937.9 2537.3 L939.2 2537.3 L940.5 2537.3 L941.8 2537.3 L943.1 2537.3 L944.4 2537.3 L945.7 2537.3 L947 2537.3 L948.3 2537.3 L949.6 2537.3 L950.9 2537.3 L952.2 2537.3 L953.5 2537.3 L954.8 2537.3 L956.1 2537.3 L957.4 2537.3 L958.7 2537.3 L960 2537.3 L961.3 2537.3 L962.6 2537.3 L963.9 2537.3 L965.2 2537.3 L966.5 2537.3 L967.8 2537.3 L969.1 2537.3 L970.4 2537.3 L971.7 2537.3 L973 2537.3 L974.3 2537.3 L975.6 2537.3 L976.9 2537.3 L978.2 2537.3 L979.5 2537.3 L980.8 2537.3 L982.1 2537.3 L983.4 2537.3 L984.7 2537.3 L986 2537.3 L987.3 2537.3 L988.6 2537.3 L989.9 2537.3 L991.2 2537.3 L992.5 2537.3 L993.8 2537.3 L995.1 2537.3 L996.4 2537.3 L997.7 2537.3 L999 2537.3 L1000.3 2537.3 L1001.6 2537.3 L1002.9 2537.3 L1004.2 2537.3 L1005.5 2537.3 L1006.8 2537.3 L1008.1 2537.3 L1009.4 2537.3 L1010.7 2537.3 L1012.2 2536.4 L1013.7 2536.1 L1015.2 2534.7 L1017.1 2531.1 L1019.1 2529.2 L1021 2531.3 L1022.9 2534.7 L1024.4 2535.7 L1025.9 2536.4 L1027.4 2537.3 L1028.7 2537.3 L1030 2537.3 L1031.3 2537.3 L1032.6 2537.3 L1033.9 2537.3 L1035.2 2537.3 L1036.5 2537.3 L1037.8 2537.3 L1039.1 2537.3 L1040.4 2537.3 L1041.7 2537.3 L1043.1 2537.3 L1044.4 2537.3 L1045.7 2537.3 L1047 2537.3 L1048.3 2537.3 L1049.6 2537.3 L1050.9 2537.3 L1052.2 2537.3 L1053.5 2537.3 L1054.8 2537.3 L1056.1 2537.3 L1057.4 2537.3 L1058.7 2537.3 L1060 2537.3 L1061.3 2537.3 L1062.6 2537.3 L1064 2537.3 L1065.3 2537.3 L1066.6 2537.3 L1067.9 2537.3 L1069.2 2537.3 L1070.5 2537.3 L1071.8 2537.3 L1073.1 2537.3 L1074.4 2537.3 L1075.7 2537.3 L1077 2537.3 L1078.3 2537.3 L1079.6 2537.3 L1080.9 2537.3 L1082.2 2537.3 L1083.5 2537.3 L1084.9 2537.3 L1086.2 2537.3 L1087.5 2537.3 L1088.8 2537.3 L1090.1 2537.3 L1091.4 2537.3 L1092.7 2537.3 L1094 2537.3 L1095.3 2537.3 L1096.6 2537.3 L1097.9 2537.3 L1099.2 2537.3 L1100.5 2537.3 L1101.8 2537.3 L1103.1 2537.3 L1104.4 2537.3 L1105.7 2537.3 L1107.1 2537.3 L1108.4 2537.3 L1109.7 2537.3 L1111 2537.3 L1112.3 2537.3 L1113.6 2537.3 L1114.9 2537.3 L1116.2 2537.3 L1117.5 2537.3 L1118.8 2537.3 L1120.1 2537.3 L1121.4 2537.3 L1122.7 2537.3 L1124 2537.3 L1125.3 2537.3 L1126.6 2537.3 L1128 2537.3 L1129.3 2537.3 L1130.6 2537.3 L1131.9 2537.3 L1133.2 2537.3 L1134.5 2537.3 L1135.8 2537.3 L1137.1 2537.3 L1138.4 2537.3 L1139.7 2537.3 L1141 2537.3 L1142.3 2537.3 L1143.6 2537.3 L1144.9 2537.3 L1146.2 2537.3 L1147.5 2537.3 L1148.9 2537.3 L1150.2 2537.3 L1151.5 2537.3 L1152.8 2537.3 L1154.1 2537.3 L1155.4 2537.3 L1156.7 2537.3 L1158 2537.3 L1159.3 2537.3 L1160.6 2537.3 L1161.9 2537.3 L1163.2 2537.3 L1164.5 2537.3 L1165.8 2537.3 L1167.1 2537.3 L1168.4 2537.3 L1169.7 2537.3 L1171.1 2537.3 L1172.4 2537.3 L1173.7 2537.3 L1175 2537.3 L1176.3 2537.3 L1177.6 2537.3 L1178.9 2537.3 L1180.2 2537.3 L1181.5 2537.3 L1182.8 2537.3 L1184.1 2537.3 L1185.4 2537.3 L1186.7 2537.3 L1188 2537.3 L1189.3 2537.3 L1190.6 2537.3 L1192 2537.3 L1193.3 2537.3 L1194.6 2537.3 L1195.9 2537.3 L1197.2 2537.3 L1198.6 2533 L1200 2528.2 L1201.3 2528.2 L1202.7 2525.2 L1204.1 2530.4 L1205.5 2533.9 L1206.9 2533.3 L1208.3 2533.7 L1209.7 2534.9 L1211.1 2534.9 L1212.4 2534.5 L1213.8 2535.3 L1215.2 2535.5 L1216.6 2535.8 L1218 2534.8 L1219.4 2534.8 L1220.8 2534.8 L1222.2 2535.9 L1223.5 2534.9 L1224.9 2535.3 L1226.3 2534.8 L1227.7 2534.8 L1229.1 2534 L1230.5 2533.9 L1231.9 2530.7 L1233.3 2525.2 L1234.6 2521.3 L1236 2520.3 L1237.4 2518.7 L1238.8 2516 L1240.2 2518.3 L1241.6 2520 L1243 2519.1 L1244.4 2514.7 L1245.7 2510.2 L1247.1 2506.9 L1248.8 2496.6 L1250.5 2487.5 L1252.1 2493.3 L1253.8 2490.8 L1255.5 2491.6 L1256.8 2489.2 L1258.2 2491.5 L1259.6 2490.2 L1261 2496 L1262.4 2497.7 L1263.8 2494.4 L1265.2 2493.1 L1266.6 2487.5 L1267.9 2483.2 L1269.3 2481.3 L1270.7 2477.9 L1272.1 2481.9 L1273.5 2465.6 L1274.9 2448.6 L1276.5 2420.9 L1278.2 2415.3 L1280.4 2448.6 L1282.7 2493 L1284.6 2525.2 L1286 2483.4 L1287.4 2448.6 L1288.8 2469.7 L1290.1 2487.5 L1291.5 2494 L1292.9 2504.1 L1294.3 2485.3 L1295.7 2470.8 L1297.1 2471.6 L1298.5 2481.9 L1299.9 2491.8 L1301.2 2495.8 L1302.6 2463.2 L1304 2437.5 L1305.4 2448.5 L1306.8 2465.3 L1308.2 2451.7 L1309.6 2451.4 L1311 2455.1 L1312.3 2473.6 L1313.7 2470.4 L1315.1 2453.2 L1316.5 2443.1 L1317.9 2451.1 L1319.3 2451.8 L1320.7 2459.7 L1322.1 2447.7 L1323.5 2438.8 L1324.8 2440.3 L1326.2 2444.5 L1327.6 2440.6 L1329 2454.2 L1330.4 2452.8 L1331.8 2434.7 L1333.7 2387.6 L1335.9 2429.2 L1337.3 2419.4 L1338.7 2423.6 L1340.1 2411.1 L1341.5 2415.3 L1342.9 2402.9 L1344.3 2393.1 L1345.7 2401.2 L1347 2426.4 L1348.4 2389.7 L1349.8 2359.8 L1351.2 2406 L1352.6 2423.6 L1354.3 2420.1 L1355.9 2434.7 L1357.3 2422.1 L1358.7 2398.7 L1360.9 2437.5 L1363.1 2495.8 L1364.5 2465.7 L1365.9 2445.8 L1367.6 2450.6 L1369.2 2437.5 L1370.6 2444.3 L1372 2433.2 L1373.4 2440.3 L1374.8 2440.3 L1376.2 2426.4 L1377.6 2434.1 L1379 2459.7 L1380.3 2454.1 L1381.7 2440.3 L1383.5 2411.3 L1385.3 2387.6 L1387.3 2465.3 L1389.2 2493 L1390.9 2437.5 L1392.3 2429.2 L1393.7 2429.2 L1395.1 2455.1 L1396.4 2470.8 L1398.1 2451.6 L1399.8 2445.8 L1401.4 2447.5 L1403.1 2465.3 L1404.5 2447.2 L1405.9 2445.8 L1407.7 2460.6 L1409.5 2462.5 L1410.9 2451.4 L1412.3 2443.1 L1414.2 2481.9 L1416.4 2395.9 L1417.8 2424 L1419.2 2437.5 L1420.6 2443.3 L1422 2451.4 L1423.4 2454.2 L1424.7 2470.8 L1426.5 2483.7 L1428.4 2490.2 L1430 2478.1 L1431.7 2459.7 L1433.1 2443.7 L1434.5 2424 L1435.8 2420.9 L1437.2 2430.5 L1438.6 2430.4 L1440 2423.6 L1441.4 2447.5 L1442.8 2451.4 L1444.2 2458.3 L1445.6 2479.1 L1446.9 2483.4 L1448.3 2481.9 L1450 2476.4 L1451.2 2482.4 L1453.7 2487.4 L1456.2 2467.4 L1458.1 2474.2 L1460 2469.9 L1462.5 2474.9 L1465 2462.4 L1467.5 2446.2 L1470 2464.9 L1471.5 2468.8 L1473 2478.6 L1475 2459.9 L1477 2446.2 L1478.7 2494.9 L1480.6 2496.8 L1482.5 2498.6 L1484.3 2503.4 L1486.2 2502.4 L1488.1 2507.8 L1489.9 2510.1 L1491.8 2511.6 L1493.7 2517 L1495.6 2516.8 L1497.4 2514.2 L1499.1 2510.2 L1500.8 2509.4 L1502.4 2507.4 L1504.3 2508.9 L1506.2 2511.5 L1508.1 2507.6 L1509.9 2499.9 L1511.8 2507.3 L1513.7 2511.5 L1515.5 2514 L1517.4 2518.4 L1519.1 2518.5 L1520.7 2522.9 L1522.4 2525.2 L1524.1 2523 L1525.7 2522.9 L1527.4 2523.3 L1529.1 2522.7 L1530.7 2523 L1532.4 2522.5 L1534.3 2523.7 L1536.2 2522.5 L1538 2526.9 L1539.9 2529.3 L1541.4 2530 L1542.9 2530.6 L1544.4 2530.7 L1545.9 2528.2 L1547.4 2529.3 L1548.9 2529.7 L1550.4 2527.3 L1551.9 2527.8 L1553.4 2526.3 L1554.9 2527.2 L1556.5 2528.2 L1558.2 2527.3 L1559.9 2526.6 L1561.4 2527 L1562.9 2526.2 L1564.4 2528.6 L1565.9 2529.8 L1567.4 2529.3 L1568.9 2530.4 L1570.4 2531.4 L1571.9 2532 L1573.4 2530.6 L1574.9 2531.8 L1576.3 2531.4 L1577.7 2533 L1579.1 2531.9 L1580.6 2531.6 L1582 2532.8 L1583.4 2532.6 L1584.9 2533.1 L1586.4 2533.8 L1587.9 2532 L1589.4 2532.1 L1590.9 2530.5 L1592.3 2531.3 L1593.8 2529.4 L1595.3 2529.5 L1596.8 2528.7 L1598.3 2528.9 L1599.8 2526.6 L1601.5 2525.1 L1603.2 2527.3 L1604.8 2525.2 L1606.5 2525.8 L1608.2 2525.5 L1609.8 2528 L1611.3 2528.6 L1612.8 2530.9 L1614.3 2531.6 L1615.8 2532.3 L1617.3 2533.1 L1618.8 2533.8 L1620.2 2533.8 L1621.6 2533.8 L1623 2532.7 L1624.5 2533 L1625.9 2533.4 L1627.3 2533.1 L1628.7 2533.9 L1630.2 2533.7 L1631.6 2532.1 L1633 2532.4 L1634.5 2533.2 L1635.9 2532.5 L1637.3 2533.1 L1639 2534.1 L1640.6 2534.3 L1642.3 2534.3 L1644 2534.6 L1645.6 2535.3 L1647.3 2535.6 L1649 2534.5 L1650.6 2533.1 L1652.3 2531.8 L1654 2533.3 L1655.6 2534.4 L1657.3 2534.3 L1659 2535.3 L1660.6 2535.1 L1662.3 2534.8 L1663.8 2533.5 L1665.3 2533.2 L1666.8 2532.9 L1668.3 2532.1 L1669.8 2531.8 L1671.2 2532.4 L1672.6 2532.5 L1674 2531.4 L1675.4 2531.6 L1676.8 2532.3 L1678.2 2532.4 L1679.6 2533.2 L1681 2532.3 L1680.1 2537.3" fill="none" stroke="#ff00ff" stroke-width="4.1" stroke-linejoin="round" stroke-linecap="butt" clip-path="url(#pbL)"/>
<path d="M241.5 2537.3 L242.8 2537.3 L244.1 2537.3 L245.4 2537.3 L246.8 2537.3 L248.1 2537.3 L249.4 2537.3 L250.7 2537.3 L252 2537.3 L253.3 2537.3 L254.7 2537.3 L256 2537.3 L257.3 2537.3 L258.6 2537.3 L259.9 2537.3 L261.2 2537.3 L262.5 2537.3 L263.9 2537.3 L265.2 2537.3 L266.5 2537.3 L267.8 2537.3 L269.1 2537.3 L270.4 2537.3 L271.8 2537.3 L273.1 2537.3 L274.4 2537.3 L275.7 2537.3 L277 2537.3 L278.3 2537.3 L279.6 2537.3 L281 2537.3 L282.3 2537.3 L283.6 2537.3 L284.9 2537.3 L286.2 2537.3 L287.5 2537.3 L288.9 2537.3 L290.2 2537.3 L291.5 2537.3 L292.8 2537.3 L294.1 2537.3 L295.4 2537.3 L296.7 2537.3 L298.1 2537.3 L299.4 2537.3 L300.7 2537.3 L302 2537.3 L303.3 2537.3 L304.6 2537.3 L306 2537.3 L307.3 2537.3 L308.6 2537.3 L309.9 2537.3 L311.2 2537.3 L312.5 2537.3 L313.8 2537.3 L315.2 2537.3 L316.5 2537.3 L317.8 2537.3 L319.1 2537.3 L320.4 2537.3 L321.7 2537.3 L323.1 2537.3 L324.4 2537.3 L325.7 2537.3 L327 2537.3 L328.5 2537.3 L330 2537.3 L331.5 2531.3 L333 2526.8 L335.3 2503 L337 2521.3 L339.5 2537.3 L340.8 2537.3 L342.2 2537.3 L343.5 2537.3 L344.9 2537.3 L346.2 2537.3 L347.6 2537.3 L348.9 2537.3 L350.3 2537.3 L351.6 2537.3 L353 2537.3 L354.3 2537.3 L355.6 2537.3 L357 2537.3 L358.3 2537.3 L359.7 2537.3 L361 2537.3 L362.4 2537.3 L363.7 2537.3 L365.1 2537.3 L366.4 2537.3 L367.7 2537.3 L369.1 2537.3 L370.4 2537.3 L371.8 2537.3 L373.1 2537.3 L374.5 2537.3 L375.8 2537.3 L377.2 2537.3 L379.6 2519.7 L381.7 2491.1 L383.3 2454.4 L384.8 2442.4 L386.3 2422.4 L388.8 2445.3 L390.3 2458.7 L391.8 2472.7 L393.6 2465.9 L395.5 2468.2 L397 2461.5 L398.5 2459.2 L400.1 2463.2 L401.6 2463.6 L403.1 2455.7 L404.6 2462 L406.2 2463.2 L407.7 2452.9 L409.2 2462.5 L410.7 2463.6 L412.3 2472.6 L413.8 2480.4 L415.3 2472.6 L416.8 2469.7 L418.4 2463.3 L419.9 2463.6 L421.4 2453.9 L423 2457.5 L424.3 2452.4 L425.6 2445.7 L426.9 2430 L429.1 2448.3 L430.6 2451.3 L432.1 2439.2 L433.6 2445 L435.2 2448.3 L436.7 2438.5 L438.2 2420.9 L439.7 2434.9 L441.3 2433.1 L442.8 2418.9 L444.3 2427 L445.8 2421.7 L447.4 2420.9 L448.9 2445.3 L451 2404.1 L453.5 2417.8 L455.3 2386.4 L457.1 2364.4 L459.6 2393.4 L461.1 2397.8 L462.6 2427 L464.5 2405 L466.3 2381.2 L468.1 2417.8 L470 2394.6 L471.8 2398 L473.3 2421.8 L474.8 2457.5 L476.4 2449.5 L477.9 2433.1 L479.4 2432.3 L481 2445.3 L482.5 2440 L484 2427 L485.5 2438.3 L487.1 2442.2 L488.6 2420.4 L490.1 2414.7 L491.6 2402.3 L493.2 2402.5 L494.7 2390.2 L496.2 2372.8 L497.7 2358.3 L499.3 2388.6 L500.8 2408.6 L502.3 2415.4 L503.8 2434.6 L505.4 2444.4 L506.9 2434.9 L508.4 2431.5 L510 2423.8 L511.5 2426.5 L513 2423.9 L514.5 2417.6 L516.1 2415.4 L517.6 2420.9 L519.1 2428.2 L520.6 2428.5 L522.2 2393.6 L523.7 2381.2 L525.2 2388.3 L526.7 2411.7 L529.2 2347.6 L530.7 2357.1 L532.2 2393.4 L534 2392.7 L535.7 2402.2 L537.4 2393.4 L539.6 2423.9 L540.9 2435.8 L542.2 2423.3 L543.5 2423.9 L545.1 2392.5 L546.6 2375.1 L548.1 2356.3 L549.6 2353.7 L551.2 2353.6 L552.7 2321.6 L554 2319.1 L555.3 2348.4 L556.7 2356.7 L558.8 2268.2 L560.9 2170.5 L562.8 2078.9 L564 2052.7 L565.2 2052.7 L565.8 2140 L566.1 2283.5 L567 2402.5 L568.9 2286.5 L571 2329.3 L573.1 2402.5 L575 2332.3 L576.2 2472.7 L578.6 2359.8 L581.1 2283.5 L582.6 2353.7 L584.1 2430 L586.3 2475.8 L587.8 2526.4 L590.2 2478.9 L592.4 2481.9 L593.9 2495.5 L595.4 2506.3 L597 2520.2 L598.5 2537.3 L599.8 2537.3 L601.1 2537.3 L602.4 2537.3 L603.7 2537.3 L605 2537.3 L606.3 2537.3 L607.6 2537.3 L608.9 2537.3 L610.2 2537.3 L611.5 2537.3 L612.8 2537.3 L614.1 2537.3 L615.4 2537.3 L616.7 2537.3 L618 2537.3 L619.3 2537.3 L620.6 2537.3 L621.9 2537.3 L623.2 2537.3 L624.5 2537.3 L625.8 2537.3 L627.1 2537.3 L628.4 2537.3 L629.7 2537.3 L631 2537.3 L632.3 2537.3 L633.6 2537.3 L634.9 2537.3 L636.2 2537.3 L637.5 2537.3 L638.8 2537.3 L640.1 2537.3 L641.4 2537.3 L642.7 2537.3 L644 2537.3 L645.3 2537.3 L646.6 2537.3 L647.9 2537.3 L649.2 2537.3 L650.5 2537.3 L651.8 2537.3 L653.1 2537.3 L654.4 2537.3 L655.7 2537.3 L657 2537.3 L658.3 2537.3 L659.6 2537.3 L660.9 2537.3 L662.2 2537.3 L663.5 2537.3 L664.8 2537.3 L666.1 2537.3 L667.4 2537.3 L668.7 2537.3 L670 2537.3 L671.3 2537.3 L672.6 2537.3 L673.9 2537.3 L675.2 2537.3 L676.5 2537.3 L677.8 2537.3 L679.1 2537.3 L680.4 2537.3 L681.7 2537.3 L683 2537.3 L684.3 2537.3 L685.6 2537.3 L686.9 2537.3 L688.2 2537.3 L689.5 2537.3 L690.8 2537.3 L692.1 2537.3 L693.4 2537.3 L694.7 2537.3 L696 2537.3 L697.3 2537.3 L698.6 2537.3 L699.9 2537.3 L701.2 2537.3 L702.5 2537.3 L703.8 2537.3 L705.1 2537.3 L706.4 2537.3 L707.7 2537.3 L709 2537.3 L710.3 2537.3 L711.6 2537.3 L712.9 2537.3 L714.2 2537.3 L715.5 2537.3 L716.8 2537.3 L718.2 2537.3 L719.5 2537.3 L720.8 2537.3 L722.1 2537.3 L723.4 2537.3 L724.7 2537.3 L726 2537.3 L727.3 2537.3 L728.6 2537.3 L729.9 2537.3 L731.2 2537.3 L732.5 2537.3 L733.8 2537.3 L735.1 2537.3 L736.4 2537.3 L737.7 2537.3 L739 2537.3 L740.3 2537.3 L741.6 2537.3 L742.9 2537.3 L744.2 2537.3 L745.5 2537.3 L746.8 2537.3 L748.1 2537.3 L749.4 2537.3 L750.7 2537.3 L752 2537.3 L753.3 2537.3 L754.6 2537.3 L755.9 2537.3 L757.2 2537.3 L758.5 2537.3 L759.8 2537.3 L761.1 2537.3 L762.4 2537.3 L763.7 2537.3 L765 2537.3 L766.3 2537.3 L767.6 2537.3 L768.9 2537.3 L770.2 2537.3 L771.5 2537.3 L772.8 2537.3 L774.1 2537.3 L775.4 2537.3 L776.7 2537.3 L778 2537.3 L779.3 2537.3 L780.6 2537.3 L781.9 2537.3 L783.2 2537.3 L784.5 2537.3 L785.8 2537.3 L787.1 2537.3 L788.4 2537.3 L789.7 2537.3 L791 2537.3 L792.3 2537.3 L793.6 2537.3 L794.9 2537.3 L796.2 2537.3 L797.5 2537.3 L798.8 2537.3 L800.1 2537.3 L801.4 2537.3 L802.7 2537.3 L804 2537.3 L805.3 2537.3 L806.6 2537.3 L807.9 2537.3 L809.2 2537.3 L810.5 2537.3 L811.8 2537.3 L813.1 2537.3 L814.4 2537.3 L815.7 2537.3 L817 2537.3 L818.3 2537.3 L819.6 2537.3 L820.9 2537.3 L822.2 2537.3 L823.5 2537.3 L824.8 2537.3 L826.1 2537.3 L827.4 2537.3 L828.7 2537.3 L830 2537.3 L831.3 2537.3 L832.6 2537.3 L833.9 2537.3 L835.2 2537.3 L836.5 2537.3 L837.8 2537.3 L839.1 2537.3 L840.4 2537.3 L841.7 2537.3 L843 2537.3 L844.3 2537.3 L845.6 2537.3 L846.9 2537.3 L848.2 2537.3 L849.5 2537.3 L850.8 2537.3 L852.1 2537.3 L853.4 2537.3 L854.7 2537.3 L856 2537.3 L857.3 2537.3 L858.6 2537.3 L859.9 2537.3 L861.2 2537.3 L862.5 2537.3 L863.8 2537.3 L865.1 2537.3 L866.4 2537.3 L867.7 2537.3 L869 2537.3 L870.3 2537.3 L871.6 2537.3 L872.9 2537.3 L874.2 2537.3 L875.5 2537.3 L876.8 2537.3 L878.1 2537.3 L879.4 2537.3 L880.7 2537.3 L882 2537.3 L883.3 2537.3 L884.6 2537.3 L885.9 2537.3 L887.2 2537.3 L888.5 2537.3 L889.8 2537.3 L891.1 2537.3 L892.4 2537.3 L893.7 2537.3 L895.1 2537.3 L896.4 2537.3 L897.7 2537.3 L899 2537.3 L900.3 2537.3 L901.6 2537.3 L902.9 2537.3 L904.2 2537.3 L905.5 2537.3 L906.8 2537.3 L908.1 2537.3 L909.4 2537.3 L910.7 2537.3 L912 2537.3 L913.3 2537.3 L914.6 2537.3 L915.9 2537.3 L917.2 2537.3 L918.5 2537.3 L919.8 2537.3 L921.1 2537.3 L922.4 2537.3 L923.7 2537.3 L925 2537.3 L926.3 2537.3 L927.6 2537.3 L928.9 2537.3 L930.2 2537.3 L931.5 2537.3 L932.8 2537.3 L934.1 2537.3 L935.4 2537.3 L936.7 2537.3 L938 2537.3 L939.3 2537.3 L940.6 2537.3 L941.9 2537.3 L943.2 2537.3 L944.5 2537.3 L945.8 2537.3 L947.1 2537.3 L948.4 2537.3 L949.7 2537.3 L951 2537.3 L952.3 2537.3 L953.6 2537.3 L954.9 2537.3 L956.2 2537.3 L957.5 2537.3 L958.8 2537.3 L960.1 2537.3 L961.4 2537.3 L962.7 2537.3 L964 2537.3 L965.3 2537.3 L966.6 2537.3 L967.9 2537.3 L969.2 2537.3 L970.5 2537.3 L971.8 2537.3 L973.1 2537.3 L974.4 2537.3 L975.7 2537.3 L977 2537.3 L978.3 2537.3 L979.6 2537.3 L980.9 2537.3 L982.2 2537.3 L983.5 2537.3 L984.8 2537.3 L986.1 2537.3 L987.4 2537.3 L988.7 2537.3 L990 2537.3 L991.3 2537.3 L992.7 2536.2 L994.1 2534.9 L995.5 2534.9 L996.9 2533.1 L998.8 2530.1 L1000.7 2526.1 L1002.2 2525.4 L1003.7 2525.5 L1005.2 2523.1 L1006.7 2522.3 L1008.1 2525.2 L1009.6 2526.1 L1011.6 2530 L1013.5 2534.7 L1015.4 2536 L1017.4 2537.3 L1018.8 2537.3 L1020.3 2537.3 L1021.7 2537.3 L1023.2 2537.3 L1024.6 2537.3 L1025.9 2537.3 L1027.2 2537.3 L1028.5 2537.3 L1029.8 2537.3 L1031.1 2537.3 L1032.5 2537.3 L1033.8 2537.3 L1035.1 2537.3 L1036.4 2537.3 L1037.7 2537.3 L1039 2537.3 L1040.3 2537.3 L1041.6 2537.3 L1042.9 2537.3 L1044.2 2537.3 L1045.5 2537.3 L1046.8 2537.3 L1048.1 2537.3 L1049.4 2537.3 L1050.8 2537.3 L1052.1 2537.3 L1053.4 2537.3 L1054.7 2537.3 L1056 2537.3 L1057.3 2537.3 L1058.6 2537.3 L1059.9 2537.3 L1061.2 2537.3 L1062.5 2537.3 L1063.8 2537.3 L1065.1 2537.3 L1066.4 2537.3 L1067.7 2537.3 L1069.1 2537.3 L1070.4 2537.3 L1071.7 2537.3 L1073 2537.3 L1074.3 2537.3 L1075.6 2537.3 L1076.9 2537.3 L1078.2 2537.3 L1079.5 2537.3 L1080.8 2537.3 L1082.1 2537.3 L1083.4 2537.3 L1084.7 2537.3 L1086.1 2537.3 L1087.4 2537.3 L1088.7 2537.3 L1090 2537.3 L1091.3 2537.3 L1092.6 2537.3 L1093.9 2537.3 L1095.2 2537.3 L1096.5 2537.3 L1097.8 2537.3 L1099.1 2537.3 L1100.4 2537.3 L1101.7 2537.3 L1103 2537.3 L1104.4 2537.3 L1105.7 2537.3 L1107 2537.3 L1108.3 2537.3 L1109.6 2537.3 L1110.9 2537.3 L1112.2 2537.3 L1113.5 2537.3 L1114.8 2537.3 L1116.1 2537.3 L1117.4 2537.3 L1118.7 2537.3 L1120 2537.3 L1121.4 2537.3 L1122.7 2537.3 L1124 2537.3 L1125.3 2537.3 L1126.6 2537.3 L1127.9 2537.3 L1129.2 2537.3 L1130.5 2537.3 L1131.8 2537.3 L1133.1 2537.3 L1134.4 2537.3 L1135.7 2537.3 L1137 2537.3 L1138.3 2537.3 L1139.7 2537.3 L1141 2537.3 L1142.3 2537.3 L1143.6 2537.3 L1144.9 2537.3 L1146.2 2537.3 L1147.5 2537.3 L1148.8 2537.3 L1150.1 2537.3 L1151.4 2537.3 L1152.7 2537.3 L1154 2537.3 L1155.3 2537.3 L1156.7 2537.3 L1158 2537.3 L1159.3 2537.3 L1160.6 2537.3 L1161.9 2537.3 L1163.2 2537.3 L1164.5 2537.3 L1165.8 2537.3 L1167.1 2537.3 L1168.4 2537.3 L1169.7 2537.3 L1171 2537.3 L1172.3 2537.3 L1173.6 2537.3 L1175 2537.3 L1176.3 2537.3 L1177.6 2537.3 L1178.9 2537.3 L1180.2 2537.3 L1181.5 2537.3 L1182.8 2537.3 L1184.1 2537.3 L1185.4 2537.3 L1186.7 2537.3 L1188 2537.3 L1189.3 2537.3 L1190.6 2537.3 L1191.9 2537.3 L1193.3 2537.3 L1194.6 2537.3 L1195.9 2537.3 L1197.2 2537.3 L1198.6 2533.8 L1200 2531.1 L1201.3 2528.5 L1202.7 2527.7 L1204.1 2525.2 L1205.5 2528.1 L1206.9 2528.2 L1208.8 2537.3 L1210.6 2536.3 L1212.4 2535.3 L1213.8 2533.7 L1215.2 2531.4 L1216.6 2531.1 L1218 2531.7 L1219.4 2533.8 L1220.8 2533.4 L1222.2 2535.3 L1223.5 2535.2 L1224.9 2535.9 L1226.3 2536 L1227.7 2536.2 L1229.1 2536.4 L1230.5 2536.7 L1231.9 2536.7 L1233.3 2536.7 L1234.6 2536.7 L1236 2536.7 L1237.4 2536.7 L1238.8 2536.7 L1240.2 2536.7 L1241.6 2536.7 L1243 2536.7 L1244.4 2536.7 L1245.7 2536.7 L1247.1 2536.7 L1248.5 2536.5 L1249.9 2536.4 L1251.3 2536.2 L1252.7 2536.1 L1254.1 2536 L1255.5 2535.8 L1256.8 2535.9 L1258.2 2535 L1259.6 2535.6 L1261 2535.3 L1262.4 2536 L1263.8 2535.4 L1265.2 2535.7 L1266.6 2534.6 L1267.9 2535.1 L1269.3 2534.8 L1270.7 2534.7 L1272.1 2535.3 L1273.5 2535.2 L1274.9 2534.8 L1276.3 2534.1 L1277.7 2532.7 L1279 2533.6 L1280.4 2532.5 L1281.8 2532.9 L1283.2 2533.7 L1284.6 2534.8 L1286 2535.3 L1287.4 2532.9 L1288.8 2531.1 L1290.1 2532.4 L1291.5 2532.8 L1292.9 2535 L1294.3 2535.3 L1295.7 2535.4 L1297.1 2534.9 L1298.5 2535 L1299.9 2535.2 L1301.2 2534.4 L1302.6 2533.5 L1304 2534.2 L1305.4 2533.9 L1306.8 2534.3 L1308.2 2532.4 L1309.6 2531.7 L1311 2532.7 L1312.3 2530.6 L1313.7 2529.6 L1315.1 2529 L1316.5 2529.7 L1317.9 2528.3 L1319.3 2528.8 L1320.7 2526.1 L1322.1 2527.3 L1323.5 2527.2 L1324.8 2525.2 L1326.2 2524.8 L1327.6 2527.6 L1329 2525.6 L1330.4 2526.7 L1331.8 2524.2 L1333.2 2522.8 L1334.6 2519.1 L1335.9 2521 L1337.3 2523.7 L1338.7 2525.2 L1340.1 2525.4 L1341.5 2524.6 L1342.9 2521.6 L1344.3 2522.1 L1345.7 2521.1 L1347 2519.5 L1348.4 2520.2 L1349.8 2520.6 L1351.2 2523.2 L1352.6 2522.7 L1354 2525.2 L1355.4 2525.2 L1356.8 2525.4 L1358.1 2521.3 L1359.5 2523.2 L1360.9 2520.6 L1362.3 2524 L1363.7 2522.5 L1365.1 2524.8 L1366.5 2526.7 L1367.9 2525.4 L1369.2 2524.9 L1370.6 2521.5 L1372 2522.1 L1373.4 2522.6 L1374.8 2524.1 L1376.2 2524.1 L1377.6 2523.7 L1379 2522.5 L1380.3 2520.4 L1381.7 2519.1 L1383.1 2514.7 L1384.5 2513 L1386.3 2522.7 L1388.1 2532.5 L1389.8 2529.6 L1391.4 2523.7 L1392.8 2524.3 L1394.2 2526.2 L1395.6 2524.9 L1397 2525.2 L1398.4 2523.1 L1399.8 2525.3 L1401.2 2525.7 L1402.5 2523.7 L1403.9 2522.2 L1405.3 2525.1 L1406.7 2523.5 L1408.1 2525.2 L1409.5 2528.2 L1410.9 2528.8 L1412.3 2531.1 L1413.6 2527.4 L1415 2526.8 L1416.4 2522.1 L1417.8 2524.1 L1419.2 2526.8 L1420.6 2527.2 L1422 2528.2 L1423.4 2530.5 L1424.7 2531.2 L1426.1 2533.7 L1427.5 2535.3 L1428.9 2534.1 L1430.3 2534.4 L1431.7 2534 L1433.1 2533.9 L1434.5 2534.7 L1435.8 2534.2 L1437.2 2533.9 L1438.6 2533.2 L1440 2534.2 L1441.4 2533.9 L1442.8 2533.5 L1444.3 2534.6 L1445.7 2535.3 L1447.1 2534.3 L1448.6 2535.8 L1450 2535.3 L1452.5 2534.3 L1453.9 2534.6 L1455.3 2535 L1456.8 2533.7 L1458.2 2534.5 L1459.6 2534.8 L1461 2534.8 L1462.5 2534.3 L1463.8 2534.8 L1465.2 2535.1 L1466.5 2535.3 L1467.8 2533.9 L1469.2 2533.8 L1470.5 2535.4 L1471.9 2534.4 L1473.2 2535.1 L1474.6 2534.6 L1475.9 2535.6 L1477.3 2535.3 L1478.6 2534.4 L1480 2535.1 L1481.3 2534.4 L1482.7 2535.2 L1484 2534.6 L1485.4 2534.8 L1486.8 2535.5 L1488.1 2535.1 L1489.5 2534.7 L1490.9 2536.2 L1492.2 2534.9 L1493.6 2535.8 L1494.9 2535.6 L1496.4 2535.9 L1497.8 2535.1 L1499.2 2535.3 L1500.6 2534.8 L1502.1 2534.3 L1503.5 2534.3 L1504.9 2534.3 L1506.6 2534.3 L1508.3 2532.4 L1509.9 2532.6 L1511.5 2533.1 L1513 2533.6 L1514.6 2534.3 L1516.2 2534.3 L1517.5 2534.5 L1518.9 2534 L1520.3 2534.6 L1521.7 2535.1 L1523 2534.8 L1524.4 2535.4 L1525.8 2534.4 L1527.2 2534.5 L1528.5 2535.6 L1529.9 2534.8 L1531.5 2535.1 L1533 2534.3 L1534.6 2534.2 L1536.2 2533.8 L1537.7 2534.3 L1539.3 2535.3 L1540.8 2534.7 L1542.4 2535.6 L1543.7 2535.6 L1545.1 2535.9 L1546.4 2535.5 L1547.7 2535.1 L1549.1 2535.7 L1550.4 2535.7 L1551.8 2535.4 L1553.1 2535.3 L1554.4 2535.2 L1555.8 2536.1 L1557.1 2536 L1558.5 2535 L1559.8 2536 L1561.1 2535.6 L1562.5 2534.9 L1563.8 2535.8 L1565.1 2535 L1566.5 2535.6 L1567.8 2534.9 L1569.2 2535.5 L1570.5 2535.8 L1571.8 2534.9 L1573.2 2535.9 L1574.5 2535.7 L1575.8 2536.2 L1577.2 2534.9 L1578.5 2535.7 L1579.9 2535.6 L1581.2 2535.2 L1582.5 2535.3 L1583.8 2536 L1585.1 2535.3 L1586.4 2535.9 L1587.7 2535.5 L1589.1 2535.9 L1590.4 2535.8 L1591.7 2535.8 L1593 2535.4 L1594.3 2535.4 L1595.6 2535.7 L1597 2535.2 L1598.3 2536.1 L1599.6 2535 L1600.9 2536.3 L1602.2 2534.8 L1603.5 2535.1 L1604.8 2535.6 L1606.2 2535.7 L1607.5 2534.9 L1608.9 2536 L1610.2 2535.5 L1611.6 2535.1 L1613 2535 L1614.3 2535.9 L1615.7 2535.7 L1617 2535.4 L1618.4 2536.3 L1619.7 2535.4 L1621.1 2535 L1622.4 2535.8 L1623.8 2535.6 L1625.1 2535.8 L1626.5 2535.7 L1627.8 2535.3 L1629.2 2534.9 L1630.5 2535.8 L1631.9 2535.7 L1633.2 2535.1 L1634.6 2535.9 L1636 2535.1 L1637.3 2535.6 L1638.8 2535.8 L1640.3 2536.1 L1641.8 2536.3 L1643.3 2536.6 L1644.8 2536.8 L1646.5 2534.8 L1648.1 2532.1 L1649.8 2530.6 L1651.7 2528.6 L1653.5 2526.6 L1655 2527.1 L1656.4 2529.2 L1657.8 2530.6 L1659.3 2533 L1660.8 2533.6 L1662.3 2535.6 L1663.6 2535.8 L1665 2535.2 L1666.3 2535.2 L1667.6 2534.9 L1669 2535.5 L1670.3 2534.4 L1671.7 2535 L1673 2535 L1674.3 2535.6 L1675.7 2534.2 L1677 2533.8 L1678.3 2534.9 L1679.7 2535.1 L1681 2534.3 L1680.1 2537.3" fill="none" stroke="#00ff00" stroke-width="4.1" stroke-linejoin="round" stroke-linecap="butt" clip-path="url(#pbL)"/>
<path d="M244 2537.3 L1682.6 2537.3" fill="none" stroke="#00ff00" stroke-width="4.1" stroke-linejoin="round" stroke-linecap="butt" clip-path="url(#pbL)"/>
<text x="241.5" y="2613.6" font-size="51" text-anchor="middle" font-weight="normal">-5</text>
<text x="313.4" y="2613.6" font-size="51" text-anchor="middle" font-weight="normal">-4</text>
<text x="385.4" y="2613.6" font-size="51" text-anchor="middle" font-weight="normal">-3</text>
<text x="457.3" y="2613.6" font-size="51" text-anchor="middle" font-weight="normal">-2</text>
<text x="529.2" y="2613.6" font-size="51" text-anchor="middle" font-weight="normal">-1</text>
<text x="601.2" y="2613.6" font-size="51" text-anchor="middle" font-weight="normal">0</text>
<text x="673.1" y="2613.6" font-size="51" text-anchor="middle" font-weight="normal">1</text>
<text x="745" y="2613.6" font-size="51" text-anchor="middle" font-weight="normal">2</text>
<text x="816.9" y="2613.6" font-size="51" text-anchor="middle" font-weight="normal">3</text>
<text x="888.9" y="2613.6" font-size="51" text-anchor="middle" font-weight="normal">4</text>
<text x="960.8" y="2613.6" font-size="51" text-anchor="middle" font-weight="normal">5</text>
<text x="1032.7" y="2613.6" font-size="51" text-anchor="middle" font-weight="normal">6</text>
<text x="1104.7" y="2613.6" font-size="51" text-anchor="middle" font-weight="normal">7</text>
<text x="1176.6" y="2613.6" font-size="51" text-anchor="middle" font-weight="normal">8</text>
<text x="1248.5" y="2613.6" font-size="51" text-anchor="middle" font-weight="normal">9</text>
<text x="1320.5" y="2613.6" font-size="51" text-anchor="middle" font-weight="normal">10</text>
<text x="1392.4" y="2613.6" font-size="51" text-anchor="middle" font-weight="normal">11</text>
<text x="1464.3" y="2613.6" font-size="51" text-anchor="middle" font-weight="normal">12</text>
<text x="1536.2" y="2613.6" font-size="51" text-anchor="middle" font-weight="normal">13</text>
<text x="1608.2" y="2613.6" font-size="51" text-anchor="middle" font-weight="normal">14</text>
<text x="1680.1" y="2613.6" font-size="51" text-anchor="middle" font-weight="normal">15</text>
<text x="204" y="1471.6" font-size="51" text-anchor="end" font-weight="normal">118</text>
<text x="204" y="1604.2" font-size="51" text-anchor="end" font-weight="normal">117</text>
<text x="204" y="1738.3" font-size="51" text-anchor="end" font-weight="normal">116</text>
<text x="204" y="2552.3" font-size="51" text-anchor="end" font-weight="normal">0</text>
<text x="204" y="2420.1" font-size="51" text-anchor="end" font-weight="normal">1</text>
<text x="204" y="2287.8" font-size="51" text-anchor="end" font-weight="normal">2</text>
<text x="204" y="2155.6" font-size="51" text-anchor="end" font-weight="normal">3</text>
<text x="204" y="2023.3" font-size="51" text-anchor="end" font-weight="normal">4</text>
<text x="204" y="1891.1" font-size="51" text-anchor="end" font-weight="normal">5</text>
</g>
<g id="pc">
<line x1="243.5" y1="2797" x2="243.5" y2="3133.7" stroke="#000" stroke-width="5" stroke-linecap="butt"/>
<line x1="243.5" y1="3153.7" x2="243.5" y2="3950.9" stroke="#000" stroke-width="5" stroke-linecap="butt"/>
<line x1="241" y1="3948.4" x2="1685.2" y2="3948.4" stroke="#000" stroke-width="5" stroke-linecap="butt"/>
<line x1="243.5" y1="3948.4" x2="243.5" y2="3970.4" stroke="#000" stroke-width="5" stroke-linecap="butt"/>
<line x1="279.5" y1="3948.4" x2="279.5" y2="3959.7" stroke="#000" stroke-width="5" stroke-linecap="butt"/>
<line x1="315.5" y1="3948.4" x2="315.5" y2="3970.4" stroke="#000" stroke-width="5" stroke-linecap="butt"/>
<line x1="351.4" y1="3948.4" x2="351.4" y2="3959.7" stroke="#000" stroke-width="5" stroke-linecap="butt"/>
<line x1="387.4" y1="3948.4" x2="387.4" y2="3970.4" stroke="#000" stroke-width="5" stroke-linecap="butt"/>
<line x1="423.4" y1="3948.4" x2="423.4" y2="3959.7" stroke="#000" stroke-width="5" stroke-linecap="butt"/>
<line x1="459.4" y1="3948.4" x2="459.4" y2="3970.4" stroke="#000" stroke-width="5" stroke-linecap="butt"/>
<line x1="495.4" y1="3948.4" x2="495.4" y2="3959.7" stroke="#000" stroke-width="5" stroke-linecap="butt"/>
<line x1="531.3" y1="3948.4" x2="531.3" y2="3970.4" stroke="#000" stroke-width="5" stroke-linecap="butt"/>
<line x1="567.3" y1="3948.4" x2="567.3" y2="3959.7" stroke="#000" stroke-width="5" stroke-linecap="butt"/>
<line x1="603.3" y1="3948.4" x2="603.3" y2="3970.4" stroke="#000" stroke-width="5" stroke-linecap="butt"/>
<line x1="639.3" y1="3948.4" x2="639.3" y2="3959.7" stroke="#000" stroke-width="5" stroke-linecap="butt"/>
<line x1="675.3" y1="3948.4" x2="675.3" y2="3970.4" stroke="#000" stroke-width="5" stroke-linecap="butt"/>
<line x1="711.2" y1="3948.4" x2="711.2" y2="3959.7" stroke="#000" stroke-width="5" stroke-linecap="butt"/>
<line x1="747.2" y1="3948.4" x2="747.2" y2="3970.4" stroke="#000" stroke-width="5" stroke-linecap="butt"/>
<line x1="783.2" y1="3948.4" x2="783.2" y2="3959.7" stroke="#000" stroke-width="5" stroke-linecap="butt"/>
<line x1="819.2" y1="3948.4" x2="819.2" y2="3970.4" stroke="#000" stroke-width="5" stroke-linecap="butt"/>
<line x1="855.2" y1="3948.4" x2="855.2" y2="3959.7" stroke="#000" stroke-width="5" stroke-linecap="butt"/>
<line x1="891.1" y1="3948.4" x2="891.1" y2="3970.4" stroke="#000" stroke-width="5" stroke-linecap="butt"/>
<line x1="927.1" y1="3948.4" x2="927.1" y2="3959.7" stroke="#000" stroke-width="5" stroke-linecap="butt"/>
<line x1="963.1" y1="3948.4" x2="963.1" y2="3970.4" stroke="#000" stroke-width="5" stroke-linecap="butt"/>
<line x1="999.1" y1="3948.4" x2="999.1" y2="3959.7" stroke="#000" stroke-width="5" stroke-linecap="butt"/>
<line x1="1035.1" y1="3948.4" x2="1035.1" y2="3970.4" stroke="#000" stroke-width="5" stroke-linecap="butt"/>
<line x1="1071" y1="3948.4" x2="1071" y2="3959.7" stroke="#000" stroke-width="5" stroke-linecap="butt"/>
<line x1="1107" y1="3948.4" x2="1107" y2="3970.4" stroke="#000" stroke-width="5" stroke-linecap="butt"/>
<line x1="1143" y1="3948.4" x2="1143" y2="3959.7" stroke="#000" stroke-width="5" stroke-linecap="butt"/>
<line x1="1179" y1="3948.4" x2="1179" y2="3970.4" stroke="#000" stroke-width="5" stroke-linecap="butt"/>
<line x1="1215" y1="3948.4" x2="1215" y2="3959.7" stroke="#000" stroke-width="5" stroke-linecap="butt"/>
<line x1="1250.9" y1="3948.4" x2="1250.9" y2="3970.4" stroke="#000" stroke-width="5" stroke-linecap="butt"/>
<line x1="1286.9" y1="3948.4" x2="1286.9" y2="3959.7" stroke="#000" stroke-width="5" stroke-linecap="butt"/>
<line x1="1322.9" y1="3948.4" x2="1322.9" y2="3970.4" stroke="#000" stroke-width="5" stroke-linecap="butt"/>
<line x1="1358.9" y1="3948.4" x2="1358.9" y2="3959.7" stroke="#000" stroke-width="5" stroke-linecap="butt"/>
<line x1="1394.9" y1="3948.4" x2="1394.9" y2="3970.4" stroke="#000" stroke-width="5" stroke-linecap="butt"/>
<line x1="1430.8" y1="3948.4" x2="1430.8" y2="3959.7" stroke="#000" stroke-width="5" stroke-linecap="butt"/>
<line x1="1466.8" y1="3948.4" x2="1466.8" y2="3970.4" stroke="#000" stroke-width="5" stroke-linecap="butt"/>
<line x1="1502.8" y1="3948.4" x2="1502.8" y2="3959.7" stroke="#000" stroke-width="5" stroke-linecap="butt"/>
<line x1="1538.8" y1="3948.4" x2="1538.8" y2="3970.4" stroke="#000" stroke-width="5" stroke-linecap="butt"/>
<line x1="1574.8" y1="3948.4" x2="1574.8" y2="3959.7" stroke="#000" stroke-width="5" stroke-linecap="butt"/>
<line x1="1610.7" y1="3948.4" x2="1610.7" y2="3970.4" stroke="#000" stroke-width="5" stroke-linecap="butt"/>
<line x1="1646.7" y1="3948.4" x2="1646.7" y2="3959.7" stroke="#000" stroke-width="5" stroke-linecap="butt"/>
<line x1="1682.7" y1="3948.4" x2="1682.7" y2="3970.4" stroke="#000" stroke-width="5" stroke-linecap="butt"/>
<line x1="220" y1="2855.5" x2="243.5" y2="2855.5" stroke="#000" stroke-width="5" stroke-linecap="butt"/>
<line x1="232" y1="2925" x2="243.5" y2="2925" stroke="#000" stroke-width="5" stroke-linecap="butt"/>
<line x1="220" y1="2994.5" x2="243.5" y2="2994.5" stroke="#000" stroke-width="5" stroke-linecap="butt"/>
<line x1="232" y1="3064" x2="243.5" y2="3064" stroke="#000" stroke-width="5" stroke-linecap="butt"/>
<line x1="220" y1="3133.5" x2="243.5" y2="3133.5" stroke="#000" stroke-width="5" stroke-linecap="butt"/>
<line x1="232" y1="3237.3" x2="243.5" y2="3237.3" stroke="#000" stroke-width="5" stroke-linecap="butt"/>
<line x1="220" y1="3379.5" x2="243.5" y2="3379.5" stroke="#000" stroke-width="5" stroke-linecap="butt"/>
<line x1="232" y1="3521.7" x2="243.5" y2="3521.7" stroke="#000" stroke-width="5" stroke-linecap="butt"/>
<line x1="220" y1="3664" x2="243.5" y2="3664" stroke="#000" stroke-width="5" stroke-linecap="butt"/>
<line x1="232" y1="3806.2" x2="243.5" y2="3806.2" stroke="#000" stroke-width="5" stroke-linecap="butt"/>
<line x1="220" y1="3948.5" x2="243.5" y2="3948.5" stroke="#000" stroke-width="5" stroke-linecap="butt"/>
<line x1="220" y1="3143.7" x2="267" y2="3123.7" stroke="#000" stroke-width="4.6" stroke-linecap="butt"/>
<line x1="220" y1="3163.7" x2="267" y2="3143.7" stroke="#000" stroke-width="4.6" stroke-linecap="butt"/>
<path d="M243.5 3947.7 L244.8 3947.7 L246.1 3947.7 L247.4 3947.7 L248.7 3947.7 L250 3947.7 L251.3 3947.7 L252.6 3947.7 L253.9 3947.7 L255.2 3947.7 L256.5 3947.7 L257.8 3947.7 L259.1 3947.7 L260.4 3947.7 L261.7 3947.7 L263 3947.7 L264.3 3947.7 L265.6 3947.7 L266.9 3947.7 L268.2 3947.7 L269.5 3947.7 L270.8 3947.7 L272.1 3947.7 L273.4 3947.7 L274.7 3947.7 L276 3947.7 L277.3 3947.7 L278.6 3947.7 L279.9 3947.7 L281.2 3947.7 L282.5 3947.7 L283.8 3947.7 L285.1 3947.7 L286.4 3947.7 L287.7 3947.7 L289 3947.7 L290.3 3947.7 L291.6 3947.7 L292.9 3947.7 L294.2 3947.7 L295.5 3947.7 L296.8 3947.7 L298.1 3947.7 L299.4 3947.7 L300.7 3947.7 L302 3947.7 L303.3 3947.7 L304.6 3947.7 L305.9 3947.7 L307.2 3947.7 L308.5 3947.7 L309.8 3947.7 L311.1 3947.7 L312.4 3947.7 L313.7 3947.7 L315 3947.7 L316.3 3947.7 L317.6 3947.7 L318.9 3947.7 L320.2 3947.7 L321.5 3947.7 L322.8 3947.7 L324.1 3947.7 L325.4 3947.7 L326.7 3947.7 L328 3947.7 L329.3 3947.7 L330.6 3947.7 L331.9 3947.7 L333.2 3947.7 L334.5 3947.7 L335.8 3947.7 L337.1 3947.7 L338.4 3947.7 L339.7 3947.7 L341 3947.7 L342.3 3947.7 L343.6 3947.7 L344.9 3947.7 L346.2 3947.7 L347.5 3947.7 L348.8 3947.7 L350.1 3947.7 L351.4 3947.7 L352.7 3947.7 L354 3947.7 L355.3 3947.7 L356.6 3947.7 L357.9 3947.7 L359.2 3947.7 L360.5 3947.7 L361.8 3947.7 L363.1 3947.7 L364.4 3947.7 L365.7 3947.7 L367 3947.7 L368.3 3947.7 L369.6 3947.7 L370.9 3947.7 L372.2 3947.7 L373.5 3947.7 L374.8 3947.7 L376.1 3947.7 L377.4 3947.7 L378.7 3947.7 L380 3947.7 L381.3 3947.7 L382.6 3947.7 L383.9 3947.7 L385.2 3947.7 L386.5 3947.7 L387.8 3947.7 L389.1 3947.7 L390.4 3947.7 L391.7 3947.7 L393 3947.7 L394.3 3947.7 L395.6 3947.7 L396.9 3947.7 L398.2 3947.7 L399.5 3947.7 L400.8 3947.7 L402.1 3947.7 L403.4 3947.7 L404.7 3947.7 L406 3947.7 L407.3 3947.7 L408.6 3947.7 L409.9 3947.7 L411.2 3947.7 L412.5 3947.7 L413.8 3947.7 L415.1 3947.7 L416.4 3947.7 L417.7 3947.7 L419 3947.7 L420.3 3947.7 L421.6 3947.7 L422.9 3947.7 L424.2 3947.7 L425.5 3947.7 L426.8 3947.7 L428.1 3947.7 L429.4 3947.7 L430.7 3947.7 L432 3947.7 L433.3 3947.7 L434.6 3947.7 L435.9 3947.7 L437.2 3947.7 L438.5 3947.7 L439.8 3947.7 L441.1 3947.7 L442.4 3947.7 L443.7 3947.7 L445 3947.7 L446.3 3947.7 L447.6 3947.7 L448.9 3947.7 L450.2 3947.7 L451.5 3947.7 L452.8 3947.7 L454.1 3947.7 L455.4 3947.7 L456.7 3947.7 L458 3947.7 L459.3 3947.7 L460.6 3947.7 L461.9 3947.7 L463.2 3947.7 L464.5 3947.7 L465.8 3947.7 L467.1 3947.7 L468.4 3947.7 L469.7 3947.7 L471 3947.7 L472.3 3947.7 L473.6 3947.7 L474.9 3947.7 L476.2 3947.7 L477.5 3947.7 L478.8 3947.7 L480.1 3947.7 L481.4 3947.7 L482.7 3947.7 L484 3947.7 L485.3 3947.7 L486.6 3947.7 L487.9 3947.7 L489.2 3947.7 L490.5 3947.7 L491.8 3947.7 L493.1 3947.7 L494.4 3947.7 L495.7 3947.7 L497 3947.7 L498.3 3947.7 L499.6 3947.7 L500.9 3947.7 L502.2 3947.7 L503.5 3947.7 L504.8 3947.7 L506.1 3947.7 L507.4 3947.7 L508.7 3947.7 L510 3947.7 L511.3 3947.7 L512.6 3947.7 L513.9 3947.7 L515.2 3947.7 L516.5 3947.7 L517.8 3947.7 L519.1 3947.7 L520.4 3947.7 L521.7 3947.7 L523 3947.7 L524.3 3947.7 L525.6 3947.7 L526.9 3947.7 L528.2 3947.7 L529.5 3947.7 L530.8 3947.7 L532.1 3947.7 L533.4 3947.7 L534.7 3947.7 L536 3947.7 L537.3 3947.7 L538.6 3947.7 L539.9 3947.7 L541.2 3947.7 L542.5 3947.7 L543.8 3947.7 L545.1 3947.7 L546.4 3947.7 L547.7 3947.7 L549 3947.7 L550.3 3947.7 L551.6 3947.7 L552.9 3947.7 L554.2 3947.7 L555.5 3947.7 L556.8 3947.7 L558.1 3947.7 L559.4 3947.7 L560.7 3947.7 L562 3947.7 L563.3 3947.7 L564.6 3947.7 L565.9 3947.7 L567.2 3947.7 L568.5 3947.7 L569.8 3947.7 L571.1 3947.7 L572.4 3947.7 L573.7 3947.7 L575 3947.7 L576.3 3947.7 L577.6 3947.7 L578.9 3947.7 L580.2 3947.7 L581.5 3947.7 L582.8 3947.7 L584.1 3947.7 L585.4 3947.7 L586.7 3947.7 L588 3947.7 L589.3 3947.7 L590.6 3947.7 L591.9 3947.7 L593.2 3947.7 L594.5 3947.7 L595.8 3947.7 L597.1 3947.7 L598.4 3947.7 L599.7 3947.7 L601 3947.7 L602.3 3947.7 L603.6 3947.7 L604.9 3947.7 L606.2 3947.7 L607.5 3947.7 L608.8 3947.7 L610.1 3947.7 L611.4 3947.7 L612.7 3947.7 L614 3947.7 L615.3 3947.7 L616.6 3947.7 L617.9 3947.7 L619.2 3947.7 L620.5 3947.7 L621.8 3947.7 L623.1 3947.7 L624.4 3947.7 L625.7 3947.7 L627 3947.7 L628.3 3947.7 L629.6 3947.7 L630.9 3947.7 L632.2 3947.7 L633.5 3947.7 L634.8 3947.7 L636.1 3947.7 L637.4 3947.7 L638.7 3947.7 L640 3947.7 L641.3 3947.7 L642.6 3947.7 L643.9 3947.7 L645.2 3947.7 L646.5 3947.7 L647.8 3947.7 L649.1 3947.7 L650.4 3947.7 L651.7 3947.7 L653 3947.7 L654.3 3947.7 L655.6 3947.7 L656.9 3947.7 L658.2 3947.7 L659.5 3947.7 L660.8 3947.7 L662.1 3947.7 L663.4 3947.7 L664.7 3947.7 L666 3947.7 L667.3 3947.7 L668.6 3947.7 L669.9 3947.7 L671.2 3947.7 L672.5 3947.7 L673.8 3947.7 L675.1 3947.7 L676.4 3947.7 L677.7 3947.7 L679 3947.7 L680.3 3947.7 L681.6 3947.7 L682.9 3947.7 L684.2 3947.7 L685.5 3947.7 L686.8 3947.7 L688.1 3947.7 L689.4 3947.7 L690.7 3947.7 L692 3947.7 L693.3 3947.7 L694.6 3947.7 L695.9 3947.7 L697.2 3947.7 L698.5 3947.7 L699.8 3947.7 L701.1 3947.7 L702.4 3947.7 L703.7 3947.7 L705 3947.7 L706.3 3947.7 L707.6 3947.7 L708.9 3947.7 L710.2 3947.7 L711.5 3947.7 L712.8 3947.7 L714.1 3947.7 L715.4 3947.7 L716.7 3947.7 L718 3947.7 L719.3 3947.7 L720.6 3947.7 L721.9 3947.7 L723.2 3947.7 L724.5 3947.7 L725.8 3947.7 L727.1 3947.7 L728.4 3947.7 L729.7 3947.7 L731 3947.7 L732.3 3947.7 L733.6 3947.7 L734.9 3947.7 L736.2 3947.7 L737.5 3947.7 L738.8 3947.7 L740.1 3947.7 L741.4 3947.7 L742.7 3947.7 L744 3947.7 L745.3 3947.7 L746.6 3947.7 L747.9 3947.7 L749.2 3947.7 L750.5 3947.7 L751.8 3947.7 L753.1 3947.7 L754.4 3947.7 L755.7 3947.7 L757 3947.7 L758.3 3947.7 L759.6 3947.7 L760.9 3947.7 L762.2 3947.7 L763.5 3947.7 L764.8 3947.7 L766.1 3947.7 L767.4 3947.7 L768.7 3947.7 L770 3947.7 L771.3 3947.7 L772.6 3947.7 L773.9 3947.7 L775.2 3947.7 L776.5 3947.7 L777.8 3947.7 L779.1 3947.7 L780.4 3947.7 L781.7 3947.7 L783 3947.7 L784.3 3947.7 L785.6 3947.7 L786.9 3947.7 L788.2 3947.7 L789.5 3947.7 L790.8 3947.7 L792.1 3947.7 L793.4 3947.7 L794.7 3947.7 L796 3947.7 L797.3 3947.7 L798.6 3947.7 L799.9 3947.7 L801.2 3947.7 L802.5 3947.7 L803.8 3947.7 L805.1 3947.7 L806.4 3947.7 L807.7 3947.7 L809 3947.7 L810.3 3947.7 L811.6 3947.7 L812.9 3947.7 L814.2 3947.7 L815.5 3947.7 L816.8 3947.7 L818.1 3947.7 L819.4 3947.7 L820.7 3947.7 L822 3947.7 L823.3 3947.7 L824.6 3947.7 L825.9 3947.7 L827.2 3947.7 L828.5 3947.7 L829.8 3947.7 L831.1 3947.7 L832.4 3947.7 L833.7 3947.7 L835 3947.7 L836.3 3947.7 L837.6 3947.7 L838.9 3947.7 L840.2 3947.7 L841.5 3947.7 L842.8 3947.7 L844.1 3947.7 L845.4 3947.7 L846.7 3947.7 L848 3947.7 L849.3 3947.7 L850.6 3947.7 L851.9 3947.7 L853.2 3947.7 L854.5 3947.7 L855.8 3947.7 L857.1 3947.7 L858.4 3947.7 L859.7 3947.7 L861 3947.7 L862.3 3947.7 L863.6 3947.7 L864.9 3947.7 L866.2 3947.7 L867.5 3947.7 L868.8 3947.7 L870.1 3947.7 L871.4 3947.7 L872.7 3947.7 L874 3947.7 L875.3 3947.7 L876.6 3947.7 L877.9 3947.7 L879.2 3947.7 L880.5 3947.7 L881.8 3947.7 L883.1 3947.7 L884.4 3947.7 L885.7 3947.7 L887 3947.7 L888.3 3947.7 L889.6 3947.7 L890.9 3947.7 L892.2 3947.7 L893.5 3947.7 L894.8 3947.7 L896.1 3947.7 L897.4 3947.7 L898.7 3947.7 L900 3947.7 L901.3 3947.7 L902.6 3947.7 L903.9 3947.7 L905.2 3947.7 L906.5 3947.7 L907.8 3947.7 L909.1 3947.7 L910.4 3947.7 L911.7 3947.7 L913 3947.7 L914.3 3947.7 L915.6 3947.7 L916.9 3947.7 L918.2 3947.7 L919.5 3947.7 L920.8 3947.7 L922.1 3947.7 L923.4 3947.7 L924.7 3947.7 L926 3947.7 L927.3 3947.7 L928.6 3947.7 L929.9 3947.7 L931.2 3947.7 L932.5 3947.7 L933.8 3947.7 L935.1 3947.7 L936.4 3947.7 L937.7 3947.7 L939 3947.7 L940.3 3947.7 L941.6 3947.7 L942.9 3947.7 L944.2 3947.7 L945.5 3947.7 L946.8 3947.7 L948.1 3947.7 L949.4 3947.7 L950.7 3947.7 L952 3947.7 L953.3 3947.7 L954.6 3947.7 L955.9 3947.7 L957.2 3947.7 L958.5 3947.7 L959.8 3947.7 L961.1 3947.7 L962.4 3947.7 L963.8 3947.7 L965.1 3947.7 L966.4 3947.7 L967.7 3947.7 L969 3947.7 L970.3 3947.7 L971.6 3947.7 L972.9 3947.7 L974.2 3947.7 L975.5 3947.7 L976.8 3947.7 L978.1 3947.7 L979.4 3947.7 L980.7 3947.7 L982 3947.7 L983.3 3947.7 L984.6 3947.7 L985.9 3947.7 L987.2 3947.7 L988.5 3947.7 L989.8 3947.7 L991.1 3947.7 L992.4 3947.7 L993.7 3947.7 L995 3947.7 L996.3 3947.7 L997.6 3947.7 L998.9 3947.7 L1000.2 3947.7 L1001.5 3947.7 L1002.8 3947.7 L1004.1 3947.7 L1005.4 3947.7 L1006.7 3947.7 L1008 3947.7 L1009.3 3947.7 L1010.6 3947.7 L1011.9 3947.7 L1013.2 3947.7 L1014.5 3947.7 L1015.8 3947.7 L1017.1 3947.7 L1018.4 3947.7 L1019.7 3947.7 L1021 3947.7 L1022.3 3947.7 L1023.6 3947.7 L1024.9 3947.7 L1026.2 3947.7 L1027.5 3947.7 L1028.8 3947.7 L1030.1 3947.7 L1031.4 3947.7 L1032.7 3947.7 L1034 3947.7 L1035.3 3947.7 L1036.6 3947.7 L1037.9 3947.7 L1039.2 3947.7 L1040.5 3947.7 L1041.8 3947.7 L1043.1 3947.7 L1044.4 3947.7 L1045.7 3947.7 L1047 3947.7 L1048.3 3947.7 L1049.6 3947.7 L1050.9 3947.7 L1052.2 3947.7 L1053.5 3947.7 L1054.8 3947.7 L1056.1 3947.7 L1057.4 3947.7 L1058.7 3947.7 L1060 3947.7 L1061.3 3947.7 L1062.6 3947.7 L1063.9 3947.7 L1065.2 3947.7 L1066.5 3947.7 L1067.8 3947.7 L1069.1 3947.7 L1070.4 3947.7 L1071.7 3947.7 L1073 3947.7 L1074.3 3947.7 L1075.6 3947.7 L1076.9 3947.7 L1078.2 3947.7 L1079.5 3947.7 L1080.8 3947.7 L1082.1 3947.7 L1083.4 3947.7 L1084.7 3947.7 L1086 3947.7 L1087.3 3947.7 L1088.6 3947.7 L1089.9 3947.7 L1091.2 3947.7 L1092.5 3947.7 L1093.8 3947.7 L1095.1 3947.7 L1096.4 3947.7 L1097.7 3947.7 L1099 3947.7 L1100.3 3947.7 L1101.6 3947.7 L1102.9 3947.7 L1104.2 3947.7 L1105.5 3947.7 L1106.8 3947.7 L1108.1 3947.7 L1109.4 3947.7 L1110.7 3947.7 L1112 3947.7 L1113.3 3947.7 L1114.6 3947.7 L1115.9 3947.7 L1117.2 3947.7 L1118.5 3947.7 L1119.8 3947.7 L1121.1 3947.7 L1122.4 3947.7 L1123.7 3947.7 L1125 3947.7 L1126.3 3947.7 L1127.6 3947.7 L1128.9 3947.7 L1130.2 3947.7 L1131.5 3947.7 L1132.8 3947.7 L1134.1 3947.7 L1135.4 3947.7 L1136.7 3947.7 L1138 3947.7 L1139.3 3947.7 L1140.6 3947.7 L1141.9 3947.7 L1143.2 3947.7 L1144.5 3947.7 L1145.8 3947.7 L1147.1 3947.7 L1148.4 3947.7 L1149.7 3947.7 L1151 3947.7 L1152.3 3947.7 L1153.6 3947.7 L1154.9 3947.7 L1156.2 3947.7 L1157.5 3947.7 L1158.8 3947.7 L1160.1 3947.7 L1161.4 3947.7 L1162.7 3947.7 L1164 3947.7 L1165.3 3947.7 L1166.6 3947.7 L1167.9 3947.7 L1169.2 3947.7 L1170.5 3947.7 L1171.8 3947.7 L1173.1 3947.7 L1174.4 3947.7 L1175.7 3947.7 L1177 3947.7 L1178.3 3947.7 L1179.6 3947.7 L1180.9 3947.7 L1182.2 3947.7 L1183.5 3947.7 L1184.8 3947.7 L1186.1 3947.7 L1187.4 3947.7 L1188.7 3947.7 L1190 3947.7 L1191.3 3947.7 L1192.6 3947.7 L1193.9 3947.7 L1195.2 3947.7 L1196.5 3947.7 L1197.8 3947.7 L1199.1 3947.7 L1200.4 3947.7 L1201.7 3947.7 L1203 3947.7 L1204.3 3947.7 L1205.6 3947.7 L1206.9 3947.7 L1208.2 3947.7 L1209.5 3947.7 L1210.8 3947.7 L1212.1 3947.7 L1213.4 3947.7 L1214.7 3947.7 L1216 3947.7 L1217.3 3947.7 L1218.6 3947.7 L1219.9 3947.7 L1221.2 3947.7 L1222.5 3947.7 L1223.8 3947.7 L1225.1 3947.7 L1226.4 3947.7 L1227.7 3947.7 L1229 3947.7 L1230.3 3947.7 L1231.6 3947.7 L1232.9 3947.7 L1234.2 3947.7 L1235.5 3947.7 L1236.8 3947.7 L1238.1 3947.7 L1239.4 3947.7 L1240.7 3947.7 L1242 3947.7 L1243.3 3947.7 L1244.6 3947.7 L1245.9 3947.7 L1247.2 3947.7 L1248.5 3947.7 L1249.8 3947.7 L1251.1 3947.7 L1252.4 3947.7 L1253.7 3947.7 L1255 3947.7 L1256.3 3947.7 L1257.6 3947.7 L1258.9 3947.7 L1260.2 3947.7 L1261.5 3947.7 L1262.8 3947.7 L1264.1 3947.7 L1265.4 3947.7 L1266.7 3947.7 L1268 3947.7 L1269.3 3947.7 L1270.6 3947.7 L1271.9 3947.7 L1273.2 3947.7 L1274.5 3947.7 L1275.8 3947.7 L1277.1 3947.7 L1278.4 3947.7 L1279.7 3947.7 L1281 3947.7 L1282.3 3947.7 L1283.6 3947.7 L1284.9 3947.7 L1286.2 3947.7 L1287.5 3947.7 L1288.8 3947.7 L1290.1 3947.7 L1291.4 3947.7 L1292.7 3947.7 L1294 3947.7 L1295.3 3947.7 L1296.6 3947.7 L1297.9 3947.7 L1299.2 3947.7 L1300.5 3947.7 L1301.8 3947.7 L1303.1 3947.7 L1304.4 3947.7 L1305.7 3947.7 L1307 3947.7 L1308.3 3947.7 L1309.6 3947.7 L1310.9 3947.7 L1312.2 3947.7 L1313.5 3947.7 L1314.8 3947.7 L1316.1 3947.7 L1317.4 3947.7 L1318.7 3947.7 L1320 3947.7 L1321.3 3947.7 L1322.6 3947.7 L1323.9 3947.7 L1325.2 3947.7 L1326.5 3947.7 L1327.8 3947.7 L1329.1 3947.7 L1330.4 3947.7 L1331.7 3947.7 L1333 3947.7 L1334.3 3947.7 L1335.6 3947.7 L1336.9 3947.7 L1338.2 3947.7 L1339.5 3947.7 L1340.8 3947.7 L1342.1 3947.7 L1343.4 3947.7 L1344.7 3947.7 L1346 3947.7 L1347.3 3947.7 L1348.6 3947.7 L1349.9 3947.7 L1351.2 3947.7 L1352.5 3947.7 L1353.8 3947.7 L1355.1 3947.7 L1356.4 3947.7 L1357.7 3947.7 L1359 3947.7 L1360.3 3947.7 L1361.6 3947.7 L1362.9 3947.7 L1364.2 3947.7 L1365.5 3947.7 L1366.8 3947.7 L1368.1 3947.7 L1369.4 3947.7 L1370.7 3947.7 L1372 3947.7 L1373.3 3947.7 L1374.6 3947.7 L1375.9 3947.7 L1377.2 3947.7 L1378.5 3947.7 L1379.8 3947.7 L1381.1 3947.7 L1382.4 3947.7 L1383.7 3947.7 L1385 3947.7 L1386.3 3947.7 L1387.6 3947.7 L1388.9 3947.7 L1390.2 3947.7 L1391.5 3947.7 L1392.8 3947.7 L1394.1 3947.7 L1395.4 3947.7 L1396.7 3947.7 L1398 3947.7 L1399.3 3947.7 L1400.6 3947.7 L1401.9 3947.7 L1403.2 3947.7 L1404.5 3947.7 L1405.8 3947.7 L1407.1 3947.7 L1408.4 3947.7 L1409.7 3947.7 L1411 3947.7 L1412.3 3947.7 L1413.6 3947.7 L1414.9 3947.7 L1416.2 3947.7 L1417.5 3947.7 L1418.8 3947.7 L1420.1 3947.7 L1421.4 3947.7 L1422.7 3947.7 L1424 3947.7 L1425.3 3947.7 L1426.6 3947.7 L1427.9 3947.7 L1429.2 3947.7 L1430.5 3947.7 L1431.8 3947.7 L1433.1 3947.7 L1434.4 3947.7 L1435.7 3947.7 L1437 3947.7 L1438.3 3947.7 L1439.6 3947.7 L1440.9 3947.7 L1442.2 3947.7 L1443.5 3947.7 L1444.8 3947.7 L1446.1 3947.7 L1447.4 3947.7 L1448.7 3947.7 L1450 3947.7 L1451.3 3947.7 L1452.6 3947.7 L1453.9 3947.7 L1455.2 3947.7 L1456.5 3947.7 L1457.8 3947.7 L1459.1 3947.7 L1460.4 3947.7 L1461.7 3947.7 L1463 3947.7 L1464.3 3947.7 L1465.6 3947.7 L1466.9 3947.7 L1468.2 3947.7 L1469.5 3947.7 L1470.8 3947.7 L1472.1 3947.7 L1473.4 3947.7 L1474.7 3947.7 L1476 3947.7 L1477.3 3947.7 L1478.6 3947.7 L1479.9 3947.7 L1481.2 3947.7 L1482.5 3947.7 L1483.8 3947.7 L1485.1 3947.7 L1486.4 3947.7 L1487.7 3947.7 L1489 3947.7 L1490.3 3947.7 L1491.6 3947.7 L1492.9 3947.7 L1494.2 3947.7 L1495.5 3947.7 L1496.8 3947.7 L1498.1 3947.7 L1499.4 3947.7 L1500.7 3947.7 L1502 3947.7 L1503.3 3947.7 L1504.6 3947.7 L1505.9 3947.7 L1507.2 3947.7 L1508.5 3947.7 L1509.8 3947.7 L1511.1 3947.7 L1512.4 3947.7 L1513.7 3947.7 L1515 3947.7 L1516.3 3947.7 L1517.6 3947.7 L1518.9 3947.7 L1520.2 3947.7 L1521.5 3947.7 L1522.8 3947.7 L1524.1 3947.7 L1525.4 3947.7 L1526.7 3947.7 L1528 3947.7 L1529.3 3947.7 L1530.6 3947.7 L1531.9 3947.7 L1533.2 3947.7 L1534.5 3947.7 L1535.8 3947.7 L1537.1 3947.7 L1538.4 3947.7 L1539.7 3947.7 L1541 3947.7 L1542.3 3947.7 L1543.6 3947.7 L1544.9 3947.7 L1546.2 3947.7 L1547.5 3947.7 L1548.8 3947.7 L1550.1 3947.7 L1551.4 3947.7 L1552.7 3947.7 L1554 3947.7 L1555.3 3947.7 L1556.6 3947.7 L1557.9 3947.7 L1559.2 3947.7 L1560.5 3947.7 L1561.8 3947.7 L1563.1 3947.7 L1564.4 3947.7 L1565.7 3947.7 L1567 3947.7 L1568.3 3947.7 L1569.6 3947.7 L1570.9 3947.7 L1572.2 3947.7 L1573.5 3947.7 L1574.8 3947.7 L1576.1 3947.7 L1577.4 3947.7 L1578.7 3947.7 L1580 3947.7 L1581.3 3947.7 L1582.6 3947.7 L1583.9 3947.7 L1585.2 3947.7 L1586.5 3947.7 L1587.8 3947.7 L1589.1 3947.7 L1590.4 3947.7 L1591.7 3947.7 L1593 3947.7 L1594.3 3947.7 L1595.6 3947.7 L1596.9 3947.7 L1598.2 3947.7 L1599.5 3947.7 L1600.8 3947.7 L1602.1 3947.7 L1603.4 3947.7 L1604.7 3947.7 L1606 3947.7 L1607.3 3947.7 L1608.6 3947.7 L1609.9 3947.7 L1611.2 3947.7 L1612.5 3947.7 L1613.8 3947.7 L1615.1 3947.7 L1616.4 3947.7 L1617.7 3947.7 L1619 3947.7 L1620.3 3947.7 L1621.6 3947.7 L1622.9 3947.7 L1624.2 3947.7 L1625.5 3947.7 L1626.8 3947.7 L1628.1 3947.7 L1629.4 3947.7 L1630.7 3947.7 L1632 3947.7 L1633.3 3947.7 L1634.6 3947.7 L1635.9 3947.7 L1637.2 3947.7 L1638.5 3947.7 L1639.8 3947.7 L1641.1 3947.7 L1642.4 3947.7 L1643.7 3947.7 L1645 3947.7 L1646.3 3947.7 L1647.6 3947.7 L1648.9 3947.7 L1650.2 3947.7 L1651.5 3947.7 L1652.8 3947.7 L1654.1 3947.7 L1655.4 3947.7 L1656.7 3947.7 L1658 3947.7 L1659.3 3947.7 L1660.6 3947.7 L1661.9 3947.7 L1663.2 3947.7 L1664.5 3947.7 L1665.8 3947.7 L1667.1 3947.7 L1668.4 3947.7 L1669.7 3947.7 L1671 3947.7 L1672.3 3947.7 L1673.6 3947.7 L1674.9 3947.7 L1676.2 3947.7 L1677.5 3947.7 L1678.8 3947.7 L1680.1 3947.7 L1681.4 3947.7 L1682.7 3947.7" fill="none" stroke="#ff0000" stroke-width="2.6" stroke-linejoin="round" stroke-linecap="butt" clip-path="url(#pcL)"/>
<polygon points="260.8,3950 262.3,3715 262.3,3150 265.6,3150 265.6,3323 266.9,3323 266.9,3715 267.8,3950" fill="#ff0000" clip-path="url(#pcL)"/>
<path d="M264.4 2822.5 L264.4 3133.7" fill="none" stroke="#ff0000" stroke-width="3.1" stroke-linejoin="miter" stroke-linecap="butt" clip-path="url(#pcU)"/>
<path d="M264.4 3718 L264.4 3944" fill="none" stroke="#fff" stroke-width="1.1" stroke-linejoin="round" stroke-linecap="butt"/>
<path d="M243.5 3947.7 L244.8 3947.7 L246.1 3947.7 L247.4 3947.7 L248.7 3947.7 L250 3947.7 L251.3 3947.7 L252.6 3947.7 L254 3947.7 L255.3 3947.7 L256.6 3947.7 L257.9 3947.7 L259.2 3947.7 L260.5 3947.7 L261.8 3947.7 L263.1 3947.7 L264.4 3947.7 L265.7 3947.7 L267 3947.7 L268.3 3947.7 L269.6 3947.7 L270.9 3947.7 L272.2 3947.7 L273.5 3947.7 L274.9 3947.7 L276.2 3947.7 L277.5 3947.7 L278.8 3947.7 L280.1 3947.7 L281.4 3947.7 L282.7 3947.7 L284 3947.7 L285.3 3947.7 L286.6 3947.7 L287.9 3947.7 L289.2 3947.7 L290.5 3947.7 L291.8 3947.7 L293.1 3947.7 L294.4 3947.7 L295.8 3947.7 L297.1 3947.7 L298.4 3947.7 L299.7 3947.7 L301 3947.7 L302.3 3947.7 L303.6 3947.7 L304.9 3947.7 L306.2 3947.7 L307.5 3947.7 L308.8 3947.7 L310.1 3947.7 L311.4 3947.7 L312.7 3947.7 L314 3947.7 L315.4 3947.7 L316.7 3947.7 L318 3947.7 L319.3 3947.7 L320.6 3947.7 L321.9 3947.7 L323.2 3947.7 L324.5 3947.7 L325.8 3947.7 L327.1 3947.7 L328.4 3947.7 L329.7 3947.7 L331 3947.7 L332.3 3947.7 L333.6 3947.7 L334.9 3947.7 L336.3 3947.7 L337.6 3947.7 L338.9 3947.7 L340.2 3947.7 L341.5 3947.7 L342.8 3947.7 L344.1 3947.7 L345.4 3947.7 L346.7 3947.7 L348 3947.7 L349.3 3947.7 L350.6 3947.7 L351.9 3947.7 L353.2 3947.7 L354.5 3947.7 L355.8 3947.7 L357.2 3947.7 L358.5 3947.7 L359.8 3947.7 L361.1 3947.7 L362.4 3947.7 L363.7 3947.7 L365 3947.7 L366.3 3947.7 L367.6 3947.7 L368.9 3947.7 L370.2 3947.7 L371.5 3947.7 L372.8 3947.7 L374.1 3947.7 L375.4 3947.7 L376.8 3947.7 L378.1 3947.7 L379.4 3947.7 L380.7 3947.7 L382 3947.7 L383.5 3947.7 L385 3947.7 L386.4 3947.7 L387.8 3947.7 L389.1 3947.7 L390.5 3947.6 L391.9 3947.6 L393.3 3947.6 L394.7 3947.1 L396.1 3946.7 L397.5 3946.2 L398.9 3945.5 L400.2 3945.8 L401.6 3944.8 L403 3945.1 L404.4 3944.6 L405.8 3945.4 L407.2 3946 L408.6 3944.6 L410 3944.9 L411.3 3945.9 L412.7 3945.7 L414.1 3946.3 L415.5 3945.7 L416.9 3945.2 L418.3 3946.1 L419.7 3946.1 L421.1 3945.7 L422.4 3945.9 L423.8 3945.8 L425.2 3945.3 L426.6 3944.1 L428 3943.7 L429.4 3945 L430.8 3944.9 L432.2 3944.9 L433.5 3943.7 L434.9 3944 L436.3 3945.1 L437.7 3943.8 L439.1 3944.2 L440.5 3945.1 L441.9 3946 L443.3 3945.7 L444.6 3945.2 L445.9 3945.5 L447.2 3946.3 L448.5 3945.9 L449.9 3945.4 L451.2 3945.8 L452.5 3946.4 L453.8 3945.9 L455.1 3945.9 L456.5 3946.7 L457.8 3946.1 L459.1 3946.2 L460.4 3946 L461.8 3946.7 L463.1 3946.3 L464.4 3945.4 L465.7 3945.9 L467 3945.9 L468.4 3945.8 L469.7 3945.9 L471 3946.2 L472.4 3946.1 L473.8 3946.1 L475.2 3945.5 L476.6 3946.2 L477.9 3945.2 L479.3 3945.7 L480.7 3945.2 L482.1 3946.1 L483.5 3946.4 L484.9 3946.6 L486.3 3945.7 L487.7 3946.5 L489 3946.2 L490.4 3946.3 L491.8 3946.4 L493.2 3946.5 L494.6 3946.5 L496 3946.6 L497.4 3946.7 L498.8 3946.8 L500.1 3946.7 L501.5 3946.6 L502.9 3946.4 L504.3 3946.3 L505.7 3946.2 L507.1 3945.8 L508.5 3946.3 L509.9 3945.6 L511.2 3945.1 L512.6 3945.7 L514 3945.7 L515.4 3945.8 L516.8 3945.3 L518.2 3946.2 L519.6 3946.2 L521 3946.3 L522.3 3946.4 L523.7 3946.6 L525.1 3946.7 L526.5 3946.8 L527.8 3946.8 L529.2 3946.9 L530.5 3946.9 L531.8 3946.9 L533.1 3947 L534.4 3947 L535.8 3947.1 L537.1 3947.1 L538.4 3947.1 L539.7 3947.2 L541 3947.2 L542.4 3947.2 L543.7 3947.3 L545 3947.3 L546.3 3947.4 L547.7 3947.4 L549 3947.4 L550.3 3947.5 L551.6 3947.5 L552.9 3947.6 L554.3 3947.6 L555.6 3947.6 L556.9 3947.6 L558.2 3947.6 L559.6 3947.6 L560.9 3947.6 L562.2 3947.6 L563.5 3947.6 L564.8 3947.6 L566.2 3947.6 L567.5 3947.7 L568.8 3947.7 L570.1 3947.7 L571.4 3947.7 L572.8 3947.7 L574.1 3947.7 L575.4 3947.7 L576.7 3947.7 L578.1 3947.7 L579.4 3947.7 L580.7 3947.7 L582 3947.7 L583.4 3947.7 L584.8 3947.7 L586.2 3947.7 L587.6 3947.7 L589 3947.7 L590.3 3947.7 L591.7 3947.7 L593.1 3947.7 L594.5 3947.7 L595.9 3947.7 L597.3 3947.7 L598.7 3947.7 L600 3947.7 L601.3 3947.7 L602.6 3947.7 L603.9 3947.7 L605.2 3947.7 L606.5 3947.7 L607.8 3947.7 L609.1 3947.7 L610.4 3947.7 L611.7 3947.7 L613 3947.7 L614.3 3947.7 L615.6 3947.7 L616.9 3947.7 L618.2 3947.7 L619.5 3947.7 L620.8 3947.7 L622.1 3947.7 L623.4 3947.7 L624.7 3947.7 L626 3947.7 L627.3 3947.7 L628.6 3947.7 L629.9 3947.7 L631.2 3947.7 L632.5 3947.7 L633.8 3947.7 L635.1 3947.7 L636.4 3947.7 L637.7 3947.7 L639 3947.7 L640.3 3947.7 L641.6 3947.7 L642.9 3947.7 L644.2 3947.7 L645.5 3947.7 L646.8 3947.7 L648.1 3947.7 L649.4 3947.7 L650.7 3947.7 L652 3947.7 L653.3 3947.7 L654.6 3947.7 L655.9 3947.7 L657.2 3947.7 L658.5 3947.7 L659.8 3947.7 L661.1 3947.7 L662.4 3947.7 L663.7 3947.7 L665 3947.7 L666.3 3947.7 L667.6 3947.7 L668.9 3947.7 L670.2 3947.7 L671.5 3947.7 L672.8 3947.7 L674.1 3947.7 L675.4 3947.7 L676.7 3947.7 L678 3947.7 L679.3 3947.7 L680.6 3947.7 L681.9 3947.7 L683.2 3947.7 L684.5 3947.7 L685.8 3947.7 L687.1 3947.7 L688.4 3947.7 L689.7 3947.7 L691 3947.7 L692.3 3947.7 L693.6 3947.7 L694.9 3947.7 L696.2 3947.7 L697.5 3947.7 L698.8 3947.7 L700.1 3947.7 L701.4 3947.7 L702.7 3947.7 L704 3947.7 L705.3 3947.7 L706.6 3947.7 L707.9 3947.7 L709.2 3947.7 L710.5 3947.7 L711.8 3947.7 L713.1 3947.7 L714.4 3947.7 L715.7 3947.7 L717 3947.7 L718.3 3947.7 L719.6 3947.7 L720.9 3947.7 L722.2 3947.7 L723.5 3947.7 L724.8 3947.7 L726.1 3947.7 L727.4 3947.7 L728.7 3947.7 L730 3947.7 L731.3 3947.7 L732.6 3947.7 L733.9 3947.7 L735.2 3947.7 L736.5 3947.7 L737.8 3947.7 L739.1 3947.7 L740.4 3947.7 L741.7 3947.7 L743 3947.7 L744.3 3947.7 L745.6 3947.7 L746.9 3947.7 L748.2 3947.7 L749.5 3947.7 L750.8 3947.7 L752.1 3947.7 L753.4 3947.7 L754.7 3947.7 L756 3947.7 L757.3 3947.7 L758.6 3947.7 L759.9 3947.7 L761.2 3947.7 L762.5 3947.7 L763.8 3947.7 L765.1 3947.7 L766.4 3947.7 L767.7 3947.7 L769 3947.7 L770.3 3947.7 L771.6 3947.7 L772.9 3947.7 L774.2 3947.7 L775.5 3947.7 L776.8 3947.7 L778.1 3947.7 L779.4 3947.7 L780.8 3947.7 L782.1 3947.7 L783.4 3947.7 L784.7 3947.7 L786 3947.7 L787.3 3947.7 L788.6 3947.7 L789.9 3947.7 L791.2 3947.7 L792.5 3947.7 L793.8 3947.7 L795.1 3947.7 L796.4 3947.7 L797.7 3947.7 L799 3947.7 L800.3 3947.7 L801.6 3947.7 L802.9 3947.7 L804.2 3947.7 L805.5 3947.7 L806.8 3947.7 L808.1 3947.7 L809.4 3947.7 L810.7 3947.7 L812 3947.7 L813.3 3947.7 L814.6 3947.7 L815.9 3947.7 L817.2 3947.7 L818.5 3947.7 L819.8 3947.7 L821.1 3947.7 L822.4 3947.7 L823.7 3947.7 L825 3947.7 L826.3 3947.7 L827.6 3947.7 L828.9 3947.7 L830.2 3947.7 L831.5 3947.7 L832.8 3947.7 L834.1 3947.7 L835.4 3947.7 L836.7 3947.7 L838 3947.7 L839.3 3947.7 L840.6 3947.7 L841.9 3947.7 L843.2 3947.7 L844.5 3947.7 L845.8 3947.7 L847.1 3947.7 L848.4 3947.7 L849.7 3947.7 L851 3947.7 L852.3 3947.7 L853.6 3947.7 L854.9 3947.7 L856.2 3947.7 L857.5 3947.7 L858.8 3947.7 L860.1 3947.7 L861.4 3947.7 L862.7 3947.7 L864 3947.7 L865.3 3947.7 L866.6 3947.7 L867.9 3947.7 L869.2 3947.7 L870.5 3947.7 L871.8 3947.7 L873.1 3947.7 L874.4 3947.7 L875.7 3947.7 L877 3947.7 L878.3 3947.7 L879.6 3947.7 L880.9 3947.7 L882.2 3947.7 L883.5 3947.7 L884.8 3947.7 L886.1 3947.7 L887.4 3947.7 L888.7 3947.7 L890 3947.7 L891.3 3947.7 L892.6 3947.7 L893.9 3947.7 L895.2 3947.7 L896.5 3947.7 L897.8 3947.7 L899.1 3947.7 L900.4 3947.7 L901.7 3947.7 L903 3947.7 L904.3 3947.7 L905.6 3947.7 L906.9 3947.7 L908.2 3947.7 L909.5 3947.7 L910.8 3947.7 L912.1 3947.7 L913.4 3947.7 L914.7 3947.7 L916 3947.7 L917.3 3947.7 L918.6 3947.7 L919.9 3947.7 L921.2 3947.7 L922.5 3947.7 L923.8 3947.7 L925.1 3947.7 L926.4 3947.7 L927.7 3947.7 L929 3947.7 L930.3 3947.7 L931.6 3947.7 L932.9 3947.7 L934.2 3947.7 L935.5 3947.7 L936.8 3947.7 L938.1 3947.7 L939.4 3947.7 L940.7 3947.7 L942 3947.7 L943.3 3947.7 L944.6 3947.7 L945.9 3947.7 L947.2 3947.7 L948.5 3947.7 L949.8 3947.7 L951.1 3947.7 L952.4 3947.7 L953.7 3947.7 L955 3947.7 L956.3 3947.7 L957.6 3947.7 L958.9 3947.7 L960.2 3947.7 L961.5 3947.7 L962.8 3947.7 L964.1 3947.7 L965.4 3947.7 L966.7 3947.7 L968 3947.7 L969.3 3947.7 L970.6 3947.7 L971.9 3947.7 L973.2 3947.7 L974.5 3947.7 L975.8 3947.7 L977.1 3947.7 L978.4 3947.7 L979.7 3947.7 L981 3947.7 L982.3 3947.7 L983.6 3947.7 L984.9 3947.7 L986.2 3947.7 L987.5 3947.7 L988.8 3947.7 L990.1 3947.7 L991.4 3947.7 L992.7 3947.7 L994 3947.7 L995.3 3947.7 L996.6 3947.7 L997.9 3947.7 L999.2 3947.7 L1000.5 3947.7 L1001.9 3947.7 L1003.2 3947.7 L1004.5 3947.7 L1005.8 3947.7 L1007.1 3947.7 L1008.4 3947.7 L1009.7 3947.7 L1011 3947.7 L1012.3 3947.7 L1013.6 3947.7 L1014.9 3947.7 L1016.2 3947.7 L1017.5 3947.7 L1018.8 3947.7 L1020.1 3947.7 L1021.4 3947.7 L1022.7 3947.7 L1024 3947.7 L1025.3 3947.7 L1026.6 3947.7 L1027.9 3947.7 L1029.2 3947.7 L1030.5 3947.7 L1031.8 3947.7 L1033.1 3947.7 L1034.4 3947.7 L1035.7 3947.7 L1037 3947.7 L1038.3 3947.7 L1039.6 3947.7 L1040.9 3947.7 L1042.2 3947.7 L1043.5 3947.7 L1044.8 3947.7 L1046.1 3947.7 L1047.4 3947.7 L1048.7 3947.7 L1050 3947.7 L1051.3 3947.7 L1052.6 3947.7 L1053.9 3947.7 L1055.2 3947.7 L1056.5 3947.7 L1057.8 3947.7 L1059.1 3947.7 L1060.4 3947.7 L1061.7 3947.7 L1063 3947.7 L1064.3 3947.7 L1065.6 3947.7 L1066.9 3947.7 L1068.2 3947.7 L1069.5 3947.7 L1070.8 3947.7 L1072.1 3947.7 L1073.4 3947.7 L1074.7 3947.7 L1076 3947.7 L1077.3 3947.7 L1078.6 3947.7 L1079.9 3947.7 L1081.2 3947.7 L1082.5 3947.7 L1083.8 3947.7 L1085.1 3947.7 L1086.4 3947.7 L1087.7 3947.7 L1089 3947.7 L1090.3 3947.7 L1091.6 3947.7 L1092.9 3947.7 L1094.2 3947.7 L1095.5 3947.7 L1096.8 3947.7 L1098.1 3947.7 L1099.4 3947.7 L1100.7 3947.7 L1102 3947.7 L1103.3 3947.7 L1104.6 3947.7 L1105.9 3947.7 L1107.2 3947.7 L1108.5 3947.7 L1109.8 3947.7 L1111.1 3947.7 L1112.4 3947.7 L1113.7 3947.7 L1115 3947.7 L1116.3 3947.7 L1117.6 3947.7 L1118.9 3947.7 L1120.2 3947.7 L1121.5 3947.7 L1122.8 3947.7 L1124.1 3947.7 L1125.4 3947.7 L1126.7 3947.7 L1128 3947.7 L1129.3 3947.7 L1130.6 3947.7 L1131.9 3947.7 L1133.2 3947.7 L1134.5 3947.7 L1135.8 3947.7 L1137.1 3947.7 L1138.4 3947.7 L1139.2 3889 L1139.7 3827.5 L1140.5 3645.7 L1141.7 3471.6 L1142.5 3325.6 L1143.5 3325.6 L1144.6 3489.5 L1145.3 3684.1 L1146.1 3799.4 L1146.9 3947.7 L1148.3 3947.7 L1149.8 3947.7 L1151.2 3947.7 L1152.8 3947.5 L1154.3 3947.3 L1155.8 3934 L1156.9 3689.2 L1157.6 3479.3 L1158.1 3300 L1158.6 3184.8 L1159.2 3184.8 L1159.7 3248.8 L1160.4 3479.3 L1161.5 3768.6 L1162.7 3889 L1164 3931.2 L1164 3926.9 L1166.1 3923.5 L1168.1 3901.8 L1169.1 3860.4 L1170.1 3825.1 L1171.1 3803.9 L1171.3 3578.9 L1171.6 3417.8 L1171.9 3417.8 L1172.3 3548.6 L1173.1 3639.5 L1174.5 3647.1 L1175.9 3653.8 L1177.3 3677.8 L1178.7 3700 L1179.2 3730.3 L1179.7 3755.5 L1180.2 3780.7 L1181.4 3781.7 L1182.7 3765.6 L1183.4 3700 L1183.8 3629.4 L1184.2 3626.3 L1184.6 3659.6 L1185 3740.4 L1185.2 3788.8 L1186 3840.3 L1187 3911.9 L1188.3 3924.6 L1189.3 3926.9 L1190.3 3929.6 L1191.8 3930.9 L1193.3 3927.1 L1194.8 3929.1 L1196.6 3925.2 L1198.3 3924.1 L1200.4 3906.9 L1201.4 3863.5 L1202.4 3833.2 L1203.4 3807 L1204.4 3806.5 L1206.4 3813 L1207.9 3820.1 L1208.9 3831.2 L1210.5 3832.2 L1212.5 3831.2 L1215 3829.2 L1216 3819.1 L1217 3792.8 L1218.3 3787.3 L1219.5 3816 L1220.5 3844.3 L1221 3876.6 L1221.6 3896.8 L1222.6 3919.1 L1224.1 3928 L1226.6 3938 L1227.9 3939.8 L1229.3 3941.1 L1230.6 3943.2 L1232.3 3944.9 L1234 3944.9 L1235.7 3946.2 L1237.4 3946.7 L1239 3947.2 L1240.7 3947.7 L1242.4 3947.7 L1244.1 3947.7 L1245.8 3947.7 L1247.1 3947.7 L1248.4 3947.7 L1249.7 3947.7 L1251 3947.7 L1252.4 3947.7 L1253.7 3947.7 L1255 3947.7 L1256.3 3947.7 L1257.6 3947.7 L1259 3947.7 L1260.3 3947.7 L1261.6 3947.7 L1262.9 3947.7 L1264.2 3947.7 L1265.5 3947.7 L1266.9 3947.7 L1268.2 3947.7 L1269.5 3947.7 L1270.8 3947.7 L1272.5 3947.7 L1274.1 3947.7 L1275.8 3947.7 L1277.5 3944.8 L1279.1 3943.5 L1280.7 3942.8 L1282.3 3941.8 L1283.8 3941.5 L1285.4 3940.2 L1286.7 3940.6 L1288 3941.6 L1289.3 3941.2 L1290.6 3943.1 L1291.9 3942.8 L1293.2 3943.6 L1294.5 3944.6 L1295.8 3944.4 L1297.2 3944.9 L1298.6 3943.7 L1300 3944.6 L1301.3 3944 L1302.7 3943.5 L1304.1 3943.5 L1305.5 3943.3 L1306.9 3942.4 L1308.3 3942.5 L1309.7 3942.1 L1311.1 3942.5 L1312.4 3941.5 L1313.8 3941.5 L1315.2 3939.9 L1316.6 3939.2 L1318 3940.9 L1319.4 3938.6 L1320.8 3939.3 L1322.3 3938.5 L1323.9 3940.1 L1325.5 3938.8 L1327 3938.4 L1328.6 3939.4 L1330.1 3939.1 L1331.7 3941.2 L1333.3 3941.5 L1334.6 3941.2 L1335.9 3941.4 L1337.2 3942.1 L1338.5 3941.5 L1339.8 3943.5 L1341.1 3943.1 L1342.4 3942.7 L1343.7 3943.5 L1345.1 3943 L1346.4 3944.9 L1347.8 3944.1 L1349.2 3945.2 L1350.6 3945.2 L1352 3945.6 L1353.4 3944.4 L1354.8 3945.1 L1356.2 3943.4 L1357.5 3943.8 L1358.9 3941.5 L1360.3 3941.5 L1361.7 3941.1 L1363.1 3941.4 L1364.5 3941.6 L1365.9 3942.1 L1367.3 3942.6 L1368.6 3941.5 L1370.2 3942.8 L1371.8 3943.5 L1373.3 3943.2 L1374.9 3943.5 L1376.3 3943.3 L1377.7 3942.7 L1379 3943.1 L1380.4 3943.9 L1381.8 3943.8 L1383.2 3943.3 L1384.6 3943.2 L1386 3942.9 L1387.4 3942.7 L1388.7 3942.2 L1390 3943.1 L1391.3 3941.5 L1392.6 3941.6 L1393.9 3942.2 L1395.2 3942.2 L1396.5 3942.7 L1397.8 3941.9 L1399.9 3946.9 L1401.2 3946.8 L1402.6 3946.7 L1404 3946.6 L1405.4 3946.4 L1406.8 3946.3 L1408.2 3946.2 L1409.6 3946.4 L1411 3945.9 L1412.3 3946.3 L1413.7 3945.2 L1415.1 3946 L1416.5 3945.6 L1417.8 3945.2 L1419.1 3946.2 L1420.4 3945.5 L1421.7 3946.1 L1423 3946.3 L1424.3 3946.4 L1425.6 3946.5 L1426.9 3946.7 L1428.2 3946.8 L1429.5 3946.9 L1430.8 3947 L1432.1 3947.2 L1433.4 3947.3 L1434.7 3947.4 L1436 3947.6 L1437.3 3947.7 L1438.7 3947.7 L1440 3947.7 L1441.3 3947.7 L1442.6 3947.7 L1443.9 3947.7 L1445.3 3947.7 L1446.6 3947.7 L1447.9 3947.7 L1449.2 3947.7 L1450.6 3947.7 L1451.9 3947.7 L1453.2 3947.7 L1454.5 3947.7 L1455.9 3947.7 L1457.2 3947.7 L1458.5 3947.7 L1459.8 3947.7 L1461.2 3947.7 L1462.5 3947.7 L1463.8 3947.7 L1465.1 3947.7 L1466.5 3947.7 L1467.8 3947.7 L1469.1 3947.7 L1470.5 3947.7 L1471.8 3947.7 L1473.1 3947.7 L1474.5 3947.7 L1475.8 3947.7 L1477.1 3947.7 L1478.5 3947.7 L1479.8 3947.7 L1481.1 3947.7 L1482.5 3947.7 L1483.8 3947.7 L1485.1 3947.7 L1486.4 3947.7 L1487.8 3947.7 L1489.1 3947.7 L1490.4 3947.7 L1491.8 3947.7 L1493.1 3947.7 L1494.4 3947.7 L1495.8 3947.7 L1497.1 3947.7 L1498.4 3947.7 L1499.8 3947.7 L1501.3 3947.7 L1502.8 3947.7 L1504.1 3947.7 L1505.4 3947.7 L1506.7 3947.7 L1508 3947.7 L1509.3 3947.7 L1510.6 3947.7 L1511.9 3947.7 L1513.2 3947.7 L1514.5 3947.7 L1515.8 3947.7 L1517.1 3947.7 L1518.4 3947.7 L1519.7 3947.7 L1521 3947.7 L1522.3 3947.7 L1523.6 3947.7 L1524.9 3947.7 L1526.2 3947.7 L1527.5 3947.7 L1528.8 3947.7 L1530.1 3947.7 L1531.5 3947.7 L1532.8 3947.7 L1534.1 3947.7 L1535.4 3947.7 L1536.7 3947.7 L1538 3947.7 L1539.3 3947.7 L1540.6 3947.7 L1541.9 3947.7 L1543.2 3947.7 L1544.5 3947.7 L1545.8 3947.7 L1547.1 3947.7 L1548.4 3947.7 L1549.7 3947.7 L1551 3947.7 L1552.3 3947.7 L1553.6 3947.7 L1554.9 3947.7 L1556.2 3947.7 L1557.5 3947.7 L1558.8 3947.7 L1560.1 3947.7 L1561.4 3947.7 L1562.7 3947.7 L1564 3947.7 L1565.4 3947.7 L1566.7 3947.7 L1568 3947.7 L1569.3 3947.7 L1570.6 3947.7 L1571.9 3947.7 L1573.2 3947.7 L1574.5 3947.7 L1575.8 3947.7 L1577.1 3947.7 L1578.4 3947.7 L1579.7 3947.7 L1581 3947.7 L1582.3 3947.7 L1583.6 3947.7 L1584.9 3947.7 L1586.2 3947.7 L1587.5 3947.7 L1588.8 3947.7 L1590.1 3947.7 L1591.4 3947.7 L1592.7 3947.7 L1594 3947.7 L1595.3 3947.7 L1596.6 3947.7 L1597.9 3947.7 L1599.3 3947.7 L1600.6 3947.7 L1601.9 3947.7 L1603.2 3947.7 L1604.5 3947.7 L1605.8 3947.7 L1607.1 3947.7 L1608.4 3947.7 L1609.7 3947.7 L1611 3947.7 L1612.3 3947.7 L1613.6 3947.7 L1614.9 3947.7 L1616.2 3947.7 L1617.5 3947.7 L1618.8 3947.7 L1620.1 3947.7 L1621.4 3947.7 L1622.7 3947.7 L1624 3947.7 L1625.3 3947.7 L1626.6 3947.7 L1627.9 3947.7 L1629.2 3947.7 L1630.5 3947.7 L1631.8 3947.7 L1633.2 3947.7 L1634.5 3947.7 L1635.8 3947.7 L1637.1 3947.7 L1638.4 3947.7 L1639.7 3947.7 L1641 3947.7 L1642.3 3947.7 L1643.6 3947.7 L1644.9 3947.7 L1646.2 3947.7 L1647.5 3947.7 L1648.8 3947.7 L1650.1 3947.7 L1651.4 3947.7 L1652.7 3947.7 L1654 3947.7 L1655.3 3947.7 L1656.6 3947.7 L1657.9 3947.7 L1659.2 3947.7 L1660.5 3947.7 L1661.8 3947.7 L1663.1 3947.7 L1664.4 3947.7 L1665.7 3947.7 L1667.1 3947.7 L1668.4 3947.7 L1669.7 3947.7 L1671 3947.7 L1672.3 3947.7 L1673.6 3947.7 L1674.9 3947.7 L1676.2 3947.7 L1677.5 3947.7 L1678.8 3947.7 L1680.1 3947.7 L1681.4 3947.7 L1682.7 3947.7" fill="none" stroke="#0000ff" stroke-width="2.6" stroke-linejoin="round" stroke-linecap="butt" clip-path="url(#pcL)"/>
<path d="M243.5 3947.7 L244.8 3947.7 L246.1 3947.7 L247.4 3947.7 L248.7 3947.7 L250 3947.7 L251.3 3947.7 L252.6 3947.7 L254 3947.7 L255.3 3947.7 L256.6 3947.7 L257.9 3947.7 L259.2 3947.7 L260.5 3947.7 L261.8 3947.7 L263.1 3947.7 L264.4 3947.7 L265.7 3947.7 L267 3947.7 L268.3 3947.7 L269.6 3947.7 L270.9 3947.7 L272.2 3947.7 L273.5 3947.7 L274.9 3947.7 L276.2 3947.7 L277.5 3947.7 L278.8 3947.7 L280.1 3947.7 L281.4 3947.7 L282.7 3947.7 L284 3947.7 L285.3 3947.7 L286.6 3947.7 L287.9 3947.7 L289.2 3947.7 L290.5 3947.7 L291.8 3947.7 L293.1 3947.7 L294.4 3947.7 L295.8 3947.7 L297.1 3947.7 L298.4 3947.7 L299.7 3947.7 L301 3947.7 L302.3 3947.7 L303.6 3947.7 L304.9 3947.7 L306.2 3947.7 L307.5 3947.7 L308.8 3947.7 L310.1 3947.7 L311.4 3947.7 L312.7 3947.7 L314 3947.7 L315.4 3947.7 L316.7 3947.7 L318 3947.7 L319.3 3947.7 L320.6 3947.7 L321.9 3947.7 L323.2 3947.7 L324.5 3947.7 L325.8 3947.7 L327.1 3947.7 L328.4 3947.7 L329.7 3947.7 L331 3947.7 L332.3 3947.7 L333.6 3947.7 L334.9 3947.7 L336.3 3947.7 L337.6 3947.7 L338.9 3947.7 L340.2 3947.7 L341.5 3947.7 L342.8 3947.7 L344.1 3947.7 L345.4 3947.7 L346.7 3947.7 L348 3947.7 L349.3 3947.7 L350.6 3947.7 L351.9 3947.7 L353.2 3947.7 L354.5 3947.7 L355.8 3947.7 L357.2 3947.7 L358.5 3947.7 L359.8 3947.7 L361.1 3947.7 L362.4 3947.7 L363.7 3947.7 L365 3947.7 L366.3 3947.7 L367.6 3947.7 L368.9 3947.7 L370.2 3947.7 L371.5 3947.7 L372.8 3947.7 L374.1 3947.7 L375.4 3947.7 L376.8 3947.7 L378.1 3947.7 L379.4 3947.7 L380.7 3947.7 L382 3947.7 L383.5 3947.7 L385 3947.7 L386.4 3947.7 L387.8 3947.7 L389.1 3947.7 L390.5 3947.7 L391.9 3947.7 L393.3 3947.7 L394.7 3947.5 L396.1 3947.4 L397.5 3947.2 L398.9 3947.1 L400.2 3946.9 L401.6 3946.8 L403 3946.8 L404.4 3946.8 L405.8 3946.8 L407.2 3946.8 L408.6 3946.8 L410 3946.8 L411.3 3946.8 L412.7 3946.8 L414.1 3946.8 L415.5 3946.8 L416.8 3946.7 L418.1 3946.7 L419.4 3946.7 L420.7 3946.6 L422 3946.6 L423.3 3946.6 L424.6 3946.5 L426 3946.5 L427.3 3946.5 L428.6 3946.4 L429.9 3946.4 L431.2 3946.4 L432.5 3946.3 L433.8 3946.3 L435.1 3946.3 L436.4 3946.3 L437.7 3946.2 L439 3946.3 L440.4 3946.3 L441.7 3946.4 L443 3946.4 L444.4 3946.4 L445.7 3946.5 L447 3946.5 L448.4 3946.6 L449.7 3946.6 L451 3946.7 L452.4 3946.7 L453.7 3946.8 L455 3946.8 L456.4 3946.8 L457.7 3946.9 L459 3946.9 L460.4 3947 L461.7 3947 L463 3947.1 L464.3 3947.1 L465.7 3947.2 L467 3947.2 L468.3 3947.2 L469.7 3947.3 L471 3947.3 L472.3 3947.3 L473.7 3947.3 L475 3947.4 L476.3 3947.4 L477.6 3947.4 L478.9 3947.4 L480.3 3947.4 L481.6 3947.4 L482.9 3947.4 L484.2 3947.4 L485.5 3947.4 L486.9 3947.4 L488.2 3947.4 L489.5 3947.5 L490.8 3947.5 L492.2 3947.5 L493.5 3947.5 L494.8 3947.5 L496.1 3947.5 L497.4 3947.5 L498.8 3947.5 L500.1 3947.5 L501.4 3947.5 L502.7 3947.5 L504 3947.5 L505.4 3947.6 L506.7 3947.6 L508 3947.6 L509.3 3947.6 L510.7 3947.6 L512 3947.6 L513.3 3947.6 L514.6 3947.6 L515.9 3947.6 L517.3 3947.6 L518.6 3947.6 L519.9 3947.7 L521.2 3947.7 L522.5 3947.7 L523.9 3947.7 L525.2 3947.7 L526.5 3947.7 L527.8 3947.7 L529.1 3947.7 L530.4 3947.7 L531.8 3947.7 L533.1 3947.7 L534.4 3947.7 L535.7 3947.7 L537 3947.7 L538.3 3947.7 L539.6 3947.7 L540.9 3947.7 L542.3 3947.7 L543.6 3947.7 L544.9 3947.7 L546.2 3947.7 L547.5 3947.7 L548.8 3947.7 L550.1 3947.7 L551.4 3947.7 L552.8 3947.7 L554.1 3947.7 L555.4 3947.7 L556.7 3947.7 L558 3947.7 L559.3 3947.7 L560.6 3947.7 L561.9 3947.7 L563.2 3947.7 L564.6 3947.7 L565.9 3947.7 L567.2 3947.7 L568.5 3947.7 L569.8 3947.7 L571.1 3947.7 L572.4 3947.7 L573.7 3947.7 L575.1 3947.7 L576.4 3947.7 L577.7 3947.7 L579 3947.7 L580.3 3947.7 L581.6 3947.7 L582.9 3947.7 L584.2 3947.7 L585.5 3947.7 L586.9 3947.7 L588.2 3947.7 L589.5 3947.7 L590.8 3947.7 L592.1 3947.7 L593.4 3947.7 L594.7 3947.7 L596 3947.7 L597.4 3947.7 L598.7 3947.7 L600 3947.7 L601.3 3947.7 L602.6 3947.7 L603.9 3947.7 L605.2 3947.7 L606.5 3947.7 L607.8 3947.7 L609.1 3947.7 L610.4 3947.7 L611.7 3947.7 L613 3947.7 L614.3 3947.7 L615.6 3947.7 L616.9 3947.7 L618.2 3947.7 L619.5 3947.7 L620.8 3947.7 L622.1 3947.7 L623.4 3947.7 L624.7 3947.7 L626 3947.7 L627.3 3947.7 L628.6 3947.7 L629.9 3947.7 L631.2 3947.7 L632.5 3947.7 L633.8 3947.7 L635.1 3947.7 L636.4 3947.7 L637.7 3947.7 L639 3947.7 L640.3 3947.7 L641.6 3947.7 L642.9 3947.7 L644.2 3947.7 L645.5 3947.7 L646.8 3947.7 L648.1 3947.7 L649.4 3947.7 L650.7 3947.7 L652 3947.7 L653.3 3947.7 L654.6 3947.7 L655.9 3947.7 L657.2 3947.7 L658.5 3947.7 L659.8 3947.7 L661.1 3947.7 L662.4 3947.7 L663.7 3947.7 L665 3947.7 L666.4 3947.7 L667.7 3947.7 L669 3947.7 L670.3 3947.7 L671.6 3947.7 L672.9 3947.7 L674.2 3947.7 L675.5 3947.7 L676.8 3947.7 L678.1 3947.7 L679.4 3947.7 L680.7 3947.7 L682 3947.7 L683.3 3947.7 L684.6 3947.7 L685.9 3947.7 L687.2 3947.7 L688.5 3947.7 L689.8 3947.7 L691.1 3947.7 L692.4 3947.7 L693.7 3947.7 L695 3947.7 L696.3 3947.7 L697.6 3947.7 L698.9 3947.7 L700.2 3947.7 L701.5 3947.7 L702.8 3947.7 L704.1 3947.7 L705.4 3947.7 L706.7 3947.7 L708 3947.7 L709.3 3947.7 L710.6 3947.7 L711.9 3947.7 L713.2 3947.7 L714.5 3947.7 L715.8 3947.7 L717.1 3947.7 L718.4 3947.7 L719.7 3947.7 L721 3947.7 L722.3 3947.7 L723.6 3947.7 L724.9 3947.7 L726.2 3947.7 L727.5 3947.7 L728.8 3947.7 L730.1 3947.7 L731.4 3947.7 L732.7 3947.7 L734 3947.7 L735.3 3947.7 L736.6 3947.7 L737.9 3947.7 L739.2 3947.7 L740.5 3947.7 L741.8 3947.7 L743.1 3947.7 L744.4 3947.7 L745.7 3947.7 L747.1 3947.7 L748.4 3947.7 L749.7 3947.7 L751 3947.7 L752.3 3947.7 L753.6 3947.7 L754.9 3947.7 L756.2 3947.7 L757.5 3947.7 L758.8 3947.7 L760.1 3947.7 L761.4 3947.7 L762.7 3947.7 L764 3947.7 L765.3 3947.7 L766.6 3947.7 L767.9 3947.7 L769.2 3947.7 L770.5 3947.7 L771.8 3947.7 L773.1 3947.7 L774.4 3947.7 L775.7 3947.7 L777 3947.7 L778.3 3947.7 L779.6 3947.7 L780.9 3947.7 L782.2 3947.7 L783.5 3947.7 L784.8 3947.7 L786.1 3947.7 L787.4 3947.7 L788.7 3947.7 L790 3947.7 L791.3 3947.7 L792.6 3947.7 L793.9 3947.7 L795.2 3947.7 L796.5 3947.7 L797.8 3947.7 L799.1 3947.7 L800.4 3947.7 L801.7 3947.7 L803 3947.7 L804.3 3947.7 L805.6 3947.7 L806.9 3947.7 L808.2 3947.7 L809.5 3947.7 L810.8 3947.7 L812.1 3947.7 L813.4 3947.7 L814.7 3947.7 L816 3947.7 L817.3 3947.7 L818.6 3947.7 L819.9 3947.7 L821.2 3947.7 L822.5 3947.7 L823.8 3947.7 L825.1 3947.7 L826.4 3947.7 L827.7 3947.7 L829.1 3947.7 L830.4 3947.7 L831.7 3947.7 L833 3947.7 L834.3 3947.7 L835.6 3947.7 L836.9 3947.7 L838.2 3947.7 L839.5 3947.7 L840.8 3947.7 L842.1 3947.7 L843.4 3947.7 L844.7 3947.7 L846 3947.7 L847.3 3947.7 L848.6 3947.7 L849.9 3947.7 L851.2 3947.7 L852.5 3947.7 L853.8 3947.7 L855.1 3947.7 L856.4 3947.7 L857.7 3947.7 L859 3947.7 L860.3 3947.7 L861.6 3947.7 L862.9 3947.7 L864.2 3947.7 L865.5 3947.7 L866.8 3947.7 L868.1 3947.7 L869.4 3947.7 L870.7 3947.7 L872 3947.7 L873.3 3947.7 L874.6 3947.7 L875.9 3947.7 L877.2 3947.7 L878.5 3947.7 L879.8 3947.7 L881.1 3947.7 L882.4 3947.7 L883.7 3947.7 L885 3947.7 L886.3 3947.7 L887.6 3947.7 L888.9 3947.7 L890.2 3947.7 L891.5 3947.7 L892.8 3947.7 L894.1 3947.7 L895.4 3947.7 L896.7 3947.7 L898 3947.7 L899.3 3947.7 L900.6 3947.7 L901.9 3947.7 L903.2 3947.7 L904.5 3947.7 L905.8 3947.7 L907.1 3947.7 L908.4 3947.7 L909.7 3947.7 L911.1 3947.7 L912.4 3947.7 L913.7 3947.7 L915 3947.7 L916.3 3947.7 L917.6 3947.7 L918.9 3947.7 L920.2 3947.7 L921.5 3947.7 L922.8 3947.7 L924.1 3947.7 L925.4 3947.7 L926.7 3947.7 L928 3947.7 L929.3 3947.7 L930.6 3947.7 L931.9 3947.7 L933.2 3947.7 L934.5 3947.7 L935.8 3947.7 L937.1 3947.7 L938.4 3947.7 L939.7 3947.7 L941 3947.7 L942.3 3947.7 L943.6 3947.7 L944.9 3947.7 L946.2 3947.7 L947.5 3947.7 L948.8 3947.7 L950.1 3947.7 L951.4 3947.7 L952.7 3947.7 L954 3947.7 L955.3 3947.7 L956.6 3947.7 L957.9 3947.7 L959.2 3947.7 L960.5 3947.7 L961.8 3947.7 L963.1 3947.7 L964.4 3947.7 L965.7 3947.7 L967 3947.7 L968.3 3947.7 L969.6 3947.7 L970.9 3947.7 L972.2 3947.7 L973.5 3947.7 L974.8 3947.7 L976.1 3947.7 L977.4 3947.7 L978.7 3947.7 L980 3947.7 L981.3 3947.7 L982.6 3947.7 L983.9 3947.7 L985.2 3947.7 L986.5 3947.7 L987.8 3947.7 L989.1 3947.7 L990.4 3947.7 L991.8 3947.7 L993.1 3947.7 L994.4 3947.7 L995.7 3947.7 L997 3947.7 L998.3 3947.7 L999.6 3947.7 L1000.9 3947.7 L1002.2 3947.7 L1003.5 3947.7 L1004.8 3947.7 L1006.1 3947.7 L1007.4 3947.7 L1008.7 3947.7 L1010 3947.7 L1011.3 3947.7 L1012.6 3947.7 L1013.9 3947.7 L1015.2 3947.7 L1016.5 3947.7 L1017.8 3947.7 L1019.1 3947.7 L1020.4 3947.7 L1021.7 3947.7 L1023 3947.7 L1024.3 3947.7 L1025.6 3947.7 L1026.9 3947.7 L1028.2 3947.7 L1029.5 3947.7 L1030.8 3947.7 L1032.1 3947.7 L1033.4 3947.7 L1034.7 3947.7 L1036 3947.7 L1037.3 3947.7 L1038.6 3947.7 L1039.9 3947.7 L1041.2 3947.7 L1042.5 3947.7 L1043.8 3947.7 L1045.1 3947.7 L1046.4 3947.7 L1047.7 3947.7 L1049 3947.7 L1050.3 3947.7 L1051.6 3947.7 L1052.9 3947.7 L1054.2 3947.7 L1055.5 3947.7 L1056.8 3947.7 L1058.1 3947.7 L1059.4 3947.7 L1060.7 3947.7 L1062 3947.7 L1063.3 3947.7 L1064.6 3947.7 L1065.9 3947.7 L1067.2 3947.7 L1068.5 3947.7 L1069.8 3947.7 L1071.1 3947.7 L1072.4 3947.7 L1073.8 3947.7 L1075.1 3947.7 L1076.4 3947.7 L1077.7 3947.7 L1079 3947.7 L1080.3 3947.7 L1081.6 3947.7 L1082.9 3947.7 L1084.2 3947.7 L1085.5 3947.7 L1086.8 3947.7 L1088.1 3947.7 L1089.4 3947.7 L1090.7 3947.7 L1092 3947.7 L1093.3 3947.7 L1094.6 3947.7 L1095.9 3947.7 L1097.2 3947.7 L1098.5 3947.7 L1099.8 3947.7 L1101.1 3947.7 L1102.4 3947.7 L1103.7 3947.7 L1105 3947.7 L1106.3 3947.7 L1107.6 3947.7 L1108.9 3947.7 L1110.2 3947.7 L1111.5 3947.7 L1112.8 3947.7 L1114.1 3947.7 L1115.4 3947.7 L1116.7 3947.7 L1118 3947.7 L1119.3 3947.7 L1120.6 3947.7 L1121.9 3947.7 L1123.2 3947.7 L1124.5 3947.7 L1125.8 3947.7 L1127.1 3947.7 L1128.4 3947.7 L1129.7 3947.7 L1131 3947.7 L1132.3 3947.7 L1133.6 3947.7 L1134.9 3947.7 L1136.2 3947.7 L1137.5 3947.7 L1138.8 3947.7 L1140.1 3947.7 L1141.4 3947.7 L1142.7 3947.7 L1144 3947.7 L1145.3 3947.7 L1146.6 3947.7 L1147.9 3947.7 L1149.2 3947.7 L1150.5 3947.7 L1151.8 3947.7 L1153.1 3947.7 L1154.5 3947.7 L1155.8 3947.7 L1157.1 3947.7 L1158.4 3947.7 L1159.7 3947.7 L1161 3947.7 L1162.3 3947.7 L1163.6 3947.7 L1164.9 3947.7 L1166.2 3947.7 L1167.5 3947.7 L1168.8 3947.7 L1170.1 3947.7 L1171.4 3947.7 L1172.7 3947.7 L1174 3947.7 L1175.3 3947.7 L1176.6 3947.7 L1177.9 3947.7 L1179.2 3947.7 L1180.5 3947.7 L1181.8 3947.7 L1183.1 3947.7 L1184.4 3947.7 L1185.7 3947.7 L1187 3947.7 L1188.3 3947.7 L1189.6 3947.7 L1190.9 3947.7 L1192.2 3947.7 L1193.5 3947.7 L1194.8 3947.7 L1196.1 3947.7 L1197.4 3947.7 L1198.7 3947.7 L1200 3947.7 L1201.3 3947.7 L1202.6 3947.7 L1203.9 3947.7 L1205.2 3947.7 L1206.5 3947.7 L1207.8 3947.7 L1209.1 3947.7 L1210.4 3947.7 L1211.7 3947.7 L1213 3947.7 L1214.3 3947.7 L1215.6 3947.7 L1216.9 3947.7 L1218.2 3947.7 L1219.5 3947.7 L1220.8 3947.7 L1222.1 3947.7 L1223.4 3947.7 L1224.7 3947.7 L1226 3947.7 L1227.3 3947.7 L1228.6 3947.7 L1229.9 3947.7 L1231.2 3947.7 L1232.5 3947.7 L1233.8 3947.7 L1235.1 3947.7 L1236.5 3947.7 L1237.8 3947.7 L1239.1 3947.7 L1240.4 3947.7 L1241.7 3947.7 L1243 3947.7 L1244.3 3947.7 L1245.6 3947.7 L1246.9 3947.7 L1248.2 3947.7 L1249.5 3947.7 L1250.8 3947.7 L1252.1 3947.7 L1253.4 3947.7 L1254.7 3947.7 L1256 3947.7 L1257.3 3947.7 L1258.6 3947.7 L1259.9 3947.7 L1261.2 3947.7 L1262.5 3947.7 L1263.8 3947.7 L1265.1 3947.7 L1266.4 3947.7 L1267.7 3947.7 L1269 3947.7 L1270.3 3947.7 L1271.6 3947.7 L1272.9 3947.7 L1274.3 3946.3 L1275.7 3945.8 L1277.1 3943.5 L1278.5 3932.9 L1280 3925.6 L1282.5 3910.3 L1283.9 3906.7 L1285.4 3895.7 L1286.8 3889.3 L1288.3 3885.3 L1290 3890.4 L1291.6 3904.1 L1293.3 3912 L1295 3921 L1296.4 3916.6 L1297.9 3908.2 L1299.3 3913.7 L1300.8 3912.4 L1302.5 3918.4 L1304.1 3927.9 L1305.5 3928.2 L1306.9 3929.9 L1308.3 3930.2 L1309.9 3927.3 L1311.6 3918.7 L1313.1 3918.3 L1314.5 3910.3 L1315.9 3909.2 L1317.3 3913.1 L1318.7 3916.6 L1320.1 3916 L1321.5 3918.7 L1322.8 3921 L1324.2 3918.2 L1325.6 3919.5 L1327 3918.7 L1328.4 3918.6 L1329.8 3913.2 L1331.2 3908.2 L1332.6 3906.2 L1334 3912.7 L1335.3 3912.4 L1336.7 3912.7 L1338.1 3906.1 L1339.5 3906.2 L1340.9 3910.8 L1342.3 3913.2 L1343.7 3910.3 L1345.7 3916.6 L1347.4 3901.6 L1349.1 3893.7 L1350.5 3895.9 L1352 3899.9 L1353.4 3900 L1354.8 3895.3 L1356.2 3889.5 L1357.5 3895.1 L1358.9 3889.9 L1360.3 3887.4 L1361.8 3886.8 L1363.2 3879.1 L1365.7 3866.6 L1367.2 3875.8 L1368.6 3889.5 L1370.7 3879.1 L1372.2 3894.6 L1373.6 3904.1 L1375.3 3906.9 L1377 3916.6 L1378.4 3910.7 L1379.7 3914.9 L1381.1 3908.2 L1382.5 3907.6 L1383.9 3904.9 L1385.3 3908.2 L1386.7 3901.6 L1388.1 3896.5 L1389.5 3887.4 L1390.9 3899.7 L1392.4 3908.2 L1394 3906.5 L1395.7 3902 L1397.4 3914.6 L1399 3925.6 L1400.4 3921.6 L1401.8 3917.8 L1403.2 3908.2 L1404.6 3899.1 L1406 3890.5 L1407.4 3887.4 L1408.8 3894 L1410.3 3908.2 L1411.7 3911.1 L1413.2 3914.5 L1414.8 3909.7 L1416.5 3899.9 L1418.2 3908.3 L1419.8 3908.2 L1421.3 3918.3 L1422.8 3923.3 L1424.8 3916.6 L1426.5 3913.4 L1428.2 3908.2 L1429.6 3907 L1431.1 3910.3 L1433.2 3927.9 L1434.6 3909.8 L1435.9 3894.4 L1437.3 3883.3 L1439 3896.9 L1440.7 3910.3 L1442 3905.9 L1443.4 3912.1 L1444.8 3906.2 L1446.2 3904.5 L1447.6 3898.3 L1449 3897.8 L1450.4 3900.3 L1451.8 3896.6 L1453.1 3889.5 L1454.6 3898.2 L1456.1 3914.5 L1457.4 3917.3 L1458.8 3924.9 L1460.2 3925.6 L1461.8 3923.7 L1463.3 3923.5 L1464.9 3921.4 L1466.5 3918.7 L1468 3920.5 L1469.6 3915.9 L1471.1 3911.9 L1472.7 3914.5 L1474.1 3913.4 L1475.4 3914 L1476.8 3911.9 L1478.1 3913.2 L1479.5 3913.7 L1480.9 3917.5 L1482.3 3921 L1484 3919.7 L1485.6 3922 L1487.3 3918.7 L1488.8 3914.1 L1490.4 3914.9 L1492 3914 L1493.5 3910.3 L1495 3912.2 L1496.4 3918.7 L1498.1 3922.4 L1499.8 3925.6 L1501.2 3926.3 L1502.5 3931.4 L1503.9 3932.5 L1505.5 3934 L1507.1 3932.9 L1508.6 3932.5 L1510.2 3934.8 L1511.7 3936.2 L1513.3 3937.3 L1514.9 3939.2 L1516.4 3939.3 L1517.8 3940.2 L1519.2 3941 L1520.6 3940.4 L1522 3940.5 L1523.4 3940.5 L1524.7 3941.5 L1526.1 3942.6 L1527.5 3942.8 L1528.9 3942.9 L1530.3 3942.6 L1531.7 3942.7 L1533.1 3943.5 L1534.5 3942.8 L1535.8 3942.7 L1537.2 3943.1 L1538.6 3943.1 L1540 3943.3 L1541.4 3943.8 L1542.8 3942.7 L1544.2 3943.8 L1545.6 3943.3 L1546.9 3943.5 L1548.3 3942.9 L1549.7 3943.5 L1551.1 3944.6 L1552.5 3943.7 L1553.9 3943.9 L1555.3 3944.5 L1556.7 3943.9 L1558 3944.8 L1559.4 3944.9 L1560.8 3944.9 L1562.2 3943.7 L1563.6 3943.8 L1565 3944.7 L1566.4 3944.8 L1567.8 3945.2 L1569.1 3945.2 L1570.5 3944.8 L1571.9 3945.5 L1573.3 3944.3 L1574.7 3945.1 L1576.1 3944.9 L1577.5 3945 L1578.9 3945.2 L1580.2 3946 L1581.6 3945.1 L1583 3945.6 L1584.3 3945.4 L1585.7 3946.1 L1587 3945.4 L1588.3 3945 L1589.6 3946.3 L1590.9 3945.8 L1592.2 3946.2 L1593.5 3946.4 L1594.9 3946.4 L1596.2 3946.3 L1597.5 3944.9 L1598.8 3946.3 L1600.1 3944.8 L1601.4 3946.3 L1602.7 3946.2 L1604.1 3945.1 L1605.4 3945.5 L1606.7 3945.7 L1608 3945.6 L1609.4 3945.7 L1610.8 3945.7 L1612.2 3945.6 L1613.6 3945.8 L1614.9 3945 L1616.3 3945.1 L1617.7 3945 L1619.1 3944.7 L1620.5 3944.9 L1621.9 3944.2 L1623.3 3944.6 L1624.7 3944.8 L1626 3944.3 L1627.4 3945.6 L1628.8 3946.1 L1630.2 3945.7 L1631.6 3945.8 L1633 3945.8 L1634.4 3946.4 L1635.8 3946.6 L1637.1 3946.9 L1638.5 3946.9 L1639.9 3946.9 L1641.3 3946.9 L1642.7 3946.9 L1644.1 3946.9 L1645.5 3946.9 L1646.9 3946.9 L1648.2 3946.9 L1649.6 3946.9 L1651 3946.9 L1652.4 3946.9 L1653.8 3946.9 L1655.2 3946.9 L1656.6 3946.9 L1658 3946.9 L1659.3 3946.9 L1660.7 3946.9 L1662.1 3946.9 L1663.5 3946.9 L1664.9 3946.9 L1666.3 3946.9 L1667.7 3946.7 L1669.1 3946.6 L1670.4 3946.4 L1671.8 3946.3 L1673.2 3946.7 L1674.6 3946.3 L1676 3945.6 L1677.4 3946 L1678.8 3945.6 L1680.2 3945 L1681.5 3946.3 L1682.9 3945.6 L1682.7 3947.7" fill="none" stroke="#ff00ff" stroke-width="2.6" stroke-linejoin="round" stroke-linecap="butt" clip-path="url(#pcL)"/>
<path d="M243.5 3947.7 L244.8 3947.7 L246.1 3947.7 L247.5 3947.7 L248.8 3947.7 L250.1 3947.7 L251.4 3947.7 L252.7 3947.7 L254 3947.7 L255.4 3947.7 L256.7 3947.7 L258 3947.7 L259.5 3947.7 L261 3947.7 L262.3 3946 L263.6 3944 L266 3947.7 L267.3 3947.7 L268.6 3947.7 L269.9 3947.7 L271.2 3947.7 L272.5 3947.7 L273.8 3947.7 L275.2 3947.7 L276.5 3947.7 L277.8 3947.7 L279.1 3947.7 L280.4 3947.7 L281.7 3947.7 L283 3947.7 L284.3 3947.7 L285.6 3947.7 L286.9 3947.7 L288.2 3947.7 L289.5 3947.7 L290.8 3947.7 L292.1 3947.7 L293.5 3947.7 L294.8 3947.7 L296.1 3947.7 L297.4 3947.7 L298.7 3947.7 L300 3947.7 L301.3 3947.7 L302.6 3947.7 L303.9 3947.7 L305.2 3947.7 L306.5 3947.7 L307.8 3947.7 L309.1 3947.7 L310.5 3947.7 L311.8 3947.7 L313.1 3947.7 L314.4 3947.7 L315.7 3947.7 L317 3947.7 L318.3 3947.7 L319.6 3947.7 L320.9 3947.7 L322.2 3947.7 L323.5 3947.7 L324.8 3947.7 L326.1 3947.7 L327.4 3947.7 L328.8 3947.7 L330.1 3947.7 L331.4 3947.7 L332.7 3947.7 L334 3947.7 L335.3 3947.7 L336.6 3947.7 L337.9 3947.7 L339.2 3947.7 L340.5 3947.7 L341.8 3947.7 L343.1 3947.7 L344.4 3947.7 L345.8 3947.7 L347.1 3947.7 L348.4 3947.7 L349.7 3947.7 L351 3947.7 L352.3 3947.7 L353.6 3947.7 L354.9 3947.7 L356.2 3947.7 L357.5 3947.7 L358.8 3947.7 L360.1 3947.7 L361.4 3947.7 L362.8 3947.7 L364.1 3947.7 L365.4 3947.7 L366.7 3947.7 L368 3947.7 L369.3 3947.7 L370.6 3947.7 L371.9 3947.7 L373.2 3947.7 L374.5 3947.7 L375.8 3947.7 L377.1 3947.7 L378.4 3947.7 L379.7 3947.7 L381.1 3947.7 L382.4 3947.7 L383.7 3947.7 L385 3947.7 L386.4 3939.2 L387.8 3935.4 L389.1 3934.7 L390.5 3931.7 L391.9 3925.5 L393.3 3921.6 L394.7 3920.9 L396.1 3916.5 L397.5 3917.9 L398.9 3913.5 L400.2 3915.1 L401.6 3919.3 L403 3919.4 L404.4 3916.1 L405.8 3916.5 L407.2 3914.3 L408.6 3915.1 L410 3913.5 L411.3 3910.9 L412.7 3911.2 L414.1 3913.7 L415.5 3909.1 L416.9 3909.5 L418.3 3912.4 L419.7 3915.1 L421.6 3908.1 L423.4 3910.9 L425.2 3919.4 L426.6 3915.7 L428 3915.1 L429.4 3914.1 L430.8 3908.1 L432.2 3909.6 L433.5 3906.2 L434.9 3902.6 L436.3 3905 L437.7 3906.8 L439.1 3912.1 L440.5 3910.9 L441.9 3909.1 L443.3 3913.7 L444.6 3908.2 L446 3912.6 L447.4 3908.1 L448.8 3910.6 L450.2 3903.4 L451.6 3901.2 L453 3904.4 L454.4 3898.1 L455.7 3898.4 L457.3 3900.4 L458.9 3890.1 L460.5 3894.3 L462.3 3895.7 L464.1 3906.8 L465.5 3907.8 L466.8 3902.6 L468.2 3899.3 L469.6 3904.4 L471 3897 L472.4 3898.3 L473.8 3900.2 L475.2 3905.4 L477 3904.9 L478.8 3906.8 L480.2 3899.2 L481.6 3887.3 L482.9 3900 L484.3 3902.6 L486 3902.1 L487.7 3891.5 L489.9 3908.1 L491.5 3903.4 L493.2 3905.4 L494.6 3914 L496 3916.5 L497.7 3919.4 L499.3 3919.4 L501 3899.8 L502.6 3897 L504.3 3894.3 L505.7 3887.1 L507.1 3890.2 L508.5 3893.3 L509.9 3888.7 L511.2 3879.2 L512.6 3885.6 L514 3874.8 L515.4 3875.9 L516.8 3888.7 L518.2 3886.8 L519.6 3883.2 L521 3876.3 L522.3 3872.1 L523.7 3879.3 L525.1 3894.3 L526.5 3891.8 L527.9 3890.1 L529.3 3891.5 L530.7 3893.5 L532.1 3891.1 L533.5 3898.4 L534.8 3901.9 L536.2 3893.7 L537.6 3894.3 L539 3885.9 L540.4 3876.4 L541.8 3872.1 L543.2 3870 L544.6 3874.8 L545.9 3882 L547.3 3879 L548.7 3895.2 L550.1 3899.8 L552 3905.4 L554.3 3894.3 L556.5 3852.6 L557.9 3862 L559.3 3851.2 L560.4 3894.3 L561.5 3819.3 L564 3784.6 L565.9 3861 L568.1 3824.9 L569.5 3834.8 L570.9 3819.7 L572.3 3817.9 L574.2 3883.2 L576.5 3819.3 L578.1 3805.5 L579.8 3833.2 L581.5 3866.5 L583.4 3841.5 L585.3 3877.6 L587.6 3885.9 L589 3887.4 L590.3 3877.6 L592.6 3919.4 L594.5 3931.6 L595.9 3929.7 L597.3 3928.6 L598.7 3935.5 L600.1 3940.7 L601.4 3943.7 L602.8 3947.7 L604.1 3947.7 L605.4 3947.7 L606.7 3947.7 L608 3947.7 L609.4 3947.7 L610.7 3947.7 L612 3947.7 L613.3 3947.7 L614.6 3947.7 L615.9 3947.7 L617.2 3947.7 L618.5 3947.7 L619.8 3947.7 L621.1 3947.7 L622.4 3947.7 L623.7 3947.7 L625 3947.7 L626.3 3947.7 L627.6 3947.7 L628.9 3947.7 L630.2 3947.7 L631.5 3947.7 L632.8 3947.7 L634.1 3947.7 L635.4 3947.7 L636.7 3947.7 L638 3947.7 L639.3 3947.7 L640.7 3947.7 L642 3947.7 L643.3 3947.7 L644.6 3947.7 L645.9 3947.7 L647.2 3947.7 L648.5 3947.7 L649.8 3947.7 L651.1 3947.7 L652.4 3947.7 L653.7 3947.7 L655 3947.7 L656.3 3947.7 L657.6 3947.7 L658.9 3947.7 L660.2 3947.7 L661.5 3947.7 L662.8 3947.7 L664.1 3947.7 L665.4 3947.7 L666.7 3947.7 L668 3947.7 L669.3 3947.7 L670.6 3947.7 L672 3947.7 L673.3 3947.7 L674.6 3947.7 L675.9 3947.7 L677.2 3947.7 L678.5 3947.7 L679.8 3947.7 L681.1 3947.7 L682.4 3947.7 L683.7 3947.7 L685 3947.7 L686.3 3947.7 L687.6 3947.7 L688.9 3947.7 L690.2 3947.7 L691.5 3947.7 L692.8 3947.7 L694.1 3947.7 L695.4 3947.7 L696.7 3947.7 L698 3947.7 L699.3 3947.7 L700.6 3947.7 L701.9 3947.7 L703.3 3947.7 L704.6 3947.7 L705.9 3947.7 L707.2 3947.7 L708.5 3947.7 L709.8 3947.7 L711.1 3947.7 L712.4 3947.7 L713.7 3947.7 L715 3947.7 L716.3 3947.7 L717.6 3947.7 L718.9 3947.7 L720.2 3947.7 L721.5 3947.7 L722.8 3947.7 L724.1 3947.7 L725.4 3947.7 L726.7 3947.7 L728 3947.7 L729.3 3947.7 L730.6 3947.7 L731.9 3947.7 L733.2 3947.7 L734.6 3947.7 L735.9 3947.7 L737.2 3947.7 L738.5 3947.7 L739.8 3947.7 L741.1 3947.7 L742.4 3947.7 L743.7 3947.7 L745 3947.7 L746.3 3947.7 L747.6 3947.7 L748.9 3947.7 L750.2 3947.7 L751.5 3947.7 L752.8 3947.7 L754.1 3947.7 L755.4 3947.7 L756.7 3947.7 L758 3947.7 L759.3 3947.7 L760.6 3947.7 L761.9 3947.7 L763.2 3947.7 L764.6 3947.7 L765.9 3947.7 L767.2 3947.7 L768.5 3947.7 L769.8 3947.7 L771.1 3947.7 L772.4 3947.7 L773.7 3947.7 L775 3947.7 L776.3 3947.7 L777.6 3947.7 L778.9 3947.7 L780.2 3947.7 L781.5 3947.7 L782.8 3947.7 L784.1 3947.7 L785.4 3947.7 L786.7 3947.7 L788 3947.7 L789.3 3947.7 L790.6 3947.7 L791.9 3947.7 L793.2 3947.7 L794.5 3947.7 L795.9 3947.7 L797.2 3947.7 L798.5 3947.7 L799.8 3947.7 L801.1 3947.7 L802.4 3947.7 L803.7 3947.7 L805 3947.7 L806.3 3947.7 L807.6 3947.7 L808.9 3947.7 L810.2 3947.7 L811.5 3947.7 L812.8 3947.7 L814.1 3947.7 L815.4 3947.7 L816.7 3947.7 L818 3947.7 L819.3 3947.7 L820.6 3947.7 L821.9 3947.7 L823.2 3947.7 L824.5 3947.7 L825.8 3947.7 L827.2 3947.7 L828.5 3947.7 L829.8 3947.7 L831.1 3947.7 L832.4 3947.7 L833.7 3947.7 L835 3947.7 L836.3 3947.7 L837.6 3947.7 L838.9 3947.7 L840.2 3947.7 L841.5 3947.7 L842.8 3947.7 L844.1 3947.7 L845.4 3947.7 L846.7 3947.7 L848 3947.7 L849.3 3947.7 L850.6 3947.7 L851.9 3947.7 L853.2 3947.7 L854.5 3947.7 L855.8 3947.7 L857.1 3947.7 L858.5 3947.7 L859.8 3947.7 L861.1 3947.7 L862.4 3947.7 L863.7 3947.7 L865 3947.7 L866.3 3947.7 L867.6 3947.7 L868.9 3947.7 L870.2 3947.7 L871.5 3947.7 L872.8 3947.7 L874.1 3947.7 L875.4 3947.7 L876.7 3947.7 L878 3947.7 L879.3 3947.7 L880.6 3947.7 L881.9 3947.7 L883.2 3947.7 L884.5 3947.7 L885.8 3947.7 L887.1 3947.7 L888.4 3947.7 L889.8 3947.7 L891.1 3947.7 L892.4 3947.7 L893.7 3947.7 L895 3947.7 L896.3 3947.7 L897.6 3947.7 L898.9 3947.7 L900.2 3947.7 L901.5 3947.7 L902.8 3947.7 L904.1 3947.7 L905.4 3947.7 L906.7 3947.7 L908 3947.7 L909.3 3947.7 L910.6 3947.7 L911.9 3947.7 L913.2 3947.7 L914.5 3947.7 L915.8 3947.7 L917.1 3947.7 L918.4 3947.7 L919.7 3947.7 L921.1 3947.7 L922.4 3947.7 L923.7 3947.7 L925 3947.7 L926.3 3947.7 L927.6 3947.7 L928.9 3947.7 L930.2 3947.7 L931.5 3947.7 L932.8 3947.7 L934.1 3947.7 L935.4 3947.7 L936.7 3947.7 L938 3947.7 L939.3 3947.7 L940.6 3947.7 L941.9 3947.7 L943.2 3947.7 L944.5 3947.7 L945.8 3947.7 L947.1 3947.7 L948.4 3947.7 L949.7 3947.7 L951 3947.7 L952.4 3947.7 L953.7 3947.7 L955 3947.7 L956.3 3947.7 L957.6 3947.7 L958.9 3947.7 L960.2 3947.7 L961.5 3947.7 L962.8 3947.7 L964.1 3947.7 L965.4 3947.7 L966.7 3947.7 L968 3947.7 L969.3 3947.7 L970.6 3947.7 L971.9 3947.7 L973.2 3947.7 L974.5 3947.7 L975.8 3947.7 L977.1 3947.7 L978.4 3947.7 L979.7 3947.7 L981 3947.7 L982.3 3947.7 L983.7 3947.7 L985 3947.7 L986.3 3947.7 L987.6 3947.7 L988.9 3947.7 L990.2 3947.7 L991.5 3947.7 L992.8 3947.7 L994.1 3947.7 L995.4 3947.7 L996.7 3947.7 L998 3947.7 L999.7 3947.1 L1001.3 3946.6 L1003 3946 L1004.7 3946.6 L1006.3 3947.1 L1008 3947.7 L1009.7 3947.7 L1011.3 3947.7 L1013 3947.7 L1014.3 3947.7 L1015.6 3947.7 L1016.9 3947.7 L1018.2 3947.7 L1019.5 3947.7 L1020.8 3947.7 L1022.1 3947.7 L1023.5 3947.7 L1024.8 3947.7 L1026.1 3947.7 L1027.4 3947.7 L1028.7 3947.7 L1030 3947.7 L1031.3 3947.7 L1032.6 3947.7 L1033.9 3947.7 L1035.2 3947.7 L1036.5 3947.7 L1037.8 3947.7 L1039.1 3947.7 L1040.4 3947.7 L1041.7 3947.7 L1043 3947.7 L1044.4 3947.7 L1045.7 3947.7 L1047 3947.7 L1048.3 3947.7 L1049.6 3947.7 L1050.9 3947.7 L1052.2 3947.7 L1053.5 3947.7 L1054.8 3947.7 L1056.1 3947.7 L1057.4 3947.7 L1058.7 3947.7 L1060 3947.7 L1061.3 3947.7 L1062.6 3947.7 L1063.9 3947.7 L1065.3 3947.7 L1066.6 3947.7 L1067.9 3947.7 L1069.2 3947.7 L1070.5 3947.7 L1071.8 3947.7 L1073.1 3947.7 L1074.4 3947.7 L1075.7 3947.7 L1077 3947.7 L1078.3 3947.7 L1079.6 3947.7 L1080.9 3947.7 L1082.2 3947.7 L1083.5 3947.7 L1084.9 3947.7 L1086.2 3947.7 L1087.5 3947.7 L1088.8 3947.7 L1090.1 3947.7 L1091.4 3947.7 L1092.7 3947.7 L1094 3947.7 L1095.3 3947.7 L1096.6 3947.7 L1097.9 3947.7 L1099.2 3947.7 L1100.5 3947.7 L1101.8 3947.7 L1103.1 3947.7 L1104.4 3947.7 L1105.8 3947.7 L1107.1 3947.7 L1108.4 3947.7 L1109.7 3947.7 L1111 3947.7 L1112.3 3947.7 L1113.6 3947.7 L1114.9 3947.7 L1116.2 3947.7 L1117.5 3947.7 L1118.8 3947.7 L1120.1 3947.7 L1121.4 3947.7 L1122.7 3947.7 L1124 3947.7 L1125.3 3947.7 L1126.7 3947.7 L1128 3947.7 L1129.3 3947.7 L1130.6 3947.7 L1131.9 3947.7 L1133.2 3947.7 L1134.5 3947.7 L1135.8 3947.7 L1137.1 3947.7 L1138.4 3947.7 L1141 3947.7 L1142.5 3947.3 L1144 3947.7 L1146.1 3947.7 L1147.6 3947.7 L1149 3947.7 L1150.5 3947.7 L1151.9 3947.7 L1153.4 3947.7 L1154.9 3947.7 L1156.3 3947.7 L1157.9 3947.7 L1159.4 3947.3 L1160.9 3947.7 L1162.5 3947.7 L1164 3947.7 L1165.3 3947.7 L1166.6 3947.7 L1167.9 3947.7 L1169.3 3947.7 L1170.6 3947.7 L1171.9 3947.7 L1173.2 3947.7 L1174.5 3947.7 L1175.8 3947.7 L1177.1 3947.7 L1178.4 3947.7 L1179.7 3947.7 L1181 3947.7 L1182.3 3947.7 L1183.7 3947.7 L1185 3947.7 L1186.3 3947.7 L1187.6 3947.7 L1188.9 3947.7 L1190.2 3947.7 L1191.5 3947.7 L1192.8 3947.7 L1194.1 3947.7 L1195.4 3947.7 L1196.7 3947.7 L1198 3947.7 L1199.4 3947.7 L1200.9 3946.7 L1203.4 3945.2 L1205.1 3944.7 L1206.8 3945.7 L1208.4 3946.2 L1209.8 3945.5 L1211.1 3946 L1212.5 3945.2 L1213.8 3944 L1215.2 3944.1 L1216.5 3943.2 L1218.5 3941.7 L1220.5 3943.2 L1222.6 3946.2 L1223.9 3946.6 L1225.3 3947 L1226.6 3947.4 L1227.9 3947.5 L1229.3 3947.6 L1230.6 3947.7 L1231.9 3947.7 L1233.2 3947.7 L1234.5 3947.7 L1235.9 3947.7 L1237.2 3947.7 L1238.5 3947.7 L1239.8 3947.7 L1241.1 3947.7 L1242.4 3947.7 L1243.7 3947.7 L1245 3947.7 L1246.3 3947.7 L1247.6 3947.7 L1248.9 3947.7 L1250.2 3947.7 L1251.5 3947.7 L1252.8 3947.7 L1254.1 3947.7 L1255.4 3947.7 L1256.7 3947.7 L1258 3947.7 L1259.3 3947.7 L1260.6 3947.7 L1261.9 3947.7 L1263.2 3947.7 L1264.5 3947.7 L1265.8 3947.7 L1267.2 3947.7 L1268.5 3947.7 L1269.8 3947.7 L1271.1 3947.7 L1272.4 3947.7 L1273.7 3947.7 L1275 3947.7 L1276.4 3947.6 L1277.8 3947.6 L1279.1 3947.5 L1280.5 3947.4 L1281.9 3947.4 L1283.3 3947.3 L1284.7 3947.2 L1286.1 3947.1 L1287.5 3947.1 L1288.9 3947 L1290.2 3946.9 L1291.6 3946.9 L1292.9 3946.8 L1294.2 3946.7 L1295.5 3946.6 L1296.8 3946.6 L1298.1 3946.5 L1299.4 3946.4 L1300.7 3946.3 L1302 3946.2 L1303.3 3946 L1304.6 3946.6 L1305.9 3945.3 L1307.2 3945.5 L1308.5 3946.4 L1309.8 3946.4 L1311.1 3946.3 L1312.4 3945.6 L1313.7 3945.8 L1315 3945.2 L1316.3 3945.2 L1317.6 3945.3 L1318.9 3945 L1320.2 3945.9 L1321.5 3945.3 L1322.8 3946.1 L1324.2 3945 L1325.5 3944.9 L1326.8 3946.3 L1328.1 3945 L1329.4 3945 L1330.7 3945.1 L1332 3946.1 L1333.3 3945.6 L1334.6 3945.3 L1335.9 3945.5 L1337.2 3945.4 L1338.5 3944.9 L1339.8 3945.9 L1341.1 3945.6 L1342.4 3945.9 L1343.7 3945.2 L1345 3945.3 L1346.3 3944.6 L1347.6 3944 L1348.9 3943.9 L1350.2 3944.2 L1351.5 3944.3 L1352.8 3943.8 L1354.1 3944.4 L1355.5 3944.7 L1356.8 3944.1 L1358.2 3944.7 L1359.6 3944.4 L1361 3944.1 L1362.4 3943.1 L1363.8 3944.4 L1365.2 3944 L1366.6 3944.3 L1367.9 3944.4 L1369.3 3942.9 L1370.7 3943.5 L1372.1 3943.3 L1373.5 3943.8 L1374.9 3944.7 L1376.3 3944.5 L1377.7 3944.5 L1379 3945.1 L1380.4 3944 L1381.8 3945.7 L1383.2 3944.8 L1384.6 3945.2 L1386 3944.8 L1387.4 3945.6 L1388.7 3945.8 L1390 3946.1 L1391.3 3945.7 L1392.6 3945.3 L1393.9 3946.1 L1395.2 3944.8 L1396.5 3946 L1397.8 3946 L1399.1 3945.3 L1400.4 3946.4 L1401.7 3945.9 L1403 3945 L1404.3 3946.2 L1405.6 3944.9 L1406.9 3945.3 L1408.2 3945.6 L1409.6 3946 L1411 3945.9 L1412.3 3946.4 L1413.7 3945.6 L1415.1 3945.9 L1416.5 3946.2 L1417.9 3946.3 L1419.3 3946.4 L1420.7 3946.6 L1422.1 3946.7 L1423.5 3946.8 L1424.8 3946.9 L1426.1 3946.9 L1427.4 3947 L1428.7 3947 L1430 3947.1 L1431.3 3947.1 L1432.6 3947.2 L1433.9 3947.2 L1435.2 3947.3 L1436.5 3947.3 L1437.8 3947.4 L1439.1 3947.4 L1440.4 3947.5 L1441.7 3947.5 L1443.1 3947.6 L1444.4 3947.6 L1445.7 3947.7 L1447 3947.7 L1448.3 3947.7 L1449.6 3947.7 L1451 3947.7 L1452.3 3947.7 L1453.6 3947.7 L1455 3947.7 L1456.3 3947.7 L1457.6 3947.7 L1459 3947.7 L1460.3 3947.7 L1461.6 3947.7 L1463 3947.7 L1464.3 3947.7 L1465.6 3947.7 L1467 3947.7 L1468.3 3947.7 L1469.6 3947.7 L1471 3947.7 L1472.3 3947.7 L1473.6 3947.7 L1475 3947.7 L1476.3 3947.7 L1477.6 3947.7 L1479 3947.7 L1480.3 3947.7 L1481.6 3947.7 L1482.9 3947.7 L1484.2 3947.7 L1485.5 3947.7 L1486.8 3947.7 L1488.1 3947.7 L1489.4 3947.7 L1490.7 3947.7 L1492 3947.7 L1493.3 3947.7 L1494.6 3947.7 L1495.9 3947.7 L1497.2 3947.7 L1498.5 3947.7 L1499.8 3947.7 L1501.1 3947.7 L1502.4 3947.7 L1503.7 3947.7 L1505 3947.7 L1506.3 3947.7 L1507.6 3947.7 L1508.9 3947.7 L1510.2 3947.7 L1511.5 3947.7 L1512.8 3947.7 L1514.1 3947.7 L1515.4 3947.7 L1516.7 3947.7 L1518 3947.7 L1519.3 3947.7 L1520.6 3947.7 L1521.9 3947.7 L1523.2 3947.7 L1524.5 3947.7 L1525.8 3947.7 L1527.1 3947.7 L1528.4 3947.7 L1529.7 3947.7 L1531 3947.7 L1532.3 3947.7 L1533.6 3947.7 L1534.9 3947.7 L1536.2 3947.7 L1537.5 3947.7 L1538.8 3947.7 L1540.1 3947.7 L1541.4 3947.7 L1542.7 3947.7 L1544 3947.7 L1545.3 3947.7 L1546.6 3947.7 L1547.9 3947.7 L1549.2 3947.7 L1550.5 3947.7 L1551.8 3947.7 L1553.1 3947.7 L1554.4 3947.7 L1555.7 3947.7 L1557 3947.7 L1558.3 3947.7 L1559.7 3947.7 L1561 3947.7 L1562.3 3947.7 L1563.6 3947.7 L1564.9 3947.7 L1566.2 3947.7 L1567.5 3947.7 L1568.8 3947.7 L1570.1 3947.7 L1571.4 3947.7 L1572.7 3947.7 L1574 3947.7 L1575.3 3947.7 L1576.6 3947.7 L1577.9 3947.7 L1579.2 3947.7 L1580.5 3947.7 L1581.8 3947.7 L1583.1 3947.7 L1584.4 3947.7 L1585.7 3947.7 L1587 3947.7 L1588.3 3947.7 L1589.6 3947.7 L1590.9 3947.7 L1592.3 3947.7 L1593.6 3947.7 L1594.9 3947.7 L1596.2 3947.7 L1597.5 3947.7 L1598.8 3947.7 L1600.1 3947.7 L1601.4 3947.7 L1602.7 3947.7 L1604 3947.7 L1605.3 3947.7 L1606.6 3947.7 L1607.9 3947.7 L1609.2 3947.7 L1610.5 3947.7 L1611.8 3947.7 L1613.1 3947.7 L1614.4 3947.7 L1615.7 3947.7 L1617 3947.7 L1618.3 3947.7 L1619.6 3947.7 L1620.9 3947.7 L1622.2 3947.7 L1623.5 3947.7 L1624.9 3947.7 L1626.2 3947.7 L1627.5 3947.7 L1628.8 3947.7 L1630.1 3947.7 L1631.4 3947.7 L1632.7 3947.7 L1634 3947.7 L1635.3 3947.7 L1636.6 3947.7 L1637.9 3947.7 L1639.2 3947.7 L1640.5 3947.7 L1641.8 3947.7 L1643.1 3947.7 L1644.4 3947.7 L1645.7 3947.7 L1647 3947.7 L1648.3 3947.7 L1649.6 3947.7 L1651 3947.5 L1652.4 3947.2 L1653.8 3947 L1655.2 3946.8 L1656.6 3946.5 L1658 3946.3 L1659.3 3945.7 L1660.7 3946.1 L1662.1 3945.6 L1663.5 3946 L1664.9 3945.1 L1666.3 3946.4 L1667.7 3946.3 L1669.1 3945.3 L1670.4 3945.6 L1671.8 3946.5 L1673.2 3945.5 L1674.6 3946.5 L1676 3945.6 L1677.4 3946.3 L1678.8 3946.4 L1680.2 3946.6 L1681.5 3946.7 L1682.9 3946.9 L1682.7 3947.7" fill="none" stroke="#00ff00" stroke-width="2.6" stroke-linejoin="round" stroke-linecap="butt" clip-path="url(#pcL)"/>
<path d="M246 3947.7 L1685.2 3947.7" fill="none" stroke="#00ff00" stroke-width="2.6" stroke-linejoin="round" stroke-linecap="butt" clip-path="url(#pcL)"/>
<text x="243.5" y="4023.6" font-size="51" text-anchor="middle" font-weight="normal">-5</text>
<text x="315.5" y="4023.6" font-size="51" text-anchor="middle" font-weight="normal">-4</text>
<text x="387.4" y="4023.6" font-size="51" text-anchor="middle" font-weight="normal">-3</text>
<text x="459.4" y="4023.6" font-size="51" text-anchor="middle" font-weight="normal">-2</text>
<text x="531.3" y="4023.6" font-size="51" text-anchor="middle" font-weight="normal">-1</text>
<text x="603.3" y="4023.6" font-size="51" text-anchor="middle" font-weight="normal">0</text>
<text x="675.3" y="4023.6" font-size="51" text-anchor="middle" font-weight="normal">1</text>
<text x="747.2" y="4023.6" font-size="51" text-anchor="middle" font-weight="normal">2</text>
<text x="819.2" y="4023.6" font-size="51" text-anchor="middle" font-weight="normal">3</text>
<text x="891.1" y="4023.6" font-size="51" text-anchor="middle" font-weight="normal">4</text>
<text x="963.1" y="4023.6" font-size="51" text-anchor="middle" font-weight="normal">5</text>
<text x="1035.1" y="4023.6" font-size="51" text-anchor="middle" font-weight="normal">6</text>
<text x="1107" y="4023.6" font-size="51" text-anchor="middle" font-weight="normal">7</text>
<text x="1179" y="4023.6" font-size="51" text-anchor="middle" font-weight="normal">8</text>
<text x="1250.9" y="4023.6" font-size="51" text-anchor="middle" font-weight="normal">9</text>
<text x="1322.9" y="4023.6" font-size="51" text-anchor="middle" font-weight="normal">10</text>
<text x="1394.9" y="4023.6" font-size="51" text-anchor="middle" font-weight="normal">11</text>
<text x="1466.8" y="4023.6" font-size="51" text-anchor="middle" font-weight="normal">12</text>
<text x="1538.8" y="4023.6" font-size="51" text-anchor="middle" font-weight="normal">13</text>
<text x="1610.7" y="4023.6" font-size="51" text-anchor="middle" font-weight="normal">14</text>
<text x="1682.7" y="4023.6" font-size="51" text-anchor="middle" font-weight="normal">15</text>
<text x="206" y="2870.5" font-size="51" text-anchor="end" font-weight="normal">340</text>
<text x="206" y="3009.5" font-size="51" text-anchor="end" font-weight="normal">335</text>
<text x="206" y="3148.5" font-size="51" text-anchor="end" font-weight="normal">330</text>
<text x="206" y="3394.5" font-size="51" text-anchor="end" font-weight="normal">10</text>
<text x="206" y="3679" font-size="51" text-anchor="end" font-weight="normal">5</text>
<text x="206" y="3963.5" font-size="51" text-anchor="end" font-weight="normal">0</text>
</g>
<text x="644.5" y="216.7" font-size="59">PDOS of LaF<tspan font-size="38.5" dx="-2" dy="14.6">3</tspan><tspan dy="-14.6">:Lu</tspan></text>
<text x="1501" y="222" font-size="65" text-anchor="start" font-weight="bold">a</text>
<text x="673.4" y="1531" font-size="60.8">PDOS of LaF<tspan font-size="39.7" dx="-2" dy="15">3</tspan><tspan dy="-15">:Lu</tspan></text>
<text x="1515" y="1536" font-size="65" text-anchor="start" font-weight="bold">b</text>
<text x="653.4" y="2933.8" font-size="60.8">PDOS of LaF<tspan font-size="39.7" dx="-2" dy="15">3</tspan><tspan dy="-15">:Lu</tspan></text>
<text x="1472" y="2934.5" font-size="65" text-anchor="start" font-weight="bold">c</text>
<line x1="735" y1="354" x2="864.5" y2="354" stroke="#0000ff" stroke-width="4" stroke-linecap="round"/>
<text x="881.5" y="374.1" font-size="59" text-anchor="start" font-weight="normal">Lu d</text>
<line x1="735" y1="424.9" x2="864.5" y2="424.9" stroke="#ff0000" stroke-width="4" stroke-linecap="round"/>
<text x="881.5" y="444.9" font-size="59" text-anchor="start" font-weight="normal">Lu f</text>
<line x1="735" y1="495.7" x2="864.5" y2="495.7" stroke="#ff00ff" stroke-width="4" stroke-linecap="round"/>
<text x="881.5" y="515.7" font-size="59" text-anchor="start" font-weight="normal">La d</text>
<line x1="735" y1="566.5" x2="864.5" y2="566.5" stroke="#00ff00" stroke-width="4" stroke-linecap="round"/>
<text x="881.5" y="586.4" font-size="59" text-anchor="start" font-weight="normal">F p</text>
<line x1="735" y1="1654" x2="868.5" y2="1654" stroke="#ff0000" stroke-width="4" stroke-linecap="round"/>
<text x="886" y="1674.7" font-size="60.6" text-anchor="start" font-weight="normal">Lu f</text>
<line x1="735" y1="1727" x2="868.5" y2="1727" stroke="#0000ff" stroke-width="4" stroke-linecap="round"/>
<text x="886" y="1748.2" font-size="60.6" text-anchor="start" font-weight="normal">Lu d</text>
<line x1="735" y1="1801" x2="868.5" y2="1801" stroke="#ff00ff" stroke-width="4" stroke-linecap="round"/>
<text x="886" y="1821.8" font-size="60.6" text-anchor="start" font-weight="normal">La d</text>
<line x1="735" y1="1874" x2="868.5" y2="1874" stroke="#00ff00" stroke-width="4" stroke-linecap="round"/>
<text x="886" y="1894.8" font-size="60.6" text-anchor="start" font-weight="normal">F p</text>
<line x1="723.8" y1="3074.7" x2="857.2" y2="3074.7" stroke="#ff0000" stroke-width="2.6" stroke-linecap="round"/>
<text x="875" y="3096.9" font-size="60.6" text-anchor="start" font-weight="normal">Lu f</text>
<line x1="723.8" y1="3148.2" x2="857.2" y2="3148.2" stroke="#0000ff" stroke-width="2.6" stroke-linecap="round"/>
<text x="875" y="3169" font-size="60.6" text-anchor="start" font-weight="normal">Lu d</text>
<line x1="723.8" y1="3221.8" x2="857.2" y2="3221.8" stroke="#ff00ff" stroke-width="2.6" stroke-linecap="round"/>
<text x="875" y="3242.6" font-size="60.6" text-anchor="start" font-weight="normal">La d</text>
<line x1="723.8" y1="3294.8" x2="857.2" y2="3294.8" stroke="#00ff00" stroke-width="2.6" stroke-linecap="round"/>
<text x="875" y="3314.8" font-size="60.6" text-anchor="start" font-weight="normal">F p</text>
<text x="894" y="1305.7" font-size="59" text-anchor="start" font-weight="normal">E, eV</text>
<text x="869" y="2706.6" font-size="61" text-anchor="start" font-weight="normal">E, eV</text>
<text x="908.4" y="4111" font-size="61" text-anchor="start" font-weight="normal">E, eV</text>
<text x="0" y="0" font-size="60.1" text-anchor="middle" transform="translate(86.8 561.8) rotate(-90)">st. / (eV * cell)</text>
<text x="0" y="0" font-size="59.3" text-anchor="middle" transform="translate(71.2 1901.5) rotate(-90)">st. / (eV * cell)</text>
<text x="0" y="0" font-size="59.4" text-anchor="middle" transform="translate(73.1 3323.7) rotate(-90)">st. / (eV * cell)</text>
</svg></body></html>
